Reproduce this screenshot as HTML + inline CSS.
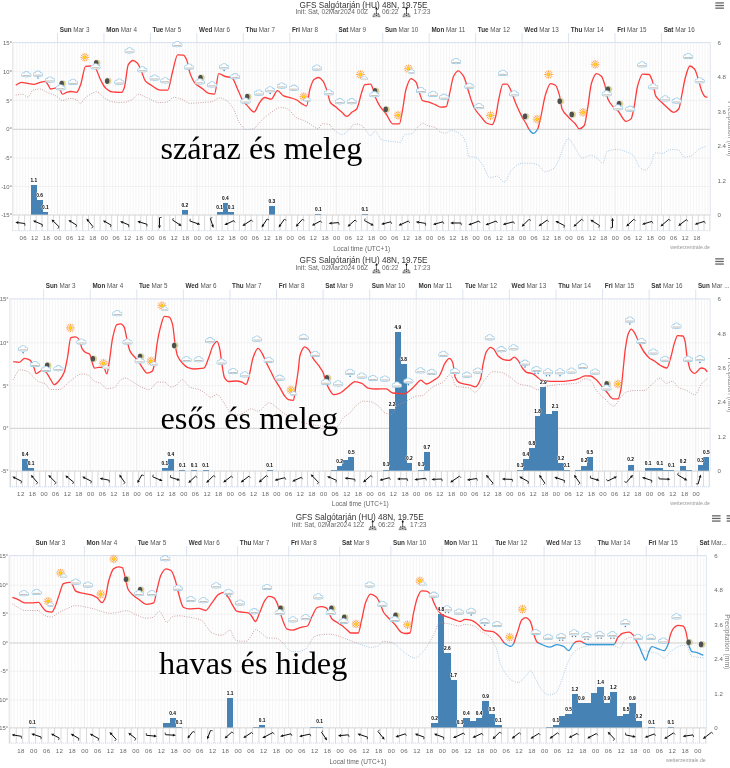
<!DOCTYPE html>
<html><head><meta charset="utf-8"><style>
html,body{margin:0;padding:0;background:#fff;width:730px;height:768px;overflow:hidden}
svg{display:block;font-family:"Liberation Sans", sans-serif;will-change:transform}
</style></head><body>
<svg width="730" height="768" viewBox="0 0 730 768">
<defs><symbol id="cloud" overflow="visible"><g fill="#a3cfe9" stroke="#a3cfe9" stroke-width="1.6"><circle cx="-2.8" cy="1.0" r="1.45"/><circle cx="0.0" cy="0.45" r="2.35"/><circle cx="2.85" cy="1.1" r="1.35"/><rect x="-4.2" y="0.9" width="8.4" height="1.6" rx="0.8"/></g><g fill="#fff"><circle cx="-2.8" cy="1.0" r="1.45"/><circle cx="0.0" cy="0.45" r="2.35"/><circle cx="2.85" cy="1.1" r="1.35"/><rect x="-4.2" y="0.9" width="8.4" height="1.6" rx="0.8"/></g><rect x="-3.7" y="1.35" width="7.4" height="0.95" fill="#c4bcb4"/></symbol><symbol id="sun" overflow="visible"><g stroke="#ff9130" stroke-width="0.85"><line x1="2.3" y1="0" x2="4.3" y2="0"/><line x1="1.99" y1="1.15" x2="3.72" y2="2.15"/><line x1="1.15" y1="1.99" x2="2.15" y2="3.72"/><line x1="0" y1="2.3" x2="0" y2="4.3"/><line x1="-1.15" y1="1.99" x2="-2.15" y2="3.72"/><line x1="-1.99" y1="1.15" x2="-3.72" y2="2.15"/><line x1="-2.3" y1="0" x2="-4.3" y2="0"/><line x1="-1.99" y1="-1.15" x2="-3.72" y2="-2.15"/><line x1="-1.15" y1="-1.99" x2="-2.15" y2="-3.72"/><line x1="-0" y1="-2.3" x2="-0" y2="-4.3"/><line x1="1.15" y1="-1.99" x2="2.15" y2="-3.72"/><line x1="1.99" y1="-1.15" x2="3.72" y2="-2.15"/></g><circle r="1.55" fill="#ffe000" stroke="#ff9000" stroke-width="0.6"/></symbol><clipPath id="mclip"><circle r="3.15"/></clipPath><symbol id="moon" overflow="visible"><circle r="3.5" fill="#bbb" opacity="0.45"/><g clip-path="url(#mclip)"><circle r="3.15" fill="#ddd48e"/><circle cx="-1.7" r="3.05" fill="#4f4f4f"/></g></symbol><symbol id="sunr" overflow="visible"><path d="M-4.3,6.4 A4.3,4.3 0 0 1 4.3,6.4Z" fill="#b8b8b8"/><circle cx="-2.1" cy="3.1" r="0.55" fill="#333"/><circle cx="0" cy="2.5" r="0.55" fill="#333"/><circle cx="2.1" cy="3.1" r="0.55" fill="#333"/><circle cx="-2.6" cy="5.4" r="0.55" fill="#333"/><circle cx="2.6" cy="5.4" r="0.55" fill="#333"/><circle cx="0" cy="4.6" r="0.55" fill="#333"/><line x1="0" y1="-2.6" x2="0" y2="2.8" stroke="#222" stroke-width="0.7"/><path d="M0,-4.1 L-1.1,-1.6 L1.1,-1.6Z" fill="#111"/></symbol><symbol id="suns" overflow="visible"><path d="M-4.3,6.4 A4.3,4.3 0 0 1 4.3,6.4Z" fill="#b8b8b8"/><circle cx="-2.1" cy="3.1" r="0.55" fill="#333"/><circle cx="0" cy="2.5" r="0.55" fill="#333"/><circle cx="2.1" cy="3.1" r="0.55" fill="#333"/><circle cx="-2.6" cy="5.4" r="0.55" fill="#333"/><circle cx="2.6" cy="5.4" r="0.55" fill="#333"/><circle cx="0" cy="4.6" r="0.55" fill="#333"/><line x1="0" y1="-3.9" x2="0" y2="2.8" stroke="#222" stroke-width="0.7"/><path d="M0,-0.4 L-1.1,-2.9 L1.1,-2.9Z" fill="#111"/></symbol><clipPath id="ab1"><rect x="0" y="22.6" width="730" height="106.7"/></clipPath><clipPath id="be1"><rect x="0" y="129.3" width="730" height="95.7"/></clipPath><clipPath id="ab2"><rect x="0" y="278.9" width="730" height="149.4"/></clipPath><clipPath id="be2"><rect x="0" y="428.3" width="730" height="52.8"/></clipPath><clipPath id="ab3"><rect x="0" y="535.6" width="730" height="107.4"/></clipPath><clipPath id="be3"><rect x="0" y="643" width="730" height="94.9"/></clipPath></defs>
<rect width="730" height="768" fill="#fff"/>
<text x="363.5" y="7.5" text-anchor="middle" font-size="8.2" fill="#333">GFS Salgótarján (HU) 48N, 19.75E</text>
<text x="295.5" y="13.7" font-size="6.6" fill="#666">Init: Sat, 02Mar2024 00Z</text>
<use href="#sunr" x="376.4" y="10.8"/>
<text x="382" y="13.7" font-size="6.6" fill="#666">06:22</text>
<use href="#suns" x="406.5" y="10.8"/>
<text x="413.8" y="13.7" font-size="6.6" fill="#666">17:23</text>
<rect x="715.3" y="2.3" width="8.6" height="1.3" fill="#666"/>
<rect x="715.3" y="4.9" width="8.6" height="1.3" fill="#666"/>
<rect x="715.3" y="7.5" width="8.6" height="1.3" fill="#666"/>
<g stroke="#f2f2f2" stroke-width="0.75"><line x1="13.94" y1="42.6" x2="13.94" y2="215"/><line x1="16.85" y1="42.6" x2="16.85" y2="215"/><line x1="19.75" y1="42.6" x2="19.75" y2="215"/><line x1="22.66" y1="42.6" x2="22.66" y2="215"/><line x1="25.56" y1="42.6" x2="25.56" y2="215"/><line x1="28.46" y1="42.6" x2="28.46" y2="215"/><line x1="31.37" y1="42.6" x2="31.37" y2="215"/><line x1="34.27" y1="42.6" x2="34.27" y2="215"/><line x1="37.17" y1="42.6" x2="37.17" y2="215"/><line x1="40.08" y1="42.6" x2="40.08" y2="215"/><line x1="42.98" y1="42.6" x2="42.98" y2="215"/><line x1="45.88" y1="42.6" x2="45.88" y2="215"/><line x1="48.79" y1="42.6" x2="48.79" y2="215"/><line x1="51.69" y1="42.6" x2="51.69" y2="215"/><line x1="54.6" y1="42.6" x2="54.6" y2="215"/><line x1="57.5" y1="42.6" x2="57.5" y2="215"/><line x1="60.4" y1="42.6" x2="60.4" y2="215"/><line x1="63.31" y1="42.6" x2="63.31" y2="215"/><line x1="66.21" y1="42.6" x2="66.21" y2="215"/><line x1="69.11" y1="42.6" x2="69.11" y2="215"/><line x1="72.02" y1="42.6" x2="72.02" y2="215"/><line x1="74.92" y1="42.6" x2="74.92" y2="215"/><line x1="77.83" y1="42.6" x2="77.83" y2="215"/><line x1="80.73" y1="42.6" x2="80.73" y2="215"/><line x1="83.63" y1="42.6" x2="83.63" y2="215"/><line x1="86.54" y1="42.6" x2="86.54" y2="215"/><line x1="89.44" y1="42.6" x2="89.44" y2="215"/><line x1="92.34" y1="42.6" x2="92.34" y2="215"/><line x1="95.25" y1="42.6" x2="95.25" y2="215"/><line x1="98.15" y1="42.6" x2="98.15" y2="215"/><line x1="101.06" y1="42.6" x2="101.06" y2="215"/><line x1="103.96" y1="42.6" x2="103.96" y2="215"/><line x1="106.86" y1="42.6" x2="106.86" y2="215"/><line x1="109.77" y1="42.6" x2="109.77" y2="215"/><line x1="112.67" y1="42.6" x2="112.67" y2="215"/><line x1="115.57" y1="42.6" x2="115.57" y2="215"/><line x1="118.48" y1="42.6" x2="118.48" y2="215"/><line x1="121.38" y1="42.6" x2="121.38" y2="215"/><line x1="124.29" y1="42.6" x2="124.29" y2="215"/><line x1="127.19" y1="42.6" x2="127.19" y2="215"/><line x1="130.09" y1="42.6" x2="130.09" y2="215"/><line x1="133" y1="42.6" x2="133" y2="215"/><line x1="135.9" y1="42.6" x2="135.9" y2="215"/><line x1="138.81" y1="42.6" x2="138.81" y2="215"/><line x1="141.71" y1="42.6" x2="141.71" y2="215"/><line x1="144.61" y1="42.6" x2="144.61" y2="215"/><line x1="147.52" y1="42.6" x2="147.52" y2="215"/><line x1="150.42" y1="42.6" x2="150.42" y2="215"/><line x1="153.32" y1="42.6" x2="153.32" y2="215"/><line x1="156.23" y1="42.6" x2="156.23" y2="215"/><line x1="159.13" y1="42.6" x2="159.13" y2="215"/><line x1="162.04" y1="42.6" x2="162.04" y2="215"/><line x1="164.94" y1="42.6" x2="164.94" y2="215"/><line x1="167.84" y1="42.6" x2="167.84" y2="215"/><line x1="170.75" y1="42.6" x2="170.75" y2="215"/><line x1="173.65" y1="42.6" x2="173.65" y2="215"/><line x1="176.55" y1="42.6" x2="176.55" y2="215"/><line x1="179.46" y1="42.6" x2="179.46" y2="215"/><line x1="182.36" y1="42.6" x2="182.36" y2="215"/><line x1="185.26" y1="42.6" x2="185.26" y2="215"/><line x1="188.17" y1="42.6" x2="188.17" y2="215"/><line x1="191.07" y1="42.6" x2="191.07" y2="215"/><line x1="193.98" y1="42.6" x2="193.98" y2="215"/><line x1="196.88" y1="42.6" x2="196.88" y2="215"/><line x1="199.78" y1="42.6" x2="199.78" y2="215"/><line x1="202.69" y1="42.6" x2="202.69" y2="215"/><line x1="205.59" y1="42.6" x2="205.59" y2="215"/><line x1="208.5" y1="42.6" x2="208.5" y2="215"/><line x1="211.4" y1="42.6" x2="211.4" y2="215"/><line x1="214.3" y1="42.6" x2="214.3" y2="215"/><line x1="217.21" y1="42.6" x2="217.21" y2="215"/><line x1="220.11" y1="42.6" x2="220.11" y2="215"/><line x1="223.01" y1="42.6" x2="223.01" y2="215"/><line x1="225.92" y1="42.6" x2="225.92" y2="215"/><line x1="228.82" y1="42.6" x2="228.82" y2="215"/><line x1="231.72" y1="42.6" x2="231.72" y2="215"/><line x1="234.63" y1="42.6" x2="234.63" y2="215"/><line x1="237.53" y1="42.6" x2="237.53" y2="215"/><line x1="240.44" y1="42.6" x2="240.44" y2="215"/><line x1="243.34" y1="42.6" x2="243.34" y2="215"/><line x1="246.24" y1="42.6" x2="246.24" y2="215"/><line x1="249.15" y1="42.6" x2="249.15" y2="215"/><line x1="252.05" y1="42.6" x2="252.05" y2="215"/><line x1="254.96" y1="42.6" x2="254.96" y2="215"/><line x1="257.86" y1="42.6" x2="257.86" y2="215"/><line x1="260.76" y1="42.6" x2="260.76" y2="215"/><line x1="263.67" y1="42.6" x2="263.67" y2="215"/><line x1="266.57" y1="42.6" x2="266.57" y2="215"/><line x1="269.47" y1="42.6" x2="269.47" y2="215"/><line x1="272.38" y1="42.6" x2="272.38" y2="215"/><line x1="275.28" y1="42.6" x2="275.28" y2="215"/><line x1="278.19" y1="42.6" x2="278.19" y2="215"/><line x1="281.09" y1="42.6" x2="281.09" y2="215"/><line x1="283.99" y1="42.6" x2="283.99" y2="215"/><line x1="286.9" y1="42.6" x2="286.9" y2="215"/><line x1="289.8" y1="42.6" x2="289.8" y2="215"/><line x1="292.7" y1="42.6" x2="292.7" y2="215"/><line x1="295.61" y1="42.6" x2="295.61" y2="215"/><line x1="298.51" y1="42.6" x2="298.51" y2="215"/><line x1="301.41" y1="42.6" x2="301.41" y2="215"/><line x1="304.32" y1="42.6" x2="304.32" y2="215"/><line x1="307.22" y1="42.6" x2="307.22" y2="215"/><line x1="310.13" y1="42.6" x2="310.13" y2="215"/><line x1="313.03" y1="42.6" x2="313.03" y2="215"/><line x1="315.93" y1="42.6" x2="315.93" y2="215"/><line x1="318.84" y1="42.6" x2="318.84" y2="215"/><line x1="321.74" y1="42.6" x2="321.74" y2="215"/><line x1="324.65" y1="42.6" x2="324.65" y2="215"/><line x1="327.55" y1="42.6" x2="327.55" y2="215"/><line x1="330.45" y1="42.6" x2="330.45" y2="215"/><line x1="333.36" y1="42.6" x2="333.36" y2="215"/><line x1="336.26" y1="42.6" x2="336.26" y2="215"/><line x1="339.16" y1="42.6" x2="339.16" y2="215"/><line x1="342.07" y1="42.6" x2="342.07" y2="215"/><line x1="344.97" y1="42.6" x2="344.97" y2="215"/><line x1="347.88" y1="42.6" x2="347.88" y2="215"/><line x1="350.78" y1="42.6" x2="350.78" y2="215"/><line x1="353.68" y1="42.6" x2="353.68" y2="215"/><line x1="356.59" y1="42.6" x2="356.59" y2="215"/><line x1="359.49" y1="42.6" x2="359.49" y2="215"/><line x1="362.39" y1="42.6" x2="362.39" y2="215"/><line x1="365.3" y1="42.6" x2="365.3" y2="215"/><line x1="368.2" y1="42.6" x2="368.2" y2="215"/><line x1="371.11" y1="42.6" x2="371.11" y2="215"/><line x1="374.01" y1="42.6" x2="374.01" y2="215"/><line x1="376.91" y1="42.6" x2="376.91" y2="215"/><line x1="379.82" y1="42.6" x2="379.82" y2="215"/><line x1="382.72" y1="42.6" x2="382.72" y2="215"/><line x1="385.62" y1="42.6" x2="385.62" y2="215"/><line x1="388.53" y1="42.6" x2="388.53" y2="215"/><line x1="391.43" y1="42.6" x2="391.43" y2="215"/><line x1="394.33" y1="42.6" x2="394.33" y2="215"/><line x1="397.24" y1="42.6" x2="397.24" y2="215"/><line x1="400.14" y1="42.6" x2="400.14" y2="215"/><line x1="403.05" y1="42.6" x2="403.05" y2="215"/><line x1="405.95" y1="42.6" x2="405.95" y2="215"/><line x1="408.85" y1="42.6" x2="408.85" y2="215"/><line x1="411.76" y1="42.6" x2="411.76" y2="215"/><line x1="414.66" y1="42.6" x2="414.66" y2="215"/><line x1="417.56" y1="42.6" x2="417.56" y2="215"/><line x1="420.47" y1="42.6" x2="420.47" y2="215"/><line x1="423.37" y1="42.6" x2="423.37" y2="215"/><line x1="426.28" y1="42.6" x2="426.28" y2="215"/><line x1="429.18" y1="42.6" x2="429.18" y2="215"/><line x1="432.08" y1="42.6" x2="432.08" y2="215"/><line x1="434.99" y1="42.6" x2="434.99" y2="215"/><line x1="437.89" y1="42.6" x2="437.89" y2="215"/><line x1="440.8" y1="42.6" x2="440.8" y2="215"/><line x1="443.7" y1="42.6" x2="443.7" y2="215"/><line x1="446.6" y1="42.6" x2="446.6" y2="215"/><line x1="449.51" y1="42.6" x2="449.51" y2="215"/><line x1="452.41" y1="42.6" x2="452.41" y2="215"/><line x1="455.31" y1="42.6" x2="455.31" y2="215"/><line x1="458.22" y1="42.6" x2="458.22" y2="215"/><line x1="461.12" y1="42.6" x2="461.12" y2="215"/><line x1="464.03" y1="42.6" x2="464.03" y2="215"/><line x1="466.93" y1="42.6" x2="466.93" y2="215"/><line x1="469.83" y1="42.6" x2="469.83" y2="215"/><line x1="472.74" y1="42.6" x2="472.74" y2="215"/><line x1="475.64" y1="42.6" x2="475.64" y2="215"/><line x1="478.54" y1="42.6" x2="478.54" y2="215"/><line x1="481.45" y1="42.6" x2="481.45" y2="215"/><line x1="484.35" y1="42.6" x2="484.35" y2="215"/><line x1="487.26" y1="42.6" x2="487.26" y2="215"/><line x1="490.16" y1="42.6" x2="490.16" y2="215"/><line x1="493.06" y1="42.6" x2="493.06" y2="215"/><line x1="495.97" y1="42.6" x2="495.97" y2="215"/><line x1="498.87" y1="42.6" x2="498.87" y2="215"/><line x1="501.77" y1="42.6" x2="501.77" y2="215"/><line x1="504.68" y1="42.6" x2="504.68" y2="215"/><line x1="507.58" y1="42.6" x2="507.58" y2="215"/><line x1="510.48" y1="42.6" x2="510.48" y2="215"/><line x1="513.39" y1="42.6" x2="513.39" y2="215"/><line x1="516.29" y1="42.6" x2="516.29" y2="215"/><line x1="519.2" y1="42.6" x2="519.2" y2="215"/><line x1="522.1" y1="42.6" x2="522.1" y2="215"/><line x1="525" y1="42.6" x2="525" y2="215"/><line x1="527.91" y1="42.6" x2="527.91" y2="215"/><line x1="530.81" y1="42.6" x2="530.81" y2="215"/><line x1="533.71" y1="42.6" x2="533.71" y2="215"/><line x1="536.62" y1="42.6" x2="536.62" y2="215"/><line x1="539.52" y1="42.6" x2="539.52" y2="215"/><line x1="542.43" y1="42.6" x2="542.43" y2="215"/><line x1="545.33" y1="42.6" x2="545.33" y2="215"/><line x1="548.23" y1="42.6" x2="548.23" y2="215"/><line x1="551.14" y1="42.6" x2="551.14" y2="215"/><line x1="554.04" y1="42.6" x2="554.04" y2="215"/><line x1="556.94" y1="42.6" x2="556.94" y2="215"/><line x1="559.85" y1="42.6" x2="559.85" y2="215"/><line x1="562.75" y1="42.6" x2="562.75" y2="215"/><line x1="565.66" y1="42.6" x2="565.66" y2="215"/><line x1="568.56" y1="42.6" x2="568.56" y2="215"/><line x1="571.46" y1="42.6" x2="571.46" y2="215"/><line x1="574.37" y1="42.6" x2="574.37" y2="215"/><line x1="577.27" y1="42.6" x2="577.27" y2="215"/><line x1="580.18" y1="42.6" x2="580.18" y2="215"/><line x1="583.08" y1="42.6" x2="583.08" y2="215"/><line x1="585.98" y1="42.6" x2="585.98" y2="215"/><line x1="588.89" y1="42.6" x2="588.89" y2="215"/><line x1="591.79" y1="42.6" x2="591.79" y2="215"/><line x1="594.69" y1="42.6" x2="594.69" y2="215"/><line x1="597.6" y1="42.6" x2="597.6" y2="215"/><line x1="600.5" y1="42.6" x2="600.5" y2="215"/><line x1="603.4" y1="42.6" x2="603.4" y2="215"/><line x1="606.31" y1="42.6" x2="606.31" y2="215"/><line x1="609.21" y1="42.6" x2="609.21" y2="215"/><line x1="612.12" y1="42.6" x2="612.12" y2="215"/><line x1="615.02" y1="42.6" x2="615.02" y2="215"/><line x1="617.92" y1="42.6" x2="617.92" y2="215"/><line x1="620.83" y1="42.6" x2="620.83" y2="215"/><line x1="623.73" y1="42.6" x2="623.73" y2="215"/><line x1="626.63" y1="42.6" x2="626.63" y2="215"/><line x1="629.54" y1="42.6" x2="629.54" y2="215"/><line x1="632.44" y1="42.6" x2="632.44" y2="215"/><line x1="635.35" y1="42.6" x2="635.35" y2="215"/><line x1="638.25" y1="42.6" x2="638.25" y2="215"/><line x1="641.15" y1="42.6" x2="641.15" y2="215"/><line x1="644.06" y1="42.6" x2="644.06" y2="215"/><line x1="646.96" y1="42.6" x2="646.96" y2="215"/><line x1="649.87" y1="42.6" x2="649.87" y2="215"/><line x1="652.77" y1="42.6" x2="652.77" y2="215"/><line x1="655.67" y1="42.6" x2="655.67" y2="215"/><line x1="658.58" y1="42.6" x2="658.58" y2="215"/><line x1="661.48" y1="42.6" x2="661.48" y2="215"/><line x1="664.38" y1="42.6" x2="664.38" y2="215"/><line x1="667.29" y1="42.6" x2="667.29" y2="215"/><line x1="670.19" y1="42.6" x2="670.19" y2="215"/><line x1="673.1" y1="42.6" x2="673.1" y2="215"/><line x1="676" y1="42.6" x2="676" y2="215"/><line x1="678.9" y1="42.6" x2="678.9" y2="215"/><line x1="681.81" y1="42.6" x2="681.81" y2="215"/><line x1="684.71" y1="42.6" x2="684.71" y2="215"/><line x1="687.61" y1="42.6" x2="687.61" y2="215"/><line x1="690.52" y1="42.6" x2="690.52" y2="215"/><line x1="693.42" y1="42.6" x2="693.42" y2="215"/><line x1="696.33" y1="42.6" x2="696.33" y2="215"/><line x1="699.23" y1="42.6" x2="699.23" y2="215"/><line x1="702.13" y1="42.6" x2="702.13" y2="215"/><line x1="705.04" y1="42.6" x2="705.04" y2="215"/><line x1="707.94" y1="42.6" x2="707.94" y2="215"/></g>
<g stroke="#efefef" stroke-width="0.8"><line x1="12.7" y1="71.6" x2="710.3" y2="71.6"/><line x1="12.7" y1="100.4" x2="710.3" y2="100.4"/><line x1="12.7" y1="158" x2="710.3" y2="158"/><line x1="12.7" y1="186.5" x2="710.3" y2="186.5"/></g>
<g stroke="#eaeaea" stroke-width="0.8"><line x1="57.5" y1="42.6" x2="57.5" y2="215"/><line x1="103.96" y1="42.6" x2="103.96" y2="215"/><line x1="150.42" y1="42.6" x2="150.42" y2="215"/><line x1="196.88" y1="42.6" x2="196.88" y2="215"/><line x1="243.34" y1="42.6" x2="243.34" y2="215"/><line x1="289.8" y1="42.6" x2="289.8" y2="215"/><line x1="336.26" y1="42.6" x2="336.26" y2="215"/><line x1="382.72" y1="42.6" x2="382.72" y2="215"/><line x1="429.18" y1="42.6" x2="429.18" y2="215"/><line x1="475.64" y1="42.6" x2="475.64" y2="215"/><line x1="522.1" y1="42.6" x2="522.1" y2="215"/><line x1="568.56" y1="42.6" x2="568.56" y2="215"/><line x1="615.02" y1="42.6" x2="615.02" y2="215"/><line x1="661.48" y1="42.6" x2="661.48" y2="215"/></g>
<g stroke="#d3dcec" stroke-width="0.8"><line x1="57.5" y1="33.1" x2="57.5" y2="42.6"/><line x1="103.96" y1="33.1" x2="103.96" y2="42.6"/><line x1="150.42" y1="33.1" x2="150.42" y2="42.6"/><line x1="196.88" y1="33.1" x2="196.88" y2="42.6"/><line x1="243.34" y1="33.1" x2="243.34" y2="42.6"/><line x1="289.8" y1="33.1" x2="289.8" y2="42.6"/><line x1="336.26" y1="33.1" x2="336.26" y2="42.6"/><line x1="382.72" y1="33.1" x2="382.72" y2="42.6"/><line x1="429.18" y1="33.1" x2="429.18" y2="42.6"/><line x1="475.64" y1="33.1" x2="475.64" y2="42.6"/><line x1="522.1" y1="33.1" x2="522.1" y2="42.6"/><line x1="568.56" y1="33.1" x2="568.56" y2="42.6"/><line x1="615.02" y1="33.1" x2="615.02" y2="42.6"/><line x1="661.48" y1="33.1" x2="661.48" y2="42.6"/></g>
<line x1="12.7" y1="129.3" x2="710.3" y2="129.3" stroke="#cfcfcf" stroke-width="1"/>
<line x1="12.7" y1="42.6" x2="710.3" y2="42.6" stroke="#d3dcec" stroke-width="0.9"/>
<line x1="710.3" y1="42.6" x2="710.3" y2="215" stroke="#d8dde8" stroke-width="0.8"/>
<line x1="12.7" y1="42.6" x2="12.7" y2="230.7" stroke="#dcdcdc" stroke-width="0.8"/>
<text x="59.7" y="31.5" font-size="6.3" fill="#555"><tspan font-weight="bold" fill="#333">Sun</tspan> Mar 3</text>
<text x="106.16" y="31.5" font-size="6.3" fill="#555"><tspan font-weight="bold" fill="#333">Mon</tspan> Mar 4</text>
<text x="152.62" y="31.5" font-size="6.3" fill="#555"><tspan font-weight="bold" fill="#333">Tue</tspan> Mar 5</text>
<text x="199.08" y="31.5" font-size="6.3" fill="#555"><tspan font-weight="bold" fill="#333">Wed</tspan> Mar 6</text>
<text x="245.54" y="31.5" font-size="6.3" fill="#555"><tspan font-weight="bold" fill="#333">Thu</tspan> Mar 7</text>
<text x="292" y="31.5" font-size="6.3" fill="#555"><tspan font-weight="bold" fill="#333">Fri</tspan> Mar 8</text>
<text x="338.46" y="31.5" font-size="6.3" fill="#555"><tspan font-weight="bold" fill="#333">Sat</tspan> Mar 9</text>
<text x="384.92" y="31.5" font-size="6.3" fill="#555"><tspan font-weight="bold" fill="#333">Sun</tspan> Mar 10</text>
<text x="431.38" y="31.5" font-size="6.3" fill="#555"><tspan font-weight="bold" fill="#333">Mon</tspan> Mar 11</text>
<text x="477.84" y="31.5" font-size="6.3" fill="#555"><tspan font-weight="bold" fill="#333">Tue</tspan> Mar 12</text>
<text x="524.3" y="31.5" font-size="6.3" fill="#555"><tspan font-weight="bold" fill="#333">Wed</tspan> Mar 13</text>
<text x="570.76" y="31.5" font-size="6.3" fill="#555"><tspan font-weight="bold" fill="#333">Thu</tspan> Mar 14</text>
<text x="617.22" y="31.5" font-size="6.3" fill="#555"><tspan font-weight="bold" fill="#333">Fri</tspan> Mar 15</text>
<text x="663.68" y="31.5" font-size="6.3" fill="#555"><tspan font-weight="bold" fill="#333">Sat</tspan> Mar 16</text>
<text x="12" y="44.7" text-anchor="end" font-size="5.9" fill="#666">15°</text>
<text x="12" y="73.7" text-anchor="end" font-size="5.9" fill="#666">10°</text>
<text x="12" y="102.5" text-anchor="end" font-size="5.9" fill="#666">5°</text>
<text x="12" y="131.4" text-anchor="end" font-size="5.9" fill="#666">0°</text>
<text x="12" y="160.1" text-anchor="end" font-size="5.9" fill="#666">-5°</text>
<text x="12" y="188.6" text-anchor="end" font-size="5.9" fill="#666">-10°</text>
<text x="12" y="217.1" text-anchor="end" font-size="5.9" fill="#666">-15°</text>
<text x="717.5" y="217.2" font-size="6.1" fill="#666">0</text>
<text x="717.5" y="182.72" font-size="6.1" fill="#666">1.2</text>
<text x="717.5" y="148.24" font-size="6.1" fill="#666">2.4</text>
<text x="717.5" y="113.76" font-size="6.1" fill="#666">3.6</text>
<text x="717.5" y="79.28" font-size="6.1" fill="#666">4.8</text>
<text x="717.5" y="44.8" font-size="6.1" fill="#666">6</text>
<text transform="translate(728.1,128.8) rotate(90)" text-anchor="middle" font-size="6.8" fill="#808080">Precipitation (mm)</text>
<g fill="#4682b4" shape-rendering="crispEdges"><rect x="30.85" y="185.1" width="5.91" height="29.9"/><rect x="36.66" y="199.9" width="5.91" height="15.1"/><rect x="42.46" y="211.9" width="5.91" height="3.1"/><rect x="181.84" y="210" width="5.91" height="5"/><rect x="216.69" y="212.2" width="5.91" height="2.8"/><rect x="222.5" y="203.2" width="5.91" height="11.8"/><rect x="228.3" y="212.2" width="5.91" height="2.8"/><rect x="268.96" y="206.2" width="5.91" height="8.8"/><rect x="315.42" y="213.9" width="5.91" height="1.1"/><rect x="361.88" y="213.9" width="5.91" height="1.1"/></g>
<path d="M15.75,95.1 C17.93,94.8 20.12,94.2 22.3,94.2 C24.13,94.2 25.97,97.2 27.8,97.2 C29.53,97.2 31.27,90.63 33,90.1 C35.2,89.43 37.4,89 39.6,89 C42.33,89 45.07,91.45 47.8,92.6 C50.53,93.75 53.27,94.49 56,95.9 C58.2,97.03 60.4,100.5 62.6,100.5 C65.07,100.5 67.53,98.4 70,98.4 C71.93,98.4 73.87,98.89 75.8,99.5 C77.33,99.98 78.87,103.3 80.4,103.3 C82.13,103.3 83.87,98.75 85.6,97.5 C89.43,94.74 93.27,91.8 97.1,91.8 C99.3,91.8 101.5,96.09 103.7,97.5 C106.43,99.25 109.17,101.17 111.9,101.6 C115.2,102.12 118.5,102.5 121.8,102.5 C125.07,102.5 128.33,101.34 131.6,100 C133.8,99.1 136,94.2 138.2,94.2 C140.93,94.2 143.67,96.43 146.4,97.5 C150.77,99.21 155.13,102.5 159.5,102.5 C161.97,102.5 164.43,102.35 166.9,102.1 C169.1,101.88 171.3,97.5 173.5,97.5 C175.97,97.5 178.43,98.24 180.9,98.9 C183.9,99.71 186.9,103.3 189.9,103.3 C194.03,103.3 198.17,102.82 202.3,102.5 C205.57,102.25 208.83,102.12 212.1,101.6 C214.57,101.2 217.03,97.9 219.5,97.9 C221.97,97.9 224.43,99.32 226.9,100.8 C229.1,102.12 231.3,105.48 233.5,109 C235.7,112.52 237.9,120.99 240.1,123.8 C242.27,126.56 244.43,129.6 246.6,129.6 C248.8,129.6 251,129.26 253.2,128.8 C255.93,128.23 258.67,123.11 261.4,120.6 C264.67,117.6 267.93,114.34 271.2,112.3 C274.5,110.24 277.8,107.4 281.1,107.4 C283.3,107.4 285.5,108.16 287.7,109 C290.43,110.05 293.17,115.67 295.9,117.3 C299.2,119.27 302.5,119.73 305.8,121.4 C307.97,122.5 310.13,124.21 312.3,125.5 C314.23,126.66 316.17,128.8 318.1,128.8 C319.47,128.8 320.83,123.8 322.2,123.8 C324.4,123.8 326.6,123.94 328.8,124.2 C330.43,124.4 332.07,128.3 333.7,129.6 C336.43,131.77 339.17,134.5 341.9,134.5 C344.37,134.5 346.83,131.76 349.3,129.6 C350.67,128.4 352.03,125.09 353.4,124.7 C354.6,124.35 355.8,124.1 357,124.1 C358.7,124.1 360.4,124.95 362.1,125.9 C363.4,126.63 364.7,129.1 366,130.6 C367.57,132.41 369.13,135.8 370.7,135.8 C372.17,135.8 373.63,131.1 375.1,131.1 C377.27,131.1 379.43,139 381.6,139.7 C385.1,140.83 388.6,141.07 392.1,141.5 C394.87,141.84 397.63,142.3 400.4,142.3 C401.77,142.3 403.13,134.82 404.5,134.5 C406.87,133.95 409.23,134.19 411.6,133.7 C413.77,133.25 415.93,128.56 418.1,126.7 C419.67,125.36 421.23,123.3 422.8,123.3 C424.7,123.3 426.6,125.29 428.5,125.9 C430.67,126.6 432.83,126.66 435,127.5 C436.73,128.17 438.47,131.23 440.2,131.9 C441.93,132.57 443.67,133.2 445.4,133.2 C447.4,133.2 449.4,130.6 451.4,130.6 C454.6,130.6 457.8,132.25 461,134.5 C462.73,135.72 464.47,138.85 466.2,143.6 C467.07,145.97 467.93,156.42 468.8,156.6 C470.97,157.06 473.13,156.84 475.3,157.2 C477.93,157.64 480.57,162.2 483.2,165.8 C485.37,168.76 487.53,177.5 489.7,177.5 C492.3,177.5 494.9,176.2 497.5,176.2 C499.67,176.2 501.83,182.2 504,182.2 C506.6,182.2 509.2,172.09 511.8,169.7 C515.27,166.52 518.73,163.2 522.2,163.2 C524.5,163.2 526.8,163.2 529.1,163.2 C532.13,163.2 535.17,163.95 538.2,165 C540.37,165.75 542.53,171.7 544.7,171.7 C547.73,171.7 550.77,170.34 553.8,168.4 C555.53,167.29 557.27,162.93 559,159.2 C560.73,155.47 562.47,148.4 564.2,144.9 C565.53,142.21 566.87,138.4 568.2,138.4 C569.93,138.4 571.67,142.6 573.4,144.9 C576.43,148.93 579.47,158 582.5,158 C585.27,158 588.03,155.3 590.8,155.3 C592.8,155.3 594.8,156.82 596.8,158 C598.8,159.18 600.8,163.2 602.8,163.2 C604.27,163.2 605.73,152 607.2,151.4 C610.67,149.99 614.13,149.4 617.6,149.4 C620.63,149.4 623.67,150.87 626.7,152 C628.87,152.8 631.03,153.58 633.2,155.3 C635.37,157.02 637.53,165.19 639.7,167.1 C641.43,168.63 643.17,170.2 644.9,170.2 C646.63,170.2 648.37,168 650.1,165.8 C651.83,163.6 653.57,152.7 655.3,152.7 C657.5,152.7 659.7,153.5 661.9,153.5 C664.93,153.5 667.97,149.4 671,149.4 C673.6,149.4 676.2,149.63 678.8,150.1 C680.53,150.41 682.27,157.2 684,157.2 C686.17,157.2 688.33,156.68 690.5,156.1 C693.53,155.28 696.57,150.28 699.6,148.8 C702.03,147.62 704.47,147.07 706.9,146.2" fill="none" stroke="#bf9090" stroke-width="0.9" stroke-dasharray="0.9 1.5" clip-path="url(#ab1)"/>
<path d="M15.75,95.1 C17.93,94.8 20.12,94.2 22.3,94.2 C24.13,94.2 25.97,97.2 27.8,97.2 C29.53,97.2 31.27,90.63 33,90.1 C35.2,89.43 37.4,89 39.6,89 C42.33,89 45.07,91.45 47.8,92.6 C50.53,93.75 53.27,94.49 56,95.9 C58.2,97.03 60.4,100.5 62.6,100.5 C65.07,100.5 67.53,98.4 70,98.4 C71.93,98.4 73.87,98.89 75.8,99.5 C77.33,99.98 78.87,103.3 80.4,103.3 C82.13,103.3 83.87,98.75 85.6,97.5 C89.43,94.74 93.27,91.8 97.1,91.8 C99.3,91.8 101.5,96.09 103.7,97.5 C106.43,99.25 109.17,101.17 111.9,101.6 C115.2,102.12 118.5,102.5 121.8,102.5 C125.07,102.5 128.33,101.34 131.6,100 C133.8,99.1 136,94.2 138.2,94.2 C140.93,94.2 143.67,96.43 146.4,97.5 C150.77,99.21 155.13,102.5 159.5,102.5 C161.97,102.5 164.43,102.35 166.9,102.1 C169.1,101.88 171.3,97.5 173.5,97.5 C175.97,97.5 178.43,98.24 180.9,98.9 C183.9,99.71 186.9,103.3 189.9,103.3 C194.03,103.3 198.17,102.82 202.3,102.5 C205.57,102.25 208.83,102.12 212.1,101.6 C214.57,101.2 217.03,97.9 219.5,97.9 C221.97,97.9 224.43,99.32 226.9,100.8 C229.1,102.12 231.3,105.48 233.5,109 C235.7,112.52 237.9,120.99 240.1,123.8 C242.27,126.56 244.43,129.6 246.6,129.6 C248.8,129.6 251,129.26 253.2,128.8 C255.93,128.23 258.67,123.11 261.4,120.6 C264.67,117.6 267.93,114.34 271.2,112.3 C274.5,110.24 277.8,107.4 281.1,107.4 C283.3,107.4 285.5,108.16 287.7,109 C290.43,110.05 293.17,115.67 295.9,117.3 C299.2,119.27 302.5,119.73 305.8,121.4 C307.97,122.5 310.13,124.21 312.3,125.5 C314.23,126.66 316.17,128.8 318.1,128.8 C319.47,128.8 320.83,123.8 322.2,123.8 C324.4,123.8 326.6,123.94 328.8,124.2 C330.43,124.4 332.07,128.3 333.7,129.6 C336.43,131.77 339.17,134.5 341.9,134.5 C344.37,134.5 346.83,131.76 349.3,129.6 C350.67,128.4 352.03,125.09 353.4,124.7 C354.6,124.35 355.8,124.1 357,124.1 C358.7,124.1 360.4,124.95 362.1,125.9 C363.4,126.63 364.7,129.1 366,130.6 C367.57,132.41 369.13,135.8 370.7,135.8 C372.17,135.8 373.63,131.1 375.1,131.1 C377.27,131.1 379.43,139 381.6,139.7 C385.1,140.83 388.6,141.07 392.1,141.5 C394.87,141.84 397.63,142.3 400.4,142.3 C401.77,142.3 403.13,134.82 404.5,134.5 C406.87,133.95 409.23,134.19 411.6,133.7 C413.77,133.25 415.93,128.56 418.1,126.7 C419.67,125.36 421.23,123.3 422.8,123.3 C424.7,123.3 426.6,125.29 428.5,125.9 C430.67,126.6 432.83,126.66 435,127.5 C436.73,128.17 438.47,131.23 440.2,131.9 C441.93,132.57 443.67,133.2 445.4,133.2 C447.4,133.2 449.4,130.6 451.4,130.6 C454.6,130.6 457.8,132.25 461,134.5 C462.73,135.72 464.47,138.85 466.2,143.6 C467.07,145.97 467.93,156.42 468.8,156.6 C470.97,157.06 473.13,156.84 475.3,157.2 C477.93,157.64 480.57,162.2 483.2,165.8 C485.37,168.76 487.53,177.5 489.7,177.5 C492.3,177.5 494.9,176.2 497.5,176.2 C499.67,176.2 501.83,182.2 504,182.2 C506.6,182.2 509.2,172.09 511.8,169.7 C515.27,166.52 518.73,163.2 522.2,163.2 C524.5,163.2 526.8,163.2 529.1,163.2 C532.13,163.2 535.17,163.95 538.2,165 C540.37,165.75 542.53,171.7 544.7,171.7 C547.73,171.7 550.77,170.34 553.8,168.4 C555.53,167.29 557.27,162.93 559,159.2 C560.73,155.47 562.47,148.4 564.2,144.9 C565.53,142.21 566.87,138.4 568.2,138.4 C569.93,138.4 571.67,142.6 573.4,144.9 C576.43,148.93 579.47,158 582.5,158 C585.27,158 588.03,155.3 590.8,155.3 C592.8,155.3 594.8,156.82 596.8,158 C598.8,159.18 600.8,163.2 602.8,163.2 C604.27,163.2 605.73,152 607.2,151.4 C610.67,149.99 614.13,149.4 617.6,149.4 C620.63,149.4 623.67,150.87 626.7,152 C628.87,152.8 631.03,153.58 633.2,155.3 C635.37,157.02 637.53,165.19 639.7,167.1 C641.43,168.63 643.17,170.2 644.9,170.2 C646.63,170.2 648.37,168 650.1,165.8 C651.83,163.6 653.57,152.7 655.3,152.7 C657.5,152.7 659.7,153.5 661.9,153.5 C664.93,153.5 667.97,149.4 671,149.4 C673.6,149.4 676.2,149.63 678.8,150.1 C680.53,150.41 682.27,157.2 684,157.2 C686.17,157.2 688.33,156.68 690.5,156.1 C693.53,155.28 696.57,150.28 699.6,148.8 C702.03,147.62 704.47,147.07 706.9,146.2" fill="none" stroke="#9dbfe0" stroke-width="0.9" stroke-dasharray="0.9 1.4" clip-path="url(#be1)"/>
<path d="M15.75,85.2 C17.67,84.27 19.58,82.4 21.5,82.4 C23.13,82.4 24.77,82.84 26.4,83.1 C28.87,83.49 31.33,84.4 33.8,84.4 C35.73,84.4 37.67,83.2 39.6,82.7 C41.5,82.21 43.4,81.4 45.3,81.4 C46.13,81.4 46.97,83.28 47.8,84.4 C48.8,85.74 49.8,89 50.8,89 C52.53,89 54.27,88 56,88 C57.1,88 58.2,88.19 59.3,88.5 C60.3,88.78 61.3,94.2 62.3,94.2 C63.77,94.2 65.23,92.69 66.7,92.3 C68.07,91.93 69.43,91.5 70.8,91.5 C72.73,91.5 74.67,92.3 76.6,92.3 C77.97,92.3 79.33,87.83 80.7,84.4 C82.33,80.3 83.97,66.5 85.6,66.3 C87.23,66.1 88.87,66 90.5,66 C91.9,66 93.3,66.47 94.7,67.1 C96.6,67.95 98.5,75.92 100.4,79.5 C102.03,82.58 103.67,86.19 105.3,87.7 C107.5,89.74 109.7,91.58 111.9,91.8 C115.2,92.13 118.5,92.3 121.8,92.3 C122.63,92.3 123.47,89.93 124.3,87.7 C125.63,84.12 126.97,66.84 128.3,64.7 C129.83,62.24 131.37,60.5 132.9,60.5 C134.37,60.5 135.83,61.69 137.3,63 C138.67,64.22 140.03,68.21 141.4,71.2 C142.77,74.19 144.13,79.56 145.5,81.1 C147.43,83.28 149.37,84 151.3,85.2 C154.3,87.06 157.3,90.1 160.3,90.1 C162.77,90.1 165.23,90.1 167.7,90.1 C169.37,90.1 171.03,77.12 172.7,71.2 C174.33,65.4 175.97,54.8 177.6,54.8 C179.53,54.8 181.47,54.89 183.4,55.1 C184.47,55.22 185.53,57.45 186.6,59.7 C187.7,62.02 188.8,69.86 189.9,72.9 C191.57,77.51 193.23,81.25 194.9,83.1 C197.37,85.83 199.83,86.67 202.3,88.5 C204.47,90.11 206.63,92.9 208.8,93.4 C210.73,93.85 212.67,94.2 214.6,94.2 C215.97,94.2 217.33,73.7 218.7,73.7 C220.9,73.7 223.1,75.91 225.3,76.5 C227.5,77.09 229.7,77.01 231.9,77.8 C234.07,78.58 236.23,86.5 238.4,91 C240.07,94.46 241.73,99.34 243.4,101.6 C244.47,103.04 245.53,103.83 246.6,104.9 C249.07,107.36 251.53,112 254,112 C255.9,112 257.8,104.86 259.7,102.5 C261.37,100.43 263.03,97.5 264.7,97.5 C266.87,97.5 269.03,99.2 271.2,99.2 C273.3,99.2 275.4,90.6 277.5,90.6 C279.53,90.6 281.57,95.05 283.6,95.9 C286.07,96.93 288.53,97.13 291,97.9 C292.9,98.5 294.8,99.08 296.7,100 C298.63,100.94 300.57,103 302.5,104.1 C303.87,104.88 305.23,106.1 306.6,106.1 C307.7,106.1 308.8,92.93 309.9,89.3 C311.27,84.8 312.63,80.52 314,79.5 C315.53,78.36 317.07,77.5 318.6,77.5 C320.07,77.5 321.53,79.3 323,81.1 C324.37,82.78 325.73,87.08 327.1,91 C328.2,94.16 329.3,100.95 330.4,102.5 C332.03,104.8 333.67,105.21 335.3,106.6 C337.5,108.47 339.7,110.45 341.9,112.3 C343.57,113.7 345.23,116.4 346.9,116.4 C348.53,116.4 350.17,113.52 351.8,112.3 C353.43,111.08 355.07,110.93 356.7,109 C357.23,108.37 357.77,106.49 358.3,104.9 C359.4,101.63 360.5,95.81 361.6,92.6 C362.7,89.39 363.8,84.94 364.9,84.7 C366.8,84.28 368.7,84.1 370.6,84.1 C371.43,84.1 372.27,87.14 373.1,89.3 C373.9,91.37 374.7,95.45 375.5,97.5 C376.9,101.09 378.3,103.61 379.7,105.8 C381.87,109.19 384.03,111.05 386.2,114 C388.4,117 390.6,123.8 392.8,123.8 C395,123.8 397.2,123.8 399.4,123.8 C400.5,123.8 401.6,114.63 402.7,109 C403.8,103.37 404.9,92.93 406,89.3 C407.63,83.91 409.27,78.6 410.9,78.6 C412.53,78.6 414.17,80.07 415.8,81.9 C417.17,83.43 418.53,90.48 419.9,94.2 C420.73,96.47 421.57,100.08 422.4,100.5 C424.6,101.61 426.8,101.42 429,102.1 C431.2,102.78 433.4,103.94 435.6,104.9 C437.23,105.61 438.87,107.1 440.5,107.1 C442.4,107.1 444.3,106.96 446.2,106.6 C447.3,106.39 448.4,98.64 449.5,94.2 C450.87,88.68 452.23,78.72 453.6,76.2 C455.13,73.37 456.67,70.9 458.2,70.9 C459.97,70.9 461.73,73.53 463.5,76.2 C465.13,78.67 466.77,85.9 468.4,91 C469.5,94.43 470.6,98.64 471.7,101.6 C472.77,104.47 473.83,107.2 474.9,109 C477.1,112.71 479.3,114.65 481.5,117.3 C483.13,119.27 484.77,122.22 486.4,123 C488.33,123.92 490.27,124.7 492.2,124.7 C493.3,124.7 494.4,120.8 495.5,117.3 C496.6,113.8 497.7,104.08 498.8,99.2 C500.17,93.13 501.53,84.1 502.9,84.1 C504.27,84.1 505.63,84.1 507,84.1 C508.37,84.1 509.73,88.2 511.1,91 C512.73,94.35 514.37,100.22 516,104.1 C517.93,108.69 519.87,112.77 521.8,116.4 C523.43,119.47 525.07,121.71 526.7,124.7 C527.53,126.23 528.37,128.52 529.2,129.6 C530.57,131.37 531.93,133.4 533.3,133.4 C534.67,133.4 536.03,131.67 537.4,129.6 C538.5,127.93 539.6,121.84 540.7,117.3 C542.33,110.55 543.97,98.98 545.6,94.2 C547.27,89.32 548.93,83.6 550.6,83.6 C552.23,83.6 553.87,84.23 555.5,85.2 C556.87,86.01 558.23,91.01 559.6,95.9 C560.43,98.88 561.27,107.12 562.1,109 C564.27,113.89 566.43,114.89 568.6,117.3 C570.8,119.75 573,121.38 575.2,123.8 C576.57,125.3 577.93,128.8 579.3,128.8 C580.97,128.8 582.63,127.57 584.3,125.5 C585.37,124.18 586.43,115.07 587.5,109 C588.87,101.22 590.23,86.67 591.6,82.7 C593.23,77.96 594.87,73.7 596.5,73.7 C598.13,73.7 599.77,74.76 601.4,76.2 C602.5,77.17 603.6,80.88 604.7,84.4 C605.8,87.92 606.9,96.66 608,99.2 C609.67,103.04 611.33,104.82 613,106.6 C614.63,108.34 616.27,109.06 617.9,110.7 C620.63,113.44 623.37,121.4 626.1,121.4 C627.73,121.4 629.37,120.45 631,118.9 C632.1,117.85 633.2,111.06 634.3,105.8 C635.4,100.54 636.5,89.89 637.6,86 C639.23,80.23 640.87,74.2 642.5,74.2 C644.7,74.2 646.9,74.28 649.1,74.5 C650.2,74.61 651.3,78.06 652.4,81.1 C653.5,84.14 654.6,93.9 655.7,95.9 C657.33,98.86 658.97,99.55 660.6,101.2 C662.8,103.42 665,105.58 667.2,107.4 C669.4,109.22 671.6,112.3 673.8,112.3 C675.43,112.3 677.07,111.01 678.7,109 C679.8,107.65 680.9,99.39 682,94.2 C683.1,89.01 684.2,81.59 685.3,77.8 C686.83,72.52 688.37,66 689.9,66 C691.37,66 692.83,67.29 694.3,68.8 C695.67,70.21 697.03,75.4 698.4,79.5 C699.5,82.8 700.6,88.46 701.7,91 C702.8,93.54 703.9,96.17 705,96.7 C705.8,97.08 706.6,97.17 707.4,97.4" fill="none" stroke="#ff3b3b" stroke-width="1.3" stroke-linejoin="round" clip-path="url(#ab1)"/>
<path d="M15.75,85.2 C17.67,84.27 19.58,82.4 21.5,82.4 C23.13,82.4 24.77,82.84 26.4,83.1 C28.87,83.49 31.33,84.4 33.8,84.4 C35.73,84.4 37.67,83.2 39.6,82.7 C41.5,82.21 43.4,81.4 45.3,81.4 C46.13,81.4 46.97,83.28 47.8,84.4 C48.8,85.74 49.8,89 50.8,89 C52.53,89 54.27,88 56,88 C57.1,88 58.2,88.19 59.3,88.5 C60.3,88.78 61.3,94.2 62.3,94.2 C63.77,94.2 65.23,92.69 66.7,92.3 C68.07,91.93 69.43,91.5 70.8,91.5 C72.73,91.5 74.67,92.3 76.6,92.3 C77.97,92.3 79.33,87.83 80.7,84.4 C82.33,80.3 83.97,66.5 85.6,66.3 C87.23,66.1 88.87,66 90.5,66 C91.9,66 93.3,66.47 94.7,67.1 C96.6,67.95 98.5,75.92 100.4,79.5 C102.03,82.58 103.67,86.19 105.3,87.7 C107.5,89.74 109.7,91.58 111.9,91.8 C115.2,92.13 118.5,92.3 121.8,92.3 C122.63,92.3 123.47,89.93 124.3,87.7 C125.63,84.12 126.97,66.84 128.3,64.7 C129.83,62.24 131.37,60.5 132.9,60.5 C134.37,60.5 135.83,61.69 137.3,63 C138.67,64.22 140.03,68.21 141.4,71.2 C142.77,74.19 144.13,79.56 145.5,81.1 C147.43,83.28 149.37,84 151.3,85.2 C154.3,87.06 157.3,90.1 160.3,90.1 C162.77,90.1 165.23,90.1 167.7,90.1 C169.37,90.1 171.03,77.12 172.7,71.2 C174.33,65.4 175.97,54.8 177.6,54.8 C179.53,54.8 181.47,54.89 183.4,55.1 C184.47,55.22 185.53,57.45 186.6,59.7 C187.7,62.02 188.8,69.86 189.9,72.9 C191.57,77.51 193.23,81.25 194.9,83.1 C197.37,85.83 199.83,86.67 202.3,88.5 C204.47,90.11 206.63,92.9 208.8,93.4 C210.73,93.85 212.67,94.2 214.6,94.2 C215.97,94.2 217.33,73.7 218.7,73.7 C220.9,73.7 223.1,75.91 225.3,76.5 C227.5,77.09 229.7,77.01 231.9,77.8 C234.07,78.58 236.23,86.5 238.4,91 C240.07,94.46 241.73,99.34 243.4,101.6 C244.47,103.04 245.53,103.83 246.6,104.9 C249.07,107.36 251.53,112 254,112 C255.9,112 257.8,104.86 259.7,102.5 C261.37,100.43 263.03,97.5 264.7,97.5 C266.87,97.5 269.03,99.2 271.2,99.2 C273.3,99.2 275.4,90.6 277.5,90.6 C279.53,90.6 281.57,95.05 283.6,95.9 C286.07,96.93 288.53,97.13 291,97.9 C292.9,98.5 294.8,99.08 296.7,100 C298.63,100.94 300.57,103 302.5,104.1 C303.87,104.88 305.23,106.1 306.6,106.1 C307.7,106.1 308.8,92.93 309.9,89.3 C311.27,84.8 312.63,80.52 314,79.5 C315.53,78.36 317.07,77.5 318.6,77.5 C320.07,77.5 321.53,79.3 323,81.1 C324.37,82.78 325.73,87.08 327.1,91 C328.2,94.16 329.3,100.95 330.4,102.5 C332.03,104.8 333.67,105.21 335.3,106.6 C337.5,108.47 339.7,110.45 341.9,112.3 C343.57,113.7 345.23,116.4 346.9,116.4 C348.53,116.4 350.17,113.52 351.8,112.3 C353.43,111.08 355.07,110.93 356.7,109 C357.23,108.37 357.77,106.49 358.3,104.9 C359.4,101.63 360.5,95.81 361.6,92.6 C362.7,89.39 363.8,84.94 364.9,84.7 C366.8,84.28 368.7,84.1 370.6,84.1 C371.43,84.1 372.27,87.14 373.1,89.3 C373.9,91.37 374.7,95.45 375.5,97.5 C376.9,101.09 378.3,103.61 379.7,105.8 C381.87,109.19 384.03,111.05 386.2,114 C388.4,117 390.6,123.8 392.8,123.8 C395,123.8 397.2,123.8 399.4,123.8 C400.5,123.8 401.6,114.63 402.7,109 C403.8,103.37 404.9,92.93 406,89.3 C407.63,83.91 409.27,78.6 410.9,78.6 C412.53,78.6 414.17,80.07 415.8,81.9 C417.17,83.43 418.53,90.48 419.9,94.2 C420.73,96.47 421.57,100.08 422.4,100.5 C424.6,101.61 426.8,101.42 429,102.1 C431.2,102.78 433.4,103.94 435.6,104.9 C437.23,105.61 438.87,107.1 440.5,107.1 C442.4,107.1 444.3,106.96 446.2,106.6 C447.3,106.39 448.4,98.64 449.5,94.2 C450.87,88.68 452.23,78.72 453.6,76.2 C455.13,73.37 456.67,70.9 458.2,70.9 C459.97,70.9 461.73,73.53 463.5,76.2 C465.13,78.67 466.77,85.9 468.4,91 C469.5,94.43 470.6,98.64 471.7,101.6 C472.77,104.47 473.83,107.2 474.9,109 C477.1,112.71 479.3,114.65 481.5,117.3 C483.13,119.27 484.77,122.22 486.4,123 C488.33,123.92 490.27,124.7 492.2,124.7 C493.3,124.7 494.4,120.8 495.5,117.3 C496.6,113.8 497.7,104.08 498.8,99.2 C500.17,93.13 501.53,84.1 502.9,84.1 C504.27,84.1 505.63,84.1 507,84.1 C508.37,84.1 509.73,88.2 511.1,91 C512.73,94.35 514.37,100.22 516,104.1 C517.93,108.69 519.87,112.77 521.8,116.4 C523.43,119.47 525.07,121.71 526.7,124.7 C527.53,126.23 528.37,128.52 529.2,129.6 C530.57,131.37 531.93,133.4 533.3,133.4 C534.67,133.4 536.03,131.67 537.4,129.6 C538.5,127.93 539.6,121.84 540.7,117.3 C542.33,110.55 543.97,98.98 545.6,94.2 C547.27,89.32 548.93,83.6 550.6,83.6 C552.23,83.6 553.87,84.23 555.5,85.2 C556.87,86.01 558.23,91.01 559.6,95.9 C560.43,98.88 561.27,107.12 562.1,109 C564.27,113.89 566.43,114.89 568.6,117.3 C570.8,119.75 573,121.38 575.2,123.8 C576.57,125.3 577.93,128.8 579.3,128.8 C580.97,128.8 582.63,127.57 584.3,125.5 C585.37,124.18 586.43,115.07 587.5,109 C588.87,101.22 590.23,86.67 591.6,82.7 C593.23,77.96 594.87,73.7 596.5,73.7 C598.13,73.7 599.77,74.76 601.4,76.2 C602.5,77.17 603.6,80.88 604.7,84.4 C605.8,87.92 606.9,96.66 608,99.2 C609.67,103.04 611.33,104.82 613,106.6 C614.63,108.34 616.27,109.06 617.9,110.7 C620.63,113.44 623.37,121.4 626.1,121.4 C627.73,121.4 629.37,120.45 631,118.9 C632.1,117.85 633.2,111.06 634.3,105.8 C635.4,100.54 636.5,89.89 637.6,86 C639.23,80.23 640.87,74.2 642.5,74.2 C644.7,74.2 646.9,74.28 649.1,74.5 C650.2,74.61 651.3,78.06 652.4,81.1 C653.5,84.14 654.6,93.9 655.7,95.9 C657.33,98.86 658.97,99.55 660.6,101.2 C662.8,103.42 665,105.58 667.2,107.4 C669.4,109.22 671.6,112.3 673.8,112.3 C675.43,112.3 677.07,111.01 678.7,109 C679.8,107.65 680.9,99.39 682,94.2 C683.1,89.01 684.2,81.59 685.3,77.8 C686.83,72.52 688.37,66 689.9,66 C691.37,66 692.83,67.29 694.3,68.8 C695.67,70.21 697.03,75.4 698.4,79.5 C699.5,82.8 700.6,88.46 701.7,91 C702.8,93.54 703.9,96.17 705,96.7 C705.8,97.08 706.6,97.17 707.4,97.4" fill="none" stroke="#3a9ad9" stroke-width="1.3" stroke-linejoin="round" clip-path="url(#be1)"/>
<g><use href="#cloud" x="26.4" y="73.8"/><use href="#cloud" x="38" y="73.3"/><circle cx="38" cy="78" r="0.75" fill="#2f7fc0"/><use href="#cloud" x="50" y="79.1"/><use href="#moon" x="62.6" y="83.6"/><use href="#cloud" x="60.6" y="86.9"/><use href="#cloud" x="73" y="81.5"/><use href="#sun" x="84.8" y="57.3"/><use href="#moon" x="97.1" y="63"/><use href="#cloud" x="95.5" y="65.9"/><use href="#moon" x="108.1" y="81.1"/><use href="#cloud" x="119.3" y="81.2"/><use href="#cloud" x="129.6" y="50"/><use href="#cloud" x="142.3" y="68.9"/><use href="#cloud" x="154.6" y="77.1"/><use href="#cloud" x="165.3" y="79.9"/><use href="#cloud" x="177.3" y="43.7"/><use href="#cloud" x="189.1" y="66.2"/><use href="#moon" x="201.4" y="77.8"/><use href="#cloud" x="199.8" y="81"/><use href="#cloud" x="212.1" y="84"/><use href="#cloud" x="224.1" y="65.9"/><circle cx="224.1" cy="70.6" r="0.75" fill="#2f7fc0"/><use href="#cloud" x="235.1" y="75.8"/><use href="#moon" x="248.2" y="96.7"/><use href="#cloud" x="245.5" y="100.2"/><use href="#cloud" x="258.9" y="92.2"/><use href="#cloud" x="270.1" y="88.9"/><circle cx="270.1" cy="93.6" r="0.75" fill="#2f7fc0"/><use href="#cloud" x="281.9" y="85.1"/><use href="#cloud" x="293.9" y="87.3"/><use href="#sun" x="303.8" y="96.7"/><use href="#cloud" transform="translate(307.4,99.1) scale(0.72)"/><use href="#cloud" x="316.9" y="67.2"/><use href="#cloud" x="328.8" y="91.9"/><use href="#cloud" x="339.8" y="100.8"/><use href="#cloud" x="351.8" y="100.8"/><use href="#sun" x="360.4" y="74.5"/><use href="#cloud" transform="translate(364.3,77.7) scale(0.72)"/><use href="#moon" x="376" y="91"/><use href="#cloud" x="374.4" y="93.8"/><use href="#moon" x="386.6" y="109.4"/><use href="#sun" x="398.1" y="115.3"/><use href="#sun" x="408.4" y="68.8"/><use href="#cloud" transform="translate(411.5,71.1) scale(0.72)"/><use href="#cloud" x="421.1" y="89.7"/><use href="#cloud" x="433.1" y="93.5"/><use href="#cloud" x="444.1" y="96.3"/><use href="#cloud" x="456.1" y="60.6"/><use href="#cloud" x="469.4" y="85.4"/><use href="#cloud" x="479" y="105.7"/><use href="#sun" x="490.5" y="115.6"/><use href="#cloud" x="502.9" y="72.5"/><use href="#cloud" x="514.1" y="93"/><use href="#moon" x="525.9" y="116.4"/><use href="#sun" x="537.1" y="119.2"/><use href="#sun" x="548.6" y="74.5"/><use href="#moon" x="560.7" y="101.2"/><use href="#moon" x="572.7" y="114.5"/><use href="#sun" x="583.1" y="112.3"/><use href="#sun" x="595.2" y="64.3"/><use href="#moon" x="608.8" y="89.3"/><use href="#cloud" x="606.7" y="93"/><use href="#moon" x="619.9" y="103.8"/><use href="#cloud" x="617.9" y="107"/><use href="#cloud" x="630.2" y="108.3"/><use href="#cloud" x="642.2" y="63.9"/><use href="#cloud" x="653.2" y="86"/><use href="#cloud" x="665.2" y="98"/><use href="#cloud" x="676.7" y="100.1"/><use href="#cloud" x="688.2" y="55.6"/><use href="#cloud" x="699.7" y="79.9"/></g>
<g font-size="4.8" font-weight="bold" fill="#000" stroke="#fff" stroke-width="0.9" paint-order="stroke"><text x="33.75" y="181.9" text-anchor="middle">1.1</text><text x="39.56" y="196.7" text-anchor="middle">0.6</text><text x="45.37" y="208.7" text-anchor="middle">0.1</text><text x="184.75" y="206.8" text-anchor="middle">0.2</text><text x="219.59" y="209" text-anchor="middle">0.1</text><text x="225.4" y="200" text-anchor="middle">0.4</text><text x="231.21" y="209" text-anchor="middle">0.1</text><text x="271.86" y="203" text-anchor="middle">0.3</text><text x="318.32" y="210.7" text-anchor="middle">0.1</text><text x="364.78" y="210.7" text-anchor="middle">0.1</text></g>
<g stroke="#d0d0d0" stroke-width="0.8"><line x1="18.78" y1="215" x2="18.78" y2="230.7"/><line x1="24.59" y1="215" x2="24.59" y2="230.7"/><line x1="30.4" y1="215" x2="30.4" y2="230.7"/><line x1="36.21" y1="215" x2="36.21" y2="230.7"/><line x1="42.01" y1="215" x2="42.01" y2="230.7"/><line x1="47.82" y1="215" x2="47.82" y2="230.7"/><line x1="53.63" y1="215" x2="53.63" y2="230.7"/><line x1="59.44" y1="215" x2="59.44" y2="230.7"/><line x1="65.24" y1="215" x2="65.24" y2="230.7"/><line x1="71.05" y1="215" x2="71.05" y2="230.7"/><line x1="76.86" y1="215" x2="76.86" y2="230.7"/><line x1="82.67" y1="215" x2="82.67" y2="230.7"/><line x1="88.47" y1="215" x2="88.47" y2="230.7"/><line x1="94.28" y1="215" x2="94.28" y2="230.7"/><line x1="100.09" y1="215" x2="100.09" y2="230.7"/><line x1="105.9" y1="215" x2="105.9" y2="230.7"/><line x1="111.7" y1="215" x2="111.7" y2="230.7"/><line x1="117.51" y1="215" x2="117.51" y2="230.7"/><line x1="123.32" y1="215" x2="123.32" y2="230.7"/><line x1="129.13" y1="215" x2="129.13" y2="230.7"/><line x1="134.93" y1="215" x2="134.93" y2="230.7"/><line x1="140.74" y1="215" x2="140.74" y2="230.7"/><line x1="146.55" y1="215" x2="146.55" y2="230.7"/><line x1="152.36" y1="215" x2="152.36" y2="230.7"/><line x1="158.16" y1="215" x2="158.16" y2="230.7"/><line x1="163.97" y1="215" x2="163.97" y2="230.7"/><line x1="169.78" y1="215" x2="169.78" y2="230.7"/><line x1="175.59" y1="215" x2="175.59" y2="230.7"/><line x1="181.39" y1="215" x2="181.39" y2="230.7"/><line x1="187.2" y1="215" x2="187.2" y2="230.7"/><line x1="193.01" y1="215" x2="193.01" y2="230.7"/><line x1="198.82" y1="215" x2="198.82" y2="230.7"/><line x1="204.62" y1="215" x2="204.62" y2="230.7"/><line x1="210.43" y1="215" x2="210.43" y2="230.7"/><line x1="216.24" y1="215" x2="216.24" y2="230.7"/><line x1="222.05" y1="215" x2="222.05" y2="230.7"/><line x1="227.85" y1="215" x2="227.85" y2="230.7"/><line x1="233.66" y1="215" x2="233.66" y2="230.7"/><line x1="239.47" y1="215" x2="239.47" y2="230.7"/><line x1="245.28" y1="215" x2="245.28" y2="230.7"/><line x1="251.08" y1="215" x2="251.08" y2="230.7"/><line x1="256.89" y1="215" x2="256.89" y2="230.7"/><line x1="262.7" y1="215" x2="262.7" y2="230.7"/><line x1="268.51" y1="215" x2="268.51" y2="230.7"/><line x1="274.31" y1="215" x2="274.31" y2="230.7"/><line x1="280.12" y1="215" x2="280.12" y2="230.7"/><line x1="285.93" y1="215" x2="285.93" y2="230.7"/><line x1="291.74" y1="215" x2="291.74" y2="230.7"/><line x1="297.54" y1="215" x2="297.54" y2="230.7"/><line x1="303.35" y1="215" x2="303.35" y2="230.7"/><line x1="309.16" y1="215" x2="309.16" y2="230.7"/><line x1="314.97" y1="215" x2="314.97" y2="230.7"/><line x1="320.77" y1="215" x2="320.77" y2="230.7"/><line x1="326.58" y1="215" x2="326.58" y2="230.7"/><line x1="332.39" y1="215" x2="332.39" y2="230.7"/><line x1="338.2" y1="215" x2="338.2" y2="230.7"/><line x1="344" y1="215" x2="344" y2="230.7"/><line x1="349.81" y1="215" x2="349.81" y2="230.7"/><line x1="355.62" y1="215" x2="355.62" y2="230.7"/><line x1="361.43" y1="215" x2="361.43" y2="230.7"/><line x1="367.23" y1="215" x2="367.23" y2="230.7"/><line x1="373.04" y1="215" x2="373.04" y2="230.7"/><line x1="378.85" y1="215" x2="378.85" y2="230.7"/><line x1="384.66" y1="215" x2="384.66" y2="230.7"/><line x1="390.46" y1="215" x2="390.46" y2="230.7"/><line x1="396.27" y1="215" x2="396.27" y2="230.7"/><line x1="402.08" y1="215" x2="402.08" y2="230.7"/><line x1="407.89" y1="215" x2="407.89" y2="230.7"/><line x1="413.69" y1="215" x2="413.69" y2="230.7"/><line x1="419.5" y1="215" x2="419.5" y2="230.7"/><line x1="425.31" y1="215" x2="425.31" y2="230.7"/><line x1="431.12" y1="215" x2="431.12" y2="230.7"/><line x1="436.92" y1="215" x2="436.92" y2="230.7"/><line x1="442.73" y1="215" x2="442.73" y2="230.7"/><line x1="448.54" y1="215" x2="448.54" y2="230.7"/><line x1="454.35" y1="215" x2="454.35" y2="230.7"/><line x1="460.15" y1="215" x2="460.15" y2="230.7"/><line x1="465.96" y1="215" x2="465.96" y2="230.7"/><line x1="471.77" y1="215" x2="471.77" y2="230.7"/><line x1="477.58" y1="215" x2="477.58" y2="230.7"/><line x1="483.38" y1="215" x2="483.38" y2="230.7"/><line x1="489.19" y1="215" x2="489.19" y2="230.7"/><line x1="495" y1="215" x2="495" y2="230.7"/><line x1="500.81" y1="215" x2="500.81" y2="230.7"/><line x1="506.61" y1="215" x2="506.61" y2="230.7"/><line x1="512.42" y1="215" x2="512.42" y2="230.7"/><line x1="518.23" y1="215" x2="518.23" y2="230.7"/><line x1="524.04" y1="215" x2="524.04" y2="230.7"/><line x1="529.84" y1="215" x2="529.84" y2="230.7"/><line x1="535.65" y1="215" x2="535.65" y2="230.7"/><line x1="541.46" y1="215" x2="541.46" y2="230.7"/><line x1="547.27" y1="215" x2="547.27" y2="230.7"/><line x1="553.07" y1="215" x2="553.07" y2="230.7"/><line x1="558.88" y1="215" x2="558.88" y2="230.7"/><line x1="564.69" y1="215" x2="564.69" y2="230.7"/><line x1="570.5" y1="215" x2="570.5" y2="230.7"/><line x1="576.3" y1="215" x2="576.3" y2="230.7"/><line x1="582.11" y1="215" x2="582.11" y2="230.7"/><line x1="587.92" y1="215" x2="587.92" y2="230.7"/><line x1="593.73" y1="215" x2="593.73" y2="230.7"/><line x1="599.53" y1="215" x2="599.53" y2="230.7"/><line x1="605.34" y1="215" x2="605.34" y2="230.7"/><line x1="611.15" y1="215" x2="611.15" y2="230.7"/><line x1="616.96" y1="215" x2="616.96" y2="230.7"/><line x1="622.76" y1="215" x2="622.76" y2="230.7"/><line x1="628.57" y1="215" x2="628.57" y2="230.7"/><line x1="634.38" y1="215" x2="634.38" y2="230.7"/><line x1="640.19" y1="215" x2="640.19" y2="230.7"/><line x1="645.99" y1="215" x2="645.99" y2="230.7"/><line x1="651.8" y1="215" x2="651.8" y2="230.7"/><line x1="657.61" y1="215" x2="657.61" y2="230.7"/><line x1="663.42" y1="215" x2="663.42" y2="230.7"/><line x1="669.22" y1="215" x2="669.22" y2="230.7"/><line x1="675.03" y1="215" x2="675.03" y2="230.7"/><line x1="680.84" y1="215" x2="680.84" y2="230.7"/><line x1="686.65" y1="215" x2="686.65" y2="230.7"/><line x1="692.45" y1="215" x2="692.45" y2="230.7"/><line x1="698.26" y1="215" x2="698.26" y2="230.7"/><line x1="704.07" y1="215" x2="704.07" y2="230.7"/><line x1="709.88" y1="215" x2="709.88" y2="230.7"/></g>
<line x1="12.7" y1="215" x2="710.3" y2="215" stroke="#d0d0d0" stroke-width="0.9"/>
<line x1="12.7" y1="230.7" x2="710.3" y2="230.7" stroke="#c5d3ea" stroke-width="1" stroke-dasharray="1 1"/>
<g stroke="#111" stroke-width="1" fill="none"><line x1="24.8" y1="223.5" x2="17.98" y2="222.64"/><path d="M15.3,222.3 L18.45,221.29 L18.1,224.06Z" stroke="none" fill="#111"/><line x1="24.8" y1="223.5" x2="24.92" y2="225.73" stroke-width="0.75"/><line x1="42.5" y1="224.7" x2="35.48" y2="221.67"/><path d="M33,220.6 L36.31,220.5 L35.2,223.07Z" stroke="none" fill="#111"/><line x1="42.5" y1="224.7" x2="42" y2="226.88" stroke-width="0.75"/><line x1="59.1" y1="226.8" x2="53.43" y2="221.28"/><path d="M51.5,219.4 L54.63,220.49 L52.67,222.5Z" stroke="none" fill="#111"/><line x1="59.1" y1="226.8" x2="57.85" y2="228.66" stroke-width="0.75"/><line x1="76.6" y1="225.1" x2="70.71" y2="221.51"/><path d="M68.4,220.1 L71.69,220.47 L70.23,222.86Z" stroke="none" fill="#111"/><line x1="76.6" y1="225.1" x2="75.8" y2="227.19" stroke-width="0.75"/><line x1="93" y1="226.7" x2="88.09" y2="220.6"/><path d="M86.4,218.5 L89.37,219.96 L87.19,221.71Z" stroke="none" fill="#111"/><line x1="93" y1="226.7" x2="91.54" y2="228.39" stroke-width="0.75"/><line x1="111.1" y1="225.1" x2="105.24" y2="221.74"/><path d="M102.9,220.4 L106.2,220.68 L104.81,223.11Z" stroke="none" fill="#111"/><line x1="111.1" y1="225.1" x2="110.35" y2="227.21" stroke-width="0.75"/><line x1="129" y1="225" x2="122.59" y2="222.34"/><path d="M120.1,221.3 L123.41,221.16 L122.33,223.74Z" stroke="none" fill="#111"/><line x1="129" y1="225" x2="128.52" y2="227.18" stroke-width="0.75"/><line x1="147.1" y1="224.3" x2="139.88" y2="222.09"/><path d="M137.3,221.3 L140.58,220.84 L139.76,223.52Z" stroke="none" fill="#111"/><line x1="147.1" y1="224.3" x2="146.84" y2="226.52" stroke-width="0.75"/><line x1="159.5" y1="217.7" x2="159.5" y2="225.7"/><path d="M159.5,228.4 L158.1,225.4 L160.9,225.4Z" stroke="none" fill="#111"/><line x1="159.5" y1="217.7" x2="161.7" y2="217.3" stroke-width="0.75"/><line x1="172.6" y1="220.1" x2="179.33" y2="224.44"/><path d="M181.6,225.9 L178.32,225.45 L179.84,223.1Z" stroke="none" fill="#111"/><line x1="172.6" y1="220.1" x2="173.46" y2="218.03" stroke-width="0.75"/><line x1="189.9" y1="221" x2="197.65" y2="223.71"/><path d="M200.2,224.6 L196.91,224.93 L197.83,222.29Z" stroke="none" fill="#111"/><line x1="189.9" y1="221" x2="190.25" y2="218.79" stroke-width="0.75"/><line x1="210.4" y1="218.5" x2="212.58" y2="225.33"/><path d="M213.4,227.9 L211.15,225.47 L213.82,224.62Z" stroke="none" fill="#111"/><line x1="210.4" y1="218.5" x2="212.37" y2="217.45" stroke-width="0.75"/><line x1="233.8" y1="220.6" x2="226.84" y2="223.93"/><path d="M224.4,225.1 L226.5,222.54 L227.71,225.07Z" stroke="none" fill="#111"/><line x1="233.8" y1="220.6" x2="235.11" y2="222.41" stroke-width="0.75"/><line x1="251.4" y1="220.1" x2="244.67" y2="224.44"/><path d="M242.4,225.9 L244.16,223.1 L245.68,225.45Z" stroke="none" fill="#111"/><line x1="251.4" y1="220.1" x2="252.93" y2="221.73" stroke-width="0.75"/><line x1="267.1" y1="219" x2="263.07" y2="225.23"/><path d="M261.6,227.5 L262.05,224.22 L264.41,225.74Z" stroke="none" fill="#111"/><line x1="267.1" y1="219" x2="269.16" y2="219.86" stroke-width="0.75"/><line x1="284.3" y1="219.3" x2="280.14" y2="225.28"/><path d="M278.6,227.5 L279.16,224.24 L281.46,225.84Z" stroke="none" fill="#111"/><line x1="284.3" y1="219.3" x2="286.33" y2="220.23" stroke-width="0.75"/><line x1="302.4" y1="219.3" x2="297.6" y2="224.69"/><path d="M295.8,226.7 L296.75,223.53 L298.84,225.39Z" stroke="none" fill="#111"/><line x1="302.4" y1="219.3" x2="304.31" y2="220.47" stroke-width="0.75"/><line x1="320.5" y1="221" x2="314.28" y2="224.33"/><path d="M311.9,225.6 L313.89,222.95 L315.21,225.42Z" stroke="none" fill="#111"/><line x1="320.5" y1="221" x2="321.89" y2="222.75" stroke-width="0.75"/><line x1="338.6" y1="222.6" x2="331.39" y2="223.18"/><path d="M328.7,223.4 L331.58,221.76 L331.8,224.55Z" stroke="none" fill="#111"/><line x1="338.6" y1="222.6" x2="339.18" y2="224.76" stroke-width="0.75"/><line x1="355" y1="220.1" x2="349.61" y2="224.9"/><path d="M347.6,226.7 L348.91,223.66 L350.77,225.75Z" stroke="none" fill="#111"/><line x1="355" y1="220.1" x2="356.76" y2="221.48" stroke-width="0.75"/><line x1="364.5" y1="220.6" x2="371.42" y2="224.32"/><path d="M373.8,225.6 L370.49,225.41 L371.82,222.95Z" stroke="none" fill="#111"/><line x1="364.5" y1="220.6" x2="365.19" y2="218.47" stroke-width="0.75"/><line x1="390.8" y1="221.8" x2="383.81" y2="223.62"/><path d="M381.2,224.3 L383.75,222.19 L384.46,224.9Z" stroke="none" fill="#111"/><line x1="390.8" y1="221.8" x2="391.74" y2="223.83" stroke-width="0.75"/><line x1="408.4" y1="221" x2="400.95" y2="224.46"/><path d="M398.5,225.6 L400.63,223.07 L401.81,225.61Z" stroke="none" fill="#111"/><line x1="408.4" y1="221" x2="409.69" y2="222.83" stroke-width="0.75"/><line x1="425.6" y1="223.4" x2="418.46" y2="222.24"/><path d="M415.8,221.8 L418.99,220.9 L418.54,223.67Z" stroke="none" fill="#111"/><line x1="425.6" y1="223.4" x2="425.64" y2="225.64" stroke-width="0.75"/><line x1="442.9" y1="221.8" x2="435.6" y2="223.87"/><path d="M433,224.6 L435.51,222.44 L436.27,225.13Z" stroke="none" fill="#111"/><line x1="442.9" y1="221.8" x2="443.88" y2="223.81" stroke-width="0.75"/><line x1="461" y1="223" x2="453" y2="223"/><path d="M450.3,223 L453.3,221.6 L453.3,224.4Z" stroke="none" fill="#111"/><line x1="461" y1="223" x2="461.4" y2="225.2" stroke-width="0.75"/><line x1="479" y1="221" x2="470.82" y2="224.13"/><path d="M468.3,225.1 L470.6,222.72 L471.6,225.33Z" stroke="none" fill="#111"/><line x1="479" y1="221" x2="480.16" y2="222.91" stroke-width="0.75"/><line x1="496.2" y1="221" x2="488.02" y2="224.13"/><path d="M485.5,225.1 L487.8,222.72 L488.8,225.33Z" stroke="none" fill="#111"/><line x1="496.2" y1="221" x2="497.36" y2="222.91" stroke-width="0.75"/><line x1="513.5" y1="221.8" x2="505.41" y2="223.92"/><path d="M502.8,224.6 L505.35,222.49 L506.06,225.19Z" stroke="none" fill="#111"/><line x1="513.5" y1="221.8" x2="514.44" y2="223.83" stroke-width="0.75"/><line x1="529.1" y1="219.3" x2="523.61" y2="224.79"/><path d="M521.7,226.7 L522.83,223.59 L524.81,225.57Z" stroke="none" fill="#111"/><line x1="529.1" y1="219.3" x2="530.94" y2="220.57" stroke-width="0.75"/><line x1="547.2" y1="220.1" x2="540.8" y2="224.64"/><path d="M538.6,226.2 L540.24,223.32 L541.86,225.61Z" stroke="none" fill="#111"/><line x1="547.2" y1="220.1" x2="548.8" y2="221.66" stroke-width="0.75"/><line x1="564.5" y1="225.6" x2="557.81" y2="222.22"/><path d="M555.4,221 L558.71,221.1 L557.45,223.6Z" stroke="none" fill="#111"/><line x1="564.5" y1="225.6" x2="563.86" y2="227.74" stroke-width="0.75"/><line x1="581.7" y1="219.3" x2="575.5" y2="224.89"/><path d="M573.5,226.7 L574.79,223.65 L576.67,225.73Z" stroke="none" fill="#111"/><line x1="581.7" y1="219.3" x2="583.47" y2="220.67" stroke-width="0.75"/><line x1="599.5" y1="225.5" x2="592.58" y2="221.14"/><path d="M590.3,219.7 L593.58,220.12 L592.09,222.48Z" stroke="none" fill="#111"/><line x1="599.5" y1="225.5" x2="598.67" y2="227.57" stroke-width="0.75"/><line x1="612.5" y1="227.5" x2="612.5" y2="220.4"/><path d="M612.5,217.7 L613.9,220.7 L611.1,220.7Z" stroke="none" fill="#111"/><line x1="612.5" y1="227.5" x2="610.3" y2="227.9" stroke-width="0.75"/><line x1="633.8" y1="219.3" x2="628.16" y2="224.64"/><path d="M626.2,226.5 L627.42,223.42 L629.34,225.45Z" stroke="none" fill="#111"/><line x1="633.8" y1="219.3" x2="635.6" y2="220.62" stroke-width="0.75"/><line x1="651.9" y1="221.4" x2="644.58" y2="223.62"/><path d="M642,224.4 L644.47,222.19 L645.28,224.87Z" stroke="none" fill="#111"/><line x1="651.9" y1="221.4" x2="652.92" y2="223.39" stroke-width="0.75"/><line x1="668.8" y1="219.3" x2="662.54" y2="224.73"/><path d="M660.5,226.5 L661.85,223.48 L663.68,225.59Z" stroke="none" fill="#111"/><line x1="668.8" y1="219.3" x2="670.54" y2="220.7" stroke-width="0.75"/><line x1="686.4" y1="219.7" x2="680.35" y2="224.27"/><path d="M678.2,225.9 L679.75,222.97 L681.44,225.21Z" stroke="none" fill="#111"/><line x1="686.4" y1="219.7" x2="688.05" y2="221.21" stroke-width="0.75"/><line x1="704.3" y1="221.4" x2="697.28" y2="223.59"/><path d="M694.7,224.4 L697.15,222.17 L697.98,224.84Z" stroke="none" fill="#111"/><line x1="704.3" y1="221.4" x2="705.34" y2="223.38" stroke-width="0.75"/></g>
<g font-size="6.1" fill="#666" text-anchor="middle" letter-spacing="0.4"><text x="23.26" y="240">06</text><text x="34.87" y="240">12</text><text x="46.48" y="240">18</text><text x="58.1" y="240">00</text><text x="69.71" y="240">06</text><text x="81.33" y="240">12</text><text x="92.94" y="240">18</text><text x="104.56" y="240">00</text><text x="116.17" y="240">06</text><text x="127.79" y="240">12</text><text x="139.41" y="240">18</text><text x="151.02" y="240">00</text><text x="162.64" y="240">06</text><text x="174.25" y="240">12</text><text x="185.86" y="240">18</text><text x="197.48" y="240">00</text><text x="209.09" y="240">06</text><text x="220.71" y="240">12</text><text x="232.32" y="240">18</text><text x="243.94" y="240">00</text><text x="255.56" y="240">06</text><text x="267.17" y="240">12</text><text x="278.79" y="240">18</text><text x="290.4" y="240">00</text><text x="302.01" y="240">06</text><text x="313.63" y="240">12</text><text x="325.25" y="240">18</text><text x="336.86" y="240">00</text><text x="348.48" y="240">06</text><text x="360.09" y="240">12</text><text x="371.71" y="240">18</text><text x="383.32" y="240">00</text><text x="394.94" y="240">06</text><text x="406.55" y="240">12</text><text x="418.17" y="240">18</text><text x="429.78" y="240">00</text><text x="441.4" y="240">06</text><text x="453.01" y="240">12</text><text x="464.63" y="240">18</text><text x="476.24" y="240">00</text><text x="487.86" y="240">06</text><text x="499.47" y="240">12</text><text x="511.08" y="240">18</text><text x="522.7" y="240">00</text><text x="534.31" y="240">06</text><text x="545.93" y="240">12</text><text x="557.54" y="240">18</text><text x="569.16" y="240">00</text><text x="580.78" y="240">06</text><text x="592.39" y="240">12</text><text x="604" y="240">18</text><text x="615.62" y="240">00</text><text x="627.24" y="240">06</text><text x="638.85" y="240">12</text><text x="650.47" y="240">18</text><text x="662.08" y="240">00</text><text x="673.7" y="240">06</text><text x="685.31" y="240">12</text><text x="696.93" y="240">18</text></g>
<text x="333.3" y="250.5" font-size="6.55" fill="#666">Local time (UTC+1)</text>
<text x="710" y="249" text-anchor="end" font-size="5.2" fill="#999">wetterzentrale.de</text>
<text x="160.5" y="159.2" font-family="'Liberation Serif', serif" font-size="32.2" fill="#000">száraz és meleg</text>
<text x="363.5" y="263.3" text-anchor="middle" font-size="8.2" fill="#333">GFS Salgótarján (HU) 48N, 19.75E</text>
<text x="295.5" y="269.9" font-size="6.6" fill="#666">Init: Sat, 02Mar2024 06Z</text>
<use href="#sunr" x="376.4" y="267"/>
<text x="382" y="269.9" font-size="6.6" fill="#666">06:22</text>
<use href="#suns" x="406.5" y="267"/>
<text x="413.8" y="269.9" font-size="6.6" fill="#666">17:23</text>
<rect x="715.2" y="258.2" width="8.6" height="1.3" fill="#666"/>
<rect x="715.2" y="260.8" width="8.6" height="1.3" fill="#666"/>
<rect x="715.2" y="263.4" width="8.6" height="1.3" fill="#666"/>
<g stroke="#f2f2f2" stroke-width="0.75"><line x1="11.58" y1="298.9" x2="11.58" y2="471.1"/><line x1="14.49" y1="298.9" x2="14.49" y2="471.1"/><line x1="17.4" y1="298.9" x2="17.4" y2="471.1"/><line x1="20.31" y1="298.9" x2="20.31" y2="471.1"/><line x1="23.22" y1="298.9" x2="23.22" y2="471.1"/><line x1="26.13" y1="298.9" x2="26.13" y2="471.1"/><line x1="29.04" y1="298.9" x2="29.04" y2="471.1"/><line x1="31.95" y1="298.9" x2="31.95" y2="471.1"/><line x1="34.87" y1="298.9" x2="34.87" y2="471.1"/><line x1="37.78" y1="298.9" x2="37.78" y2="471.1"/><line x1="40.69" y1="298.9" x2="40.69" y2="471.1"/><line x1="43.6" y1="298.9" x2="43.6" y2="471.1"/><line x1="46.51" y1="298.9" x2="46.51" y2="471.1"/><line x1="49.42" y1="298.9" x2="49.42" y2="471.1"/><line x1="52.33" y1="298.9" x2="52.33" y2="471.1"/><line x1="55.25" y1="298.9" x2="55.25" y2="471.1"/><line x1="58.16" y1="298.9" x2="58.16" y2="471.1"/><line x1="61.07" y1="298.9" x2="61.07" y2="471.1"/><line x1="63.98" y1="298.9" x2="63.98" y2="471.1"/><line x1="66.89" y1="298.9" x2="66.89" y2="471.1"/><line x1="69.8" y1="298.9" x2="69.8" y2="471.1"/><line x1="72.71" y1="298.9" x2="72.71" y2="471.1"/><line x1="75.62" y1="298.9" x2="75.62" y2="471.1"/><line x1="78.53" y1="298.9" x2="78.53" y2="471.1"/><line x1="81.45" y1="298.9" x2="81.45" y2="471.1"/><line x1="84.36" y1="298.9" x2="84.36" y2="471.1"/><line x1="87.27" y1="298.9" x2="87.27" y2="471.1"/><line x1="90.18" y1="298.9" x2="90.18" y2="471.1"/><line x1="93.09" y1="298.9" x2="93.09" y2="471.1"/><line x1="96" y1="298.9" x2="96" y2="471.1"/><line x1="98.91" y1="298.9" x2="98.91" y2="471.1"/><line x1="101.82" y1="298.9" x2="101.82" y2="471.1"/><line x1="104.74" y1="298.9" x2="104.74" y2="471.1"/><line x1="107.65" y1="298.9" x2="107.65" y2="471.1"/><line x1="110.56" y1="298.9" x2="110.56" y2="471.1"/><line x1="113.47" y1="298.9" x2="113.47" y2="471.1"/><line x1="116.38" y1="298.9" x2="116.38" y2="471.1"/><line x1="119.29" y1="298.9" x2="119.29" y2="471.1"/><line x1="122.2" y1="298.9" x2="122.2" y2="471.1"/><line x1="125.12" y1="298.9" x2="125.12" y2="471.1"/><line x1="128.03" y1="298.9" x2="128.03" y2="471.1"/><line x1="130.94" y1="298.9" x2="130.94" y2="471.1"/><line x1="133.85" y1="298.9" x2="133.85" y2="471.1"/><line x1="136.76" y1="298.9" x2="136.76" y2="471.1"/><line x1="139.67" y1="298.9" x2="139.67" y2="471.1"/><line x1="142.58" y1="298.9" x2="142.58" y2="471.1"/><line x1="145.49" y1="298.9" x2="145.49" y2="471.1"/><line x1="148.41" y1="298.9" x2="148.41" y2="471.1"/><line x1="151.32" y1="298.9" x2="151.32" y2="471.1"/><line x1="154.23" y1="298.9" x2="154.23" y2="471.1"/><line x1="157.14" y1="298.9" x2="157.14" y2="471.1"/><line x1="160.05" y1="298.9" x2="160.05" y2="471.1"/><line x1="162.96" y1="298.9" x2="162.96" y2="471.1"/><line x1="165.87" y1="298.9" x2="165.87" y2="471.1"/><line x1="168.78" y1="298.9" x2="168.78" y2="471.1"/><line x1="171.69" y1="298.9" x2="171.69" y2="471.1"/><line x1="174.61" y1="298.9" x2="174.61" y2="471.1"/><line x1="177.52" y1="298.9" x2="177.52" y2="471.1"/><line x1="180.43" y1="298.9" x2="180.43" y2="471.1"/><line x1="183.34" y1="298.9" x2="183.34" y2="471.1"/><line x1="186.25" y1="298.9" x2="186.25" y2="471.1"/><line x1="189.16" y1="298.9" x2="189.16" y2="471.1"/><line x1="192.07" y1="298.9" x2="192.07" y2="471.1"/><line x1="194.98" y1="298.9" x2="194.98" y2="471.1"/><line x1="197.9" y1="298.9" x2="197.9" y2="471.1"/><line x1="200.81" y1="298.9" x2="200.81" y2="471.1"/><line x1="203.72" y1="298.9" x2="203.72" y2="471.1"/><line x1="206.63" y1="298.9" x2="206.63" y2="471.1"/><line x1="209.54" y1="298.9" x2="209.54" y2="471.1"/><line x1="212.45" y1="298.9" x2="212.45" y2="471.1"/><line x1="215.36" y1="298.9" x2="215.36" y2="471.1"/><line x1="218.27" y1="298.9" x2="218.27" y2="471.1"/><line x1="221.19" y1="298.9" x2="221.19" y2="471.1"/><line x1="224.1" y1="298.9" x2="224.1" y2="471.1"/><line x1="227.01" y1="298.9" x2="227.01" y2="471.1"/><line x1="229.92" y1="298.9" x2="229.92" y2="471.1"/><line x1="232.83" y1="298.9" x2="232.83" y2="471.1"/><line x1="235.74" y1="298.9" x2="235.74" y2="471.1"/><line x1="238.65" y1="298.9" x2="238.65" y2="471.1"/><line x1="241.56" y1="298.9" x2="241.56" y2="471.1"/><line x1="244.48" y1="298.9" x2="244.48" y2="471.1"/><line x1="247.39" y1="298.9" x2="247.39" y2="471.1"/><line x1="250.3" y1="298.9" x2="250.3" y2="471.1"/><line x1="253.21" y1="298.9" x2="253.21" y2="471.1"/><line x1="256.12" y1="298.9" x2="256.12" y2="471.1"/><line x1="259.03" y1="298.9" x2="259.03" y2="471.1"/><line x1="261.94" y1="298.9" x2="261.94" y2="471.1"/><line x1="264.86" y1="298.9" x2="264.86" y2="471.1"/><line x1="267.77" y1="298.9" x2="267.77" y2="471.1"/><line x1="270.68" y1="298.9" x2="270.68" y2="471.1"/><line x1="273.59" y1="298.9" x2="273.59" y2="471.1"/><line x1="276.5" y1="298.9" x2="276.5" y2="471.1"/><line x1="279.41" y1="298.9" x2="279.41" y2="471.1"/><line x1="282.32" y1="298.9" x2="282.32" y2="471.1"/><line x1="285.23" y1="298.9" x2="285.23" y2="471.1"/><line x1="288.14" y1="298.9" x2="288.14" y2="471.1"/><line x1="291.06" y1="298.9" x2="291.06" y2="471.1"/><line x1="293.97" y1="298.9" x2="293.97" y2="471.1"/><line x1="296.88" y1="298.9" x2="296.88" y2="471.1"/><line x1="299.79" y1="298.9" x2="299.79" y2="471.1"/><line x1="302.7" y1="298.9" x2="302.7" y2="471.1"/><line x1="305.61" y1="298.9" x2="305.61" y2="471.1"/><line x1="308.52" y1="298.9" x2="308.52" y2="471.1"/><line x1="311.44" y1="298.9" x2="311.44" y2="471.1"/><line x1="314.35" y1="298.9" x2="314.35" y2="471.1"/><line x1="317.26" y1="298.9" x2="317.26" y2="471.1"/><line x1="320.17" y1="298.9" x2="320.17" y2="471.1"/><line x1="323.08" y1="298.9" x2="323.08" y2="471.1"/><line x1="325.99" y1="298.9" x2="325.99" y2="471.1"/><line x1="328.9" y1="298.9" x2="328.9" y2="471.1"/><line x1="331.81" y1="298.9" x2="331.81" y2="471.1"/><line x1="334.73" y1="298.9" x2="334.73" y2="471.1"/><line x1="337.64" y1="298.9" x2="337.64" y2="471.1"/><line x1="340.55" y1="298.9" x2="340.55" y2="471.1"/><line x1="343.46" y1="298.9" x2="343.46" y2="471.1"/><line x1="346.37" y1="298.9" x2="346.37" y2="471.1"/><line x1="349.28" y1="298.9" x2="349.28" y2="471.1"/><line x1="352.19" y1="298.9" x2="352.19" y2="471.1"/><line x1="355.1" y1="298.9" x2="355.1" y2="471.1"/><line x1="358.02" y1="298.9" x2="358.02" y2="471.1"/><line x1="360.93" y1="298.9" x2="360.93" y2="471.1"/><line x1="363.84" y1="298.9" x2="363.84" y2="471.1"/><line x1="366.75" y1="298.9" x2="366.75" y2="471.1"/><line x1="369.66" y1="298.9" x2="369.66" y2="471.1"/><line x1="372.57" y1="298.9" x2="372.57" y2="471.1"/><line x1="375.48" y1="298.9" x2="375.48" y2="471.1"/><line x1="378.39" y1="298.9" x2="378.39" y2="471.1"/><line x1="381.31" y1="298.9" x2="381.31" y2="471.1"/><line x1="384.22" y1="298.9" x2="384.22" y2="471.1"/><line x1="387.13" y1="298.9" x2="387.13" y2="471.1"/><line x1="390.04" y1="298.9" x2="390.04" y2="471.1"/><line x1="392.95" y1="298.9" x2="392.95" y2="471.1"/><line x1="395.86" y1="298.9" x2="395.86" y2="471.1"/><line x1="398.77" y1="298.9" x2="398.77" y2="471.1"/><line x1="401.68" y1="298.9" x2="401.68" y2="471.1"/><line x1="404.59" y1="298.9" x2="404.59" y2="471.1"/><line x1="407.51" y1="298.9" x2="407.51" y2="471.1"/><line x1="410.42" y1="298.9" x2="410.42" y2="471.1"/><line x1="413.33" y1="298.9" x2="413.33" y2="471.1"/><line x1="416.24" y1="298.9" x2="416.24" y2="471.1"/><line x1="419.15" y1="298.9" x2="419.15" y2="471.1"/><line x1="422.06" y1="298.9" x2="422.06" y2="471.1"/><line x1="424.97" y1="298.9" x2="424.97" y2="471.1"/><line x1="427.89" y1="298.9" x2="427.89" y2="471.1"/><line x1="430.8" y1="298.9" x2="430.8" y2="471.1"/><line x1="433.71" y1="298.9" x2="433.71" y2="471.1"/><line x1="436.62" y1="298.9" x2="436.62" y2="471.1"/><line x1="439.53" y1="298.9" x2="439.53" y2="471.1"/><line x1="442.44" y1="298.9" x2="442.44" y2="471.1"/><line x1="445.35" y1="298.9" x2="445.35" y2="471.1"/><line x1="448.26" y1="298.9" x2="448.26" y2="471.1"/><line x1="451.18" y1="298.9" x2="451.18" y2="471.1"/><line x1="454.09" y1="298.9" x2="454.09" y2="471.1"/><line x1="457" y1="298.9" x2="457" y2="471.1"/><line x1="459.91" y1="298.9" x2="459.91" y2="471.1"/><line x1="462.82" y1="298.9" x2="462.82" y2="471.1"/><line x1="465.73" y1="298.9" x2="465.73" y2="471.1"/><line x1="468.64" y1="298.9" x2="468.64" y2="471.1"/><line x1="471.55" y1="298.9" x2="471.55" y2="471.1"/><line x1="474.47" y1="298.9" x2="474.47" y2="471.1"/><line x1="477.38" y1="298.9" x2="477.38" y2="471.1"/><line x1="480.29" y1="298.9" x2="480.29" y2="471.1"/><line x1="483.2" y1="298.9" x2="483.2" y2="471.1"/><line x1="486.11" y1="298.9" x2="486.11" y2="471.1"/><line x1="489.02" y1="298.9" x2="489.02" y2="471.1"/><line x1="491.93" y1="298.9" x2="491.93" y2="471.1"/><line x1="494.84" y1="298.9" x2="494.84" y2="471.1"/><line x1="497.75" y1="298.9" x2="497.75" y2="471.1"/><line x1="500.67" y1="298.9" x2="500.67" y2="471.1"/><line x1="503.58" y1="298.9" x2="503.58" y2="471.1"/><line x1="506.49" y1="298.9" x2="506.49" y2="471.1"/><line x1="509.4" y1="298.9" x2="509.4" y2="471.1"/><line x1="512.31" y1="298.9" x2="512.31" y2="471.1"/><line x1="515.22" y1="298.9" x2="515.22" y2="471.1"/><line x1="518.13" y1="298.9" x2="518.13" y2="471.1"/><line x1="521.04" y1="298.9" x2="521.04" y2="471.1"/><line x1="523.96" y1="298.9" x2="523.96" y2="471.1"/><line x1="526.87" y1="298.9" x2="526.87" y2="471.1"/><line x1="529.78" y1="298.9" x2="529.78" y2="471.1"/><line x1="532.69" y1="298.9" x2="532.69" y2="471.1"/><line x1="535.6" y1="298.9" x2="535.6" y2="471.1"/><line x1="538.51" y1="298.9" x2="538.51" y2="471.1"/><line x1="541.42" y1="298.9" x2="541.42" y2="471.1"/><line x1="544.33" y1="298.9" x2="544.33" y2="471.1"/><line x1="547.25" y1="298.9" x2="547.25" y2="471.1"/><line x1="550.16" y1="298.9" x2="550.16" y2="471.1"/><line x1="553.07" y1="298.9" x2="553.07" y2="471.1"/><line x1="555.98" y1="298.9" x2="555.98" y2="471.1"/><line x1="558.89" y1="298.9" x2="558.89" y2="471.1"/><line x1="561.8" y1="298.9" x2="561.8" y2="471.1"/><line x1="564.71" y1="298.9" x2="564.71" y2="471.1"/><line x1="567.62" y1="298.9" x2="567.62" y2="471.1"/><line x1="570.54" y1="298.9" x2="570.54" y2="471.1"/><line x1="573.45" y1="298.9" x2="573.45" y2="471.1"/><line x1="576.36" y1="298.9" x2="576.36" y2="471.1"/><line x1="579.27" y1="298.9" x2="579.27" y2="471.1"/><line x1="582.18" y1="298.9" x2="582.18" y2="471.1"/><line x1="585.09" y1="298.9" x2="585.09" y2="471.1"/><line x1="588" y1="298.9" x2="588" y2="471.1"/><line x1="590.91" y1="298.9" x2="590.91" y2="471.1"/><line x1="593.83" y1="298.9" x2="593.83" y2="471.1"/><line x1="596.74" y1="298.9" x2="596.74" y2="471.1"/><line x1="599.65" y1="298.9" x2="599.65" y2="471.1"/><line x1="602.56" y1="298.9" x2="602.56" y2="471.1"/><line x1="605.47" y1="298.9" x2="605.47" y2="471.1"/><line x1="608.38" y1="298.9" x2="608.38" y2="471.1"/><line x1="611.29" y1="298.9" x2="611.29" y2="471.1"/><line x1="614.2" y1="298.9" x2="614.2" y2="471.1"/><line x1="617.12" y1="298.9" x2="617.12" y2="471.1"/><line x1="620.03" y1="298.9" x2="620.03" y2="471.1"/><line x1="622.94" y1="298.9" x2="622.94" y2="471.1"/><line x1="625.85" y1="298.9" x2="625.85" y2="471.1"/><line x1="628.76" y1="298.9" x2="628.76" y2="471.1"/><line x1="631.67" y1="298.9" x2="631.67" y2="471.1"/><line x1="634.58" y1="298.9" x2="634.58" y2="471.1"/><line x1="637.5" y1="298.9" x2="637.5" y2="471.1"/><line x1="640.41" y1="298.9" x2="640.41" y2="471.1"/><line x1="643.32" y1="298.9" x2="643.32" y2="471.1"/><line x1="646.23" y1="298.9" x2="646.23" y2="471.1"/><line x1="649.14" y1="298.9" x2="649.14" y2="471.1"/><line x1="652.05" y1="298.9" x2="652.05" y2="471.1"/><line x1="654.96" y1="298.9" x2="654.96" y2="471.1"/><line x1="657.87" y1="298.9" x2="657.87" y2="471.1"/><line x1="660.78" y1="298.9" x2="660.78" y2="471.1"/><line x1="663.7" y1="298.9" x2="663.7" y2="471.1"/><line x1="666.61" y1="298.9" x2="666.61" y2="471.1"/><line x1="669.52" y1="298.9" x2="669.52" y2="471.1"/><line x1="672.43" y1="298.9" x2="672.43" y2="471.1"/><line x1="675.34" y1="298.9" x2="675.34" y2="471.1"/><line x1="678.25" y1="298.9" x2="678.25" y2="471.1"/><line x1="681.16" y1="298.9" x2="681.16" y2="471.1"/><line x1="684.08" y1="298.9" x2="684.08" y2="471.1"/><line x1="686.99" y1="298.9" x2="686.99" y2="471.1"/><line x1="689.9" y1="298.9" x2="689.9" y2="471.1"/><line x1="692.81" y1="298.9" x2="692.81" y2="471.1"/><line x1="695.72" y1="298.9" x2="695.72" y2="471.1"/><line x1="698.63" y1="298.9" x2="698.63" y2="471.1"/><line x1="701.54" y1="298.9" x2="701.54" y2="471.1"/><line x1="704.45" y1="298.9" x2="704.45" y2="471.1"/><line x1="707.37" y1="298.9" x2="707.37" y2="471.1"/></g>
<g stroke="#efefef" stroke-width="0.8"><line x1="9.9" y1="342.8" x2="710.1" y2="342.8"/><line x1="9.9" y1="385.7" x2="710.1" y2="385.7"/></g>
<g stroke="#eaeaea" stroke-width="0.8"><line x1="43.6" y1="298.9" x2="43.6" y2="471.1"/><line x1="90.18" y1="298.9" x2="90.18" y2="471.1"/><line x1="136.76" y1="298.9" x2="136.76" y2="471.1"/><line x1="183.34" y1="298.9" x2="183.34" y2="471.1"/><line x1="229.92" y1="298.9" x2="229.92" y2="471.1"/><line x1="276.5" y1="298.9" x2="276.5" y2="471.1"/><line x1="323.08" y1="298.9" x2="323.08" y2="471.1"/><line x1="369.66" y1="298.9" x2="369.66" y2="471.1"/><line x1="416.24" y1="298.9" x2="416.24" y2="471.1"/><line x1="462.82" y1="298.9" x2="462.82" y2="471.1"/><line x1="509.4" y1="298.9" x2="509.4" y2="471.1"/><line x1="555.98" y1="298.9" x2="555.98" y2="471.1"/><line x1="602.56" y1="298.9" x2="602.56" y2="471.1"/><line x1="649.14" y1="298.9" x2="649.14" y2="471.1"/><line x1="695.72" y1="298.9" x2="695.72" y2="471.1"/></g>
<g stroke="#d3dcec" stroke-width="0.8"><line x1="43.6" y1="289.4" x2="43.6" y2="298.9"/><line x1="90.18" y1="289.4" x2="90.18" y2="298.9"/><line x1="136.76" y1="289.4" x2="136.76" y2="298.9"/><line x1="183.34" y1="289.4" x2="183.34" y2="298.9"/><line x1="229.92" y1="289.4" x2="229.92" y2="298.9"/><line x1="276.5" y1="289.4" x2="276.5" y2="298.9"/><line x1="323.08" y1="289.4" x2="323.08" y2="298.9"/><line x1="369.66" y1="289.4" x2="369.66" y2="298.9"/><line x1="416.24" y1="289.4" x2="416.24" y2="298.9"/><line x1="462.82" y1="289.4" x2="462.82" y2="298.9"/><line x1="509.4" y1="289.4" x2="509.4" y2="298.9"/><line x1="555.98" y1="289.4" x2="555.98" y2="298.9"/><line x1="602.56" y1="289.4" x2="602.56" y2="298.9"/><line x1="649.14" y1="289.4" x2="649.14" y2="298.9"/><line x1="695.72" y1="289.4" x2="695.72" y2="298.9"/></g>
<line x1="9.9" y1="428.3" x2="710.1" y2="428.3" stroke="#cfcfcf" stroke-width="1"/>
<line x1="9.9" y1="298.9" x2="710.1" y2="298.9" stroke="#d3dcec" stroke-width="0.9"/>
<line x1="710.1" y1="298.9" x2="710.1" y2="471.1" stroke="#d8dde8" stroke-width="0.8"/>
<line x1="9.9" y1="298.9" x2="9.9" y2="486.8" stroke="#dcdcdc" stroke-width="0.8"/>
<text x="45.8" y="288" font-size="6.3" fill="#555"><tspan font-weight="bold" fill="#333">Sun</tspan> Mar 3</text>
<text x="92.38" y="288" font-size="6.3" fill="#555"><tspan font-weight="bold" fill="#333">Mon</tspan> Mar 4</text>
<text x="138.96" y="288" font-size="6.3" fill="#555"><tspan font-weight="bold" fill="#333">Tue</tspan> Mar 5</text>
<text x="185.54" y="288" font-size="6.3" fill="#555"><tspan font-weight="bold" fill="#333">Wed</tspan> Mar 6</text>
<text x="232.12" y="288" font-size="6.3" fill="#555"><tspan font-weight="bold" fill="#333">Thu</tspan> Mar 7</text>
<text x="278.7" y="288" font-size="6.3" fill="#555"><tspan font-weight="bold" fill="#333">Fri</tspan> Mar 8</text>
<text x="325.28" y="288" font-size="6.3" fill="#555"><tspan font-weight="bold" fill="#333">Sat</tspan> Mar 9</text>
<text x="371.86" y="288" font-size="6.3" fill="#555"><tspan font-weight="bold" fill="#333">Sun</tspan> Mar 10</text>
<text x="418.44" y="288" font-size="6.3" fill="#555"><tspan font-weight="bold" fill="#333">Mon</tspan> Mar 11</text>
<text x="465.02" y="288" font-size="6.3" fill="#555"><tspan font-weight="bold" fill="#333">Tue</tspan> Mar 12</text>
<text x="511.6" y="288" font-size="6.3" fill="#555"><tspan font-weight="bold" fill="#333">Wed</tspan> Mar 13</text>
<text x="558.18" y="288" font-size="6.3" fill="#555"><tspan font-weight="bold" fill="#333">Thu</tspan> Mar 14</text>
<text x="604.76" y="288" font-size="6.3" fill="#555"><tspan font-weight="bold" fill="#333">Fri</tspan> Mar 15</text>
<text x="651.34" y="288" font-size="6.3" fill="#555"><tspan font-weight="bold" fill="#333">Sat</tspan> Mar 16</text>
<text x="697.92" y="288" font-size="6.3" fill="#555"><tspan font-weight="bold" fill="#333">Sun</tspan> Mar ...</text>
<text x="8.6" y="301" text-anchor="end" font-size="5.9" fill="#666">15°</text>
<text x="8.6" y="344.9" text-anchor="end" font-size="5.9" fill="#666">10°</text>
<text x="8.6" y="387.8" text-anchor="end" font-size="5.9" fill="#666">5°</text>
<text x="8.6" y="430.4" text-anchor="end" font-size="5.9" fill="#666">0°</text>
<text x="8.6" y="473.2" text-anchor="end" font-size="5.9" fill="#666">-5°</text>
<text x="717.5" y="473.3" font-size="6.1" fill="#666">0</text>
<text x="717.5" y="438.86" font-size="6.1" fill="#666">1.2</text>
<text x="717.5" y="404.42" font-size="6.1" fill="#666">2.4</text>
<text x="717.5" y="369.98" font-size="6.1" fill="#666">3.6</text>
<text x="717.5" y="335.54" font-size="6.1" fill="#666">4.8</text>
<text x="717.5" y="301.1" font-size="6.1" fill="#666">6</text>
<text transform="translate(728.1,385) rotate(90)" text-anchor="middle" font-size="6.8" fill="#808080">Precipitation (mm)</text>
<g fill="#4682b4" shape-rendering="crispEdges"><rect x="22.25" y="458.7" width="5.92" height="12.4"/><rect x="28.07" y="468.4" width="5.92" height="2.7"/><rect x="161.99" y="468" width="5.92" height="3.1"/><rect x="167.81" y="459.2" width="5.92" height="11.9"/><rect x="179.46" y="470" width="5.92" height="1.1"/><rect x="191.1" y="470" width="5.92" height="1.1"/><rect x="202.75" y="469.7" width="5.92" height="1.4"/><rect x="266.8" y="470" width="5.92" height="1.1"/><rect x="330.84" y="470.3" width="5.92" height="0.8"/><rect x="336.67" y="466.4" width="5.92" height="4.7"/><rect x="342.49" y="459.8" width="5.92" height="11.3"/><rect x="348.31" y="457.3" width="5.92" height="13.8"/><rect x="383.25" y="469.6" width="5.92" height="1.5"/><rect x="389.07" y="409" width="5.92" height="62.1"/><rect x="394.89" y="332.1" width="5.92" height="139"/><rect x="400.71" y="364.1" width="5.92" height="107"/><rect x="406.54" y="462.9" width="5.92" height="8.2"/><rect x="418.18" y="469.6" width="5.92" height="1.5"/><rect x="424" y="452.2" width="5.92" height="18.9"/><rect x="517.16" y="469.8" width="5.92" height="1.3"/><rect x="522.99" y="458.8" width="5.92" height="12.3"/><rect x="528.81" y="448.1" width="5.92" height="23"/><rect x="534.63" y="416.4" width="5.92" height="54.7"/><rect x="540.45" y="387.3" width="5.92" height="83.8"/><rect x="546.28" y="414.4" width="5.92" height="56.7"/><rect x="552.1" y="410.8" width="5.92" height="60.3"/><rect x="557.92" y="462.9" width="5.92" height="8.2"/><rect x="563.74" y="469.8" width="5.92" height="1.3"/><rect x="575.39" y="469.8" width="5.92" height="1.3"/><rect x="581.21" y="465.5" width="5.92" height="5.6"/><rect x="587.03" y="457.3" width="5.92" height="13.8"/><rect x="627.79" y="464.5" width="5.92" height="6.6"/><rect x="645.26" y="468.2" width="5.92" height="2.9"/><rect x="651.08" y="468.2" width="5.92" height="2.9"/><rect x="656.9" y="468.2" width="5.92" height="2.9"/><rect x="662.73" y="470" width="5.92" height="1.1"/><rect x="668.55" y="470" width="5.92" height="1.1"/><rect x="680.19" y="466.2" width="5.92" height="4.9"/><rect x="686.02" y="470" width="5.92" height="1.1"/><rect x="697.66" y="464.9" width="5.92" height="6.2"/><rect x="703.48" y="457.3" width="5.92" height="13.8"/></g>
<path d="M13.2,379.7 C15.4,376.4 17.6,369.8 19.8,369.8 C22,369.8 24.2,370.34 26.4,371 C28.3,371.57 30.2,373.92 32.1,375.6 C34.03,377.31 35.97,380.31 37.9,381.3 C40.37,382.57 42.83,382.46 45.3,383.8 C46.93,384.69 48.57,389.5 50.2,389.5 C53.2,389.5 56.2,389.5 59.2,389.5 C63.07,389.5 66.93,383.05 70.8,380.5 C74.63,377.97 78.47,373.9 82.3,373.9 C84.47,373.9 86.63,374.69 88.8,375.6 C90.73,376.41 92.67,380.42 94.6,381.3 C96.5,382.17 98.4,382.17 100.3,383 C102.5,383.96 104.7,388.7 106.9,388.7 C109.63,388.7 112.37,388.09 115.1,387.1 C116.77,386.5 118.43,381.74 120.1,380.5 C121.7,379.31 123.3,378 124.9,378 C127.67,378 130.43,380.59 133.2,382.1 C135.93,383.59 138.67,386.02 141.4,387.1 C144.13,388.18 146.87,389.5 149.6,389.5 C152.33,389.5 155.07,382.1 157.8,382.1 C160,382.1 162.2,382.1 164.4,382.1 C166.6,382.1 168.8,387.1 171,387.1 C172.63,387.1 174.27,386.19 175.9,385.4 C178.1,384.33 180.3,379.7 182.5,379.7 C185,379.7 187.5,386.31 190,387.3 C192.57,388.32 195.13,388.35 197.7,389.2 C199.93,389.94 202.17,391.15 204.4,392.5 C206.47,393.75 208.53,397.3 210.6,397.3 C212.83,397.3 215.07,394.4 217.3,394.4 C219.07,394.4 220.83,398.28 222.6,400.7 C224.2,402.89 225.8,405.82 227.4,408.4 C228.37,409.96 229.33,412.61 230.3,413.1 C232.83,414.39 235.37,415.1 237.9,415.1 C240.13,415.1 242.37,413.24 244.6,412.2 C246.87,411.15 249.13,408.8 251.4,408.8 C253.6,408.8 255.8,411.1 258,411.1 C261.83,411.1 265.67,402.9 269.5,402.9 C271.7,402.9 273.9,405.46 276.1,407 C278.83,408.91 281.57,411.91 284.3,413.6 C287.03,415.29 289.77,416.34 292.5,417.7 C295.27,419.07 298.03,420.78 300.8,421.8 C303.53,422.8 306.27,423.65 309,424.2 C312.83,424.97 316.67,425.5 320.5,425.9 C323.77,426.24 327.03,426.7 330.3,426.7 C332.5,426.7 334.7,426.7 336.9,426.7 C339.1,426.7 341.3,419.84 343.5,417.7 C345.7,415.56 347.9,414.7 350.1,412.7 C352.27,410.73 354.43,407.04 356.6,405.3 C358.8,403.53 361,401.2 363.2,401.2 C365.37,401.2 367.53,401.37 369.7,401.6 C372.73,401.92 375.77,404.01 378.8,406.2 C380.7,407.57 382.6,411.89 384.5,412.7 C386.7,413.64 388.9,414.4 391.1,414.4 C393.3,414.4 395.5,406.82 397.7,405.3 C400.43,403.41 403.17,402.93 405.9,401.6 C409.2,399.99 412.5,396.93 415.8,396.3 C417.97,395.88 420.13,395.98 422.3,395.5 C423.97,395.13 425.63,392.72 427.3,391.4 C429.47,389.68 431.63,387.72 433.8,386.4 C437.1,384.38 440.4,383.86 443.7,381.5 C445.63,380.12 447.57,374.9 449.5,374.9 C450.3,374.9 451.1,375.77 451.9,376.6 C453.27,378.03 454.63,386.11 456,386.4 C459.03,387.05 462.07,386.92 465.1,387.3 C466.73,387.51 468.37,387.65 470,388.1 C471.63,388.55 473.27,392.2 474.9,392.2 C478.17,392.2 481.43,383.52 484.7,379.9 C487.47,376.83 490.23,371.6 493,371.6 C495.73,371.6 498.47,372.01 501.2,372.5 C503.93,372.99 506.67,374.97 509.4,376.6 C512.67,378.55 515.93,382.92 519.2,384 C523.07,385.28 526.93,385.28 530.8,386.4 C533.27,387.12 535.73,389.7 538.2,389.7 C540.67,389.7 543.13,386.94 545.6,386.4 C549.43,385.55 553.27,385.19 557.1,384.8 C560.37,384.47 563.63,384.27 566.9,384 C570.2,383.73 573.5,383.67 576.8,383.2 C579.63,382.8 582.47,378.7 585.3,378.7 C587.1,378.7 588.9,379.5 590.7,380.5 C592.6,381.56 594.5,388.04 596.4,390.5 C599.17,394.09 601.93,396.37 604.7,398.8 C607.77,401.5 610.83,406 613.9,406 C616.3,406 618.7,399.1 621.1,396.7 C623.17,394.63 625.23,392.09 627.3,391.6 C630.03,390.95 632.77,390.5 635.5,390.5 C638.23,390.5 640.97,390.5 643.7,390.5 C646.43,390.5 649.17,386.45 651.9,384.4 C654.63,382.35 657.37,378.2 660.1,378.2 C662.17,378.2 664.23,383.4 666.3,383.4 C668.37,383.4 670.43,381.3 672.5,381.3 C674.53,381.3 676.57,386.38 678.6,387.5 C681.33,389.01 684.07,389.34 686.8,390.5 C689.57,391.67 692.33,394.7 695.1,394.7 C697.13,394.7 699.17,386.96 701.2,384.4 C703.27,381.8 705.33,380.27 707.4,378.2" fill="none" stroke="#bf9090" stroke-width="0.9" stroke-dasharray="0.9 1.5" clip-path="url(#ab2)"/>
<path d="M13.2,379.7 C15.4,376.4 17.6,369.8 19.8,369.8 C22,369.8 24.2,370.34 26.4,371 C28.3,371.57 30.2,373.92 32.1,375.6 C34.03,377.31 35.97,380.31 37.9,381.3 C40.37,382.57 42.83,382.46 45.3,383.8 C46.93,384.69 48.57,389.5 50.2,389.5 C53.2,389.5 56.2,389.5 59.2,389.5 C63.07,389.5 66.93,383.05 70.8,380.5 C74.63,377.97 78.47,373.9 82.3,373.9 C84.47,373.9 86.63,374.69 88.8,375.6 C90.73,376.41 92.67,380.42 94.6,381.3 C96.5,382.17 98.4,382.17 100.3,383 C102.5,383.96 104.7,388.7 106.9,388.7 C109.63,388.7 112.37,388.09 115.1,387.1 C116.77,386.5 118.43,381.74 120.1,380.5 C121.7,379.31 123.3,378 124.9,378 C127.67,378 130.43,380.59 133.2,382.1 C135.93,383.59 138.67,386.02 141.4,387.1 C144.13,388.18 146.87,389.5 149.6,389.5 C152.33,389.5 155.07,382.1 157.8,382.1 C160,382.1 162.2,382.1 164.4,382.1 C166.6,382.1 168.8,387.1 171,387.1 C172.63,387.1 174.27,386.19 175.9,385.4 C178.1,384.33 180.3,379.7 182.5,379.7 C185,379.7 187.5,386.31 190,387.3 C192.57,388.32 195.13,388.35 197.7,389.2 C199.93,389.94 202.17,391.15 204.4,392.5 C206.47,393.75 208.53,397.3 210.6,397.3 C212.83,397.3 215.07,394.4 217.3,394.4 C219.07,394.4 220.83,398.28 222.6,400.7 C224.2,402.89 225.8,405.82 227.4,408.4 C228.37,409.96 229.33,412.61 230.3,413.1 C232.83,414.39 235.37,415.1 237.9,415.1 C240.13,415.1 242.37,413.24 244.6,412.2 C246.87,411.15 249.13,408.8 251.4,408.8 C253.6,408.8 255.8,411.1 258,411.1 C261.83,411.1 265.67,402.9 269.5,402.9 C271.7,402.9 273.9,405.46 276.1,407 C278.83,408.91 281.57,411.91 284.3,413.6 C287.03,415.29 289.77,416.34 292.5,417.7 C295.27,419.07 298.03,420.78 300.8,421.8 C303.53,422.8 306.27,423.65 309,424.2 C312.83,424.97 316.67,425.5 320.5,425.9 C323.77,426.24 327.03,426.7 330.3,426.7 C332.5,426.7 334.7,426.7 336.9,426.7 C339.1,426.7 341.3,419.84 343.5,417.7 C345.7,415.56 347.9,414.7 350.1,412.7 C352.27,410.73 354.43,407.04 356.6,405.3 C358.8,403.53 361,401.2 363.2,401.2 C365.37,401.2 367.53,401.37 369.7,401.6 C372.73,401.92 375.77,404.01 378.8,406.2 C380.7,407.57 382.6,411.89 384.5,412.7 C386.7,413.64 388.9,414.4 391.1,414.4 C393.3,414.4 395.5,406.82 397.7,405.3 C400.43,403.41 403.17,402.93 405.9,401.6 C409.2,399.99 412.5,396.93 415.8,396.3 C417.97,395.88 420.13,395.98 422.3,395.5 C423.97,395.13 425.63,392.72 427.3,391.4 C429.47,389.68 431.63,387.72 433.8,386.4 C437.1,384.38 440.4,383.86 443.7,381.5 C445.63,380.12 447.57,374.9 449.5,374.9 C450.3,374.9 451.1,375.77 451.9,376.6 C453.27,378.03 454.63,386.11 456,386.4 C459.03,387.05 462.07,386.92 465.1,387.3 C466.73,387.51 468.37,387.65 470,388.1 C471.63,388.55 473.27,392.2 474.9,392.2 C478.17,392.2 481.43,383.52 484.7,379.9 C487.47,376.83 490.23,371.6 493,371.6 C495.73,371.6 498.47,372.01 501.2,372.5 C503.93,372.99 506.67,374.97 509.4,376.6 C512.67,378.55 515.93,382.92 519.2,384 C523.07,385.28 526.93,385.28 530.8,386.4 C533.27,387.12 535.73,389.7 538.2,389.7 C540.67,389.7 543.13,386.94 545.6,386.4 C549.43,385.55 553.27,385.19 557.1,384.8 C560.37,384.47 563.63,384.27 566.9,384 C570.2,383.73 573.5,383.67 576.8,383.2 C579.63,382.8 582.47,378.7 585.3,378.7 C587.1,378.7 588.9,379.5 590.7,380.5 C592.6,381.56 594.5,388.04 596.4,390.5 C599.17,394.09 601.93,396.37 604.7,398.8 C607.77,401.5 610.83,406 613.9,406 C616.3,406 618.7,399.1 621.1,396.7 C623.17,394.63 625.23,392.09 627.3,391.6 C630.03,390.95 632.77,390.5 635.5,390.5 C638.23,390.5 640.97,390.5 643.7,390.5 C646.43,390.5 649.17,386.45 651.9,384.4 C654.63,382.35 657.37,378.2 660.1,378.2 C662.17,378.2 664.23,383.4 666.3,383.4 C668.37,383.4 670.43,381.3 672.5,381.3 C674.53,381.3 676.57,386.38 678.6,387.5 C681.33,389.01 684.07,389.34 686.8,390.5 C689.57,391.67 692.33,394.7 695.1,394.7 C697.13,394.7 699.17,386.96 701.2,384.4 C703.27,381.8 705.33,380.27 707.4,378.2" fill="none" stroke="#9dbfe0" stroke-width="0.9" stroke-dasharray="0.9 1.4" clip-path="url(#be2)"/>
<path d="M13.2,361.6 C15.13,361.87 17.07,362.4 19,362.4 C20.9,362.4 22.8,358.3 24.7,358.3 C26.37,358.3 28.03,358.97 29.7,359.9 C31.07,360.66 32.43,364.33 33.8,367.3 C34.6,369.04 35.4,373.6 36.2,373.6 C38.13,373.6 40.07,370.3 42,370.3 C43.37,370.3 44.73,371.28 46.1,372.3 C47.47,373.32 48.83,376.76 50.2,378.8 C51.57,380.84 52.93,384.6 54.3,384.6 C55.93,384.6 57.57,382.31 59.2,380.5 C60.87,378.66 62.53,376.43 64.2,372.3 C65.3,369.57 66.4,363.15 67.5,357.5 C68.6,351.85 69.7,338.07 70.8,337.7 C72.43,337.15 74.07,336.9 75.7,336.9 C76.8,336.9 77.9,338.07 79,339.4 C80.1,340.73 81.2,347.55 82.3,349.2 C83.4,350.85 84.5,351.85 85.6,352.5 C86.97,353.31 88.33,353.12 89.7,354.2 C90.5,354.83 91.3,360.19 92.1,362.4 C92.93,364.71 93.77,368.2 94.6,368.2 C95.97,368.2 97.33,367.3 98.7,367.3 C100.33,367.3 101.97,367.3 103.6,367.3 C104.7,367.3 105.8,373.9 106.9,373.9 C107.73,373.9 108.57,365.76 109.4,360.8 C110.5,354.25 111.6,342.59 112.7,337.7 C114.07,331.62 115.43,325.1 116.8,324.6 C118.17,324.1 119.53,323.8 120.9,323.8 C122,323.8 123.1,325.24 124.2,327.1 C125,328.45 125.8,334.33 126.6,337.7 C127.7,342.33 128.8,348.63 129.9,350.9 C131,353.17 132.1,354.15 133.2,355.5 C134.83,357.51 136.47,358.69 138.1,360.8 C139.47,362.57 140.83,365.44 142.2,367.3 C143.83,369.52 145.47,373.1 147.1,373.1 C148.77,373.1 150.43,372.53 152.1,371.4 C152.9,370.86 153.7,367.54 154.5,364 C155.33,360.32 156.17,349.43 157,344.3 C158.1,337.52 159.2,331.88 160.3,327.9 C161.67,322.95 163.03,316.4 164.4,316.4 C166.03,316.4 167.67,316.67 169.3,317.2 C170.4,317.55 171.5,320.66 172.6,324.6 C173.43,327.59 174.27,339.34 175.1,344.3 C175.9,349.06 176.7,353.87 177.5,355.8 C179.17,359.82 180.83,361.42 182.5,363.2 C184.13,364.94 185.77,366.64 187.4,367.3 C189.6,368.19 191.8,369 194,369 C197.27,369 200.53,368.77 203.8,368.2 C205.47,367.91 207.13,361.56 208.8,357.5 C210.17,354.17 211.53,348.19 212.9,346 C214.27,343.81 215.63,341.4 217,341.4 C217.83,341.4 218.67,344.56 219.5,347.6 C220.3,350.52 221.1,359.23 221.9,364 C222.77,369.17 223.63,376.21 224.5,377.7 C225.8,379.94 227.1,381.5 228.4,381.5 C230.93,381.5 233.47,381 236,381 C237.93,381 239.87,381.48 241.8,382 C243.23,382.39 244.67,384.4 246.1,384.4 C246.9,384.4 247.7,381.15 248.5,378.6 C249.13,376.58 249.77,372.9 250.4,370 C251.3,365.88 252.2,359.99 253.1,357.5 C254.73,352.98 256.37,348.4 258,348.4 C259.37,348.4 260.73,351.26 262.1,353.4 C263.47,355.54 264.83,359.55 266.2,362.4 C267.87,365.88 269.53,368.96 271.2,372.3 C272.3,374.51 273.4,377.01 274.5,379 C276.4,382.43 278.3,384.87 280.2,388.1 C281.57,390.42 282.93,393.74 284.3,395.5 C285.67,397.26 287.03,399.21 288.4,399.6 C290.07,400.07 291.73,400.4 293.4,400.4 C294.2,400.4 295,391.34 295.8,386.4 C296.63,381.26 297.47,376.36 298.3,370 C298.83,365.93 299.37,357.6 299.9,355.8 C301.57,350.17 303.23,346.8 304.9,346.8 C306.27,346.8 307.63,348.53 309,350.1 C310.37,351.67 311.73,356.12 313.1,358.3 C315,361.33 316.9,362.99 318.8,365.7 C320.2,367.7 321.6,369.27 323,372.3 C323.8,374.03 324.6,377.69 325.4,379.9 C326.77,383.67 328.13,387.49 329.5,389.7 C330.87,391.91 332.23,394.7 333.6,394.7 C335.8,394.7 338,393.84 340.2,393 C342.93,391.95 345.67,388.48 348.4,386.4 C350.6,384.72 352.8,381.6 355,381.6 C357.33,381.6 359.67,382.56 362,383.5 C364.03,384.32 366.07,387.68 368.1,388.1 C370.73,388.64 373.37,389 376,389 C379.4,389 382.8,388.9 386.2,388.9 C388.37,388.9 390.53,392.71 392.7,393 C396.57,393.52 400.43,393.8 404.3,393.8 C406.47,393.8 408.63,391.38 410.8,389.7 C412.47,388.41 414.13,386.4 415.8,384.8 C417.43,383.23 419.07,380.2 420.7,380.2 C422.6,380.2 424.5,384 426.4,384 C428.87,384 431.33,381.69 433.8,380.2 C435.47,379.19 437.13,378.42 438.8,376.6 C439.9,375.4 441,372.46 442.1,370 C442.9,368.21 443.7,365.31 444.5,364 C446.17,361.27 447.83,358.3 449.5,358.3 C450.57,358.3 451.63,360.09 452.7,362.4 C453.53,364.2 454.37,375.17 455.2,377.2 C456.3,379.89 457.4,381.48 458.5,382.1 C460.7,383.34 462.9,383.66 465.1,384.2 C466.73,384.6 468.37,384.81 470,385.2 C471.83,385.64 473.67,386.8 475.5,386.8 C477.2,386.8 478.9,383.32 480.6,378.8 C481.43,376.59 482.27,367.85 483.1,364 C484.2,358.91 485.3,353.57 486.4,351.7 C487.77,349.38 489.13,347.3 490.5,347.3 C491.6,347.3 492.7,348.28 493.8,349.2 C495.17,350.34 496.53,354.53 497.9,355.8 C500.1,357.84 502.3,359.53 504.5,359.9 C506.13,360.18 507.77,360.4 509.4,360.4 C511.03,360.4 512.67,357.1 514.3,357.1 C515.67,357.1 517.03,359.16 518.4,360.8 C519.77,362.44 521.13,366.44 522.5,368.2 C523.87,369.96 525.23,371.78 526.6,372.3 C528.53,373.03 530.47,372.93 532.4,373.6 C534.03,374.17 535.67,376 537.3,377.2 C538.67,378.2 540.03,379.89 541.4,380.2 C544.43,380.89 547.47,381.3 550.5,381.3 C554.87,381.3 559.23,381.3 563.6,381.3 C566.9,381.3 570.2,380.77 573.5,380.2 C575.7,379.82 577.9,378.82 580.1,378 C581.83,377.35 583.57,375.8 585.3,375.8 C587.1,375.8 588.9,375.87 590.7,376 C592.47,376.12 594.23,378.09 596,379.6 C597.8,381.14 599.6,383.71 601.4,385.8 C603.17,387.85 604.93,390 606.7,392 C608.77,394.34 610.83,398.8 612.9,398.8 C614.6,398.8 616.3,398.8 618,398.8 C619.03,398.8 620.07,393.73 621.1,388.5 C621.77,385.13 622.43,376.21 623.1,370 C623.87,362.86 624.63,353.61 625.4,348.4 C626.3,342.29 627.2,336.4 628.1,334.2 C629.17,331.59 630.23,329.2 631.3,329.2 C632.3,329.2 633.3,331 634.3,332.4 C635.8,334.5 637.3,339.19 638.8,342.2 C640.57,345.74 642.33,349.5 644.1,352 C645.9,354.55 647.7,356.84 649.5,358.2 C651.27,359.54 653.03,360.05 654.8,361.2 C656.57,362.35 658.33,364.36 660.1,365.3 C662.37,366.51 664.63,368 666.9,368 C668.2,368 669.5,361.52 670.8,357.3 C672,353.41 673.2,346.61 674.4,343.1 C675.47,339.98 676.53,335.6 677.6,335.6 C679.37,335.6 681.13,335.7 682.9,336 C683.63,336.12 684.37,338.54 685.1,341.3 C685.7,343.56 686.3,352.26 686.9,355.6 C688.07,362.09 689.23,368.2 690.4,369.8 C691.9,371.86 693.4,373.4 694.9,373.4 C696.97,373.4 699.03,368 701.1,368 C702.3,368 703.5,368.39 704.7,368.9 C705.57,369.27 706.43,370.9 707.3,371.9" fill="none" stroke="#ff3b3b" stroke-width="1.3" stroke-linejoin="round" clip-path="url(#ab2)"/>
<path d="M13.2,361.6 C15.13,361.87 17.07,362.4 19,362.4 C20.9,362.4 22.8,358.3 24.7,358.3 C26.37,358.3 28.03,358.97 29.7,359.9 C31.07,360.66 32.43,364.33 33.8,367.3 C34.6,369.04 35.4,373.6 36.2,373.6 C38.13,373.6 40.07,370.3 42,370.3 C43.37,370.3 44.73,371.28 46.1,372.3 C47.47,373.32 48.83,376.76 50.2,378.8 C51.57,380.84 52.93,384.6 54.3,384.6 C55.93,384.6 57.57,382.31 59.2,380.5 C60.87,378.66 62.53,376.43 64.2,372.3 C65.3,369.57 66.4,363.15 67.5,357.5 C68.6,351.85 69.7,338.07 70.8,337.7 C72.43,337.15 74.07,336.9 75.7,336.9 C76.8,336.9 77.9,338.07 79,339.4 C80.1,340.73 81.2,347.55 82.3,349.2 C83.4,350.85 84.5,351.85 85.6,352.5 C86.97,353.31 88.33,353.12 89.7,354.2 C90.5,354.83 91.3,360.19 92.1,362.4 C92.93,364.71 93.77,368.2 94.6,368.2 C95.97,368.2 97.33,367.3 98.7,367.3 C100.33,367.3 101.97,367.3 103.6,367.3 C104.7,367.3 105.8,373.9 106.9,373.9 C107.73,373.9 108.57,365.76 109.4,360.8 C110.5,354.25 111.6,342.59 112.7,337.7 C114.07,331.62 115.43,325.1 116.8,324.6 C118.17,324.1 119.53,323.8 120.9,323.8 C122,323.8 123.1,325.24 124.2,327.1 C125,328.45 125.8,334.33 126.6,337.7 C127.7,342.33 128.8,348.63 129.9,350.9 C131,353.17 132.1,354.15 133.2,355.5 C134.83,357.51 136.47,358.69 138.1,360.8 C139.47,362.57 140.83,365.44 142.2,367.3 C143.83,369.52 145.47,373.1 147.1,373.1 C148.77,373.1 150.43,372.53 152.1,371.4 C152.9,370.86 153.7,367.54 154.5,364 C155.33,360.32 156.17,349.43 157,344.3 C158.1,337.52 159.2,331.88 160.3,327.9 C161.67,322.95 163.03,316.4 164.4,316.4 C166.03,316.4 167.67,316.67 169.3,317.2 C170.4,317.55 171.5,320.66 172.6,324.6 C173.43,327.59 174.27,339.34 175.1,344.3 C175.9,349.06 176.7,353.87 177.5,355.8 C179.17,359.82 180.83,361.42 182.5,363.2 C184.13,364.94 185.77,366.64 187.4,367.3 C189.6,368.19 191.8,369 194,369 C197.27,369 200.53,368.77 203.8,368.2 C205.47,367.91 207.13,361.56 208.8,357.5 C210.17,354.17 211.53,348.19 212.9,346 C214.27,343.81 215.63,341.4 217,341.4 C217.83,341.4 218.67,344.56 219.5,347.6 C220.3,350.52 221.1,359.23 221.9,364 C222.77,369.17 223.63,376.21 224.5,377.7 C225.8,379.94 227.1,381.5 228.4,381.5 C230.93,381.5 233.47,381 236,381 C237.93,381 239.87,381.48 241.8,382 C243.23,382.39 244.67,384.4 246.1,384.4 C246.9,384.4 247.7,381.15 248.5,378.6 C249.13,376.58 249.77,372.9 250.4,370 C251.3,365.88 252.2,359.99 253.1,357.5 C254.73,352.98 256.37,348.4 258,348.4 C259.37,348.4 260.73,351.26 262.1,353.4 C263.47,355.54 264.83,359.55 266.2,362.4 C267.87,365.88 269.53,368.96 271.2,372.3 C272.3,374.51 273.4,377.01 274.5,379 C276.4,382.43 278.3,384.87 280.2,388.1 C281.57,390.42 282.93,393.74 284.3,395.5 C285.67,397.26 287.03,399.21 288.4,399.6 C290.07,400.07 291.73,400.4 293.4,400.4 C294.2,400.4 295,391.34 295.8,386.4 C296.63,381.26 297.47,376.36 298.3,370 C298.83,365.93 299.37,357.6 299.9,355.8 C301.57,350.17 303.23,346.8 304.9,346.8 C306.27,346.8 307.63,348.53 309,350.1 C310.37,351.67 311.73,356.12 313.1,358.3 C315,361.33 316.9,362.99 318.8,365.7 C320.2,367.7 321.6,369.27 323,372.3 C323.8,374.03 324.6,377.69 325.4,379.9 C326.77,383.67 328.13,387.49 329.5,389.7 C330.87,391.91 332.23,394.7 333.6,394.7 C335.8,394.7 338,393.84 340.2,393 C342.93,391.95 345.67,388.48 348.4,386.4 C350.6,384.72 352.8,381.6 355,381.6 C357.33,381.6 359.67,382.56 362,383.5 C364.03,384.32 366.07,387.68 368.1,388.1 C370.73,388.64 373.37,389 376,389 C379.4,389 382.8,388.9 386.2,388.9 C388.37,388.9 390.53,392.71 392.7,393 C396.57,393.52 400.43,393.8 404.3,393.8 C406.47,393.8 408.63,391.38 410.8,389.7 C412.47,388.41 414.13,386.4 415.8,384.8 C417.43,383.23 419.07,380.2 420.7,380.2 C422.6,380.2 424.5,384 426.4,384 C428.87,384 431.33,381.69 433.8,380.2 C435.47,379.19 437.13,378.42 438.8,376.6 C439.9,375.4 441,372.46 442.1,370 C442.9,368.21 443.7,365.31 444.5,364 C446.17,361.27 447.83,358.3 449.5,358.3 C450.57,358.3 451.63,360.09 452.7,362.4 C453.53,364.2 454.37,375.17 455.2,377.2 C456.3,379.89 457.4,381.48 458.5,382.1 C460.7,383.34 462.9,383.66 465.1,384.2 C466.73,384.6 468.37,384.81 470,385.2 C471.83,385.64 473.67,386.8 475.5,386.8 C477.2,386.8 478.9,383.32 480.6,378.8 C481.43,376.59 482.27,367.85 483.1,364 C484.2,358.91 485.3,353.57 486.4,351.7 C487.77,349.38 489.13,347.3 490.5,347.3 C491.6,347.3 492.7,348.28 493.8,349.2 C495.17,350.34 496.53,354.53 497.9,355.8 C500.1,357.84 502.3,359.53 504.5,359.9 C506.13,360.18 507.77,360.4 509.4,360.4 C511.03,360.4 512.67,357.1 514.3,357.1 C515.67,357.1 517.03,359.16 518.4,360.8 C519.77,362.44 521.13,366.44 522.5,368.2 C523.87,369.96 525.23,371.78 526.6,372.3 C528.53,373.03 530.47,372.93 532.4,373.6 C534.03,374.17 535.67,376 537.3,377.2 C538.67,378.2 540.03,379.89 541.4,380.2 C544.43,380.89 547.47,381.3 550.5,381.3 C554.87,381.3 559.23,381.3 563.6,381.3 C566.9,381.3 570.2,380.77 573.5,380.2 C575.7,379.82 577.9,378.82 580.1,378 C581.83,377.35 583.57,375.8 585.3,375.8 C587.1,375.8 588.9,375.87 590.7,376 C592.47,376.12 594.23,378.09 596,379.6 C597.8,381.14 599.6,383.71 601.4,385.8 C603.17,387.85 604.93,390 606.7,392 C608.77,394.34 610.83,398.8 612.9,398.8 C614.6,398.8 616.3,398.8 618,398.8 C619.03,398.8 620.07,393.73 621.1,388.5 C621.77,385.13 622.43,376.21 623.1,370 C623.87,362.86 624.63,353.61 625.4,348.4 C626.3,342.29 627.2,336.4 628.1,334.2 C629.17,331.59 630.23,329.2 631.3,329.2 C632.3,329.2 633.3,331 634.3,332.4 C635.8,334.5 637.3,339.19 638.8,342.2 C640.57,345.74 642.33,349.5 644.1,352 C645.9,354.55 647.7,356.84 649.5,358.2 C651.27,359.54 653.03,360.05 654.8,361.2 C656.57,362.35 658.33,364.36 660.1,365.3 C662.37,366.51 664.63,368 666.9,368 C668.2,368 669.5,361.52 670.8,357.3 C672,353.41 673.2,346.61 674.4,343.1 C675.47,339.98 676.53,335.6 677.6,335.6 C679.37,335.6 681.13,335.7 682.9,336 C683.63,336.12 684.37,338.54 685.1,341.3 C685.7,343.56 686.3,352.26 686.9,355.6 C688.07,362.09 689.23,368.2 690.4,369.8 C691.9,371.86 693.4,373.4 694.9,373.4 C696.97,373.4 699.03,368 701.1,368 C702.3,368 703.5,368.39 704.7,368.9 C705.57,369.27 706.43,370.9 707.3,371.9" fill="none" stroke="#3a9ad9" stroke-width="1.3" stroke-linejoin="round" clip-path="url(#be2)"/>
<g><use href="#cloud" x="23.1" y="348"/><circle cx="23.1" cy="352.7" r="0.75" fill="#2f7fc0"/><use href="#cloud" x="34.9" y="363.6"/><use href="#moon" x="48.1" y="365.4"/><use href="#cloud" x="46.1" y="368.6"/><use href="#cloud" x="58.4" y="367.8"/><use href="#sun" x="70.4" y="327.9"/><use href="#cloud" x="81.4" y="341.1"/><use href="#moon" x="93.8" y="358.8"/><use href="#sun" x="103.3" y="363.2"/><use href="#cloud" transform="translate(105.9,366.7) scale(0.72)"/><use href="#cloud" x="117.3" y="312.7"/><use href="#cloud" x="127.5" y="341.1"/><use href="#moon" x="141" y="356.6"/><use href="#cloud" x="139.7" y="360"/><use href="#sun" x="150.9" y="361.1"/><use href="#cloud" transform="translate(154,363.4) scale(0.72)"/><use href="#sun" x="161.9" y="305.7"/><use href="#cloud" transform="translate(164.7,308.4) scale(0.72)"/><use href="#moon" x="175.1" y="345.6"/><use href="#cloud" x="186.6" y="358.7"/><use href="#cloud" x="198.6" y="358.7"/><use href="#cloud" x="210.1" y="339.8"/><use href="#cloud" x="221.6" y="361.2"/><use href="#cloud" x="233.1" y="370.6"/><use href="#cloud" x="244.9" y="374"/><use href="#cloud" x="256.9" y="338.2"/><use href="#cloud" x="268.7" y="359.5"/><use href="#cloud" x="279.7" y="377.3"/><use href="#sun" x="290.9" y="390"/><use href="#cloud" transform="translate(293.7,393.2) scale(0.72)"/><use href="#cloud" x="303.7" y="336.5"/><use href="#cloud" x="315.2" y="353.5"/><use href="#moon" x="327.9" y="378"/><use href="#cloud" x="325.9" y="381.4"/><use href="#cloud" x="338.2" y="383"/><use href="#cloud" x="350.1" y="371.5"/><circle cx="350.1" cy="376.2" r="0.75" fill="#2f7fc0"/><use href="#cloud" x="361.8" y="375.2"/><use href="#cloud" x="373" y="377.6"/><use href="#cloud" x="384.9" y="378.1"/><use href="#cloud" x="396.9" y="384.2"/><circle cx="396.9" cy="388.9" r="0.75" fill="#2f7fc0"/><use href="#cloud" x="408.4" y="380.1"/><circle cx="408.4" cy="384.8" r="0.75" fill="#2f7fc0"/><use href="#cloud" x="420.4" y="369.9"/><use href="#cloud" x="431.7" y="371.5"/><use href="#cloud" x="443.4" y="353.5"/><use href="#cloud" x="454.9" y="370.6"/><use href="#cloud" x="467" y="374.3"/><use href="#cloud" x="477.8" y="370.2"/><use href="#cloud" x="489.7" y="337"/><use href="#cloud" x="501.5" y="348.8"/><use href="#cloud" x="513.5" y="346.9"/><use href="#cloud" x="525" y="362.3"/><circle cx="525" cy="367" r="0.75" fill="#2f7fc0"/><use href="#cloud" x="536.5" y="368.6"/><circle cx="534.9" cy="373.3" r="0.7" fill="#2f7fc0"/><circle cx="538.1" cy="373.3" r="0.7" fill="#2f7fc0"/><use href="#cloud" x="548" y="371"/><circle cx="546.4" cy="375.7" r="0.7" fill="#2f7fc0"/><circle cx="549.6" cy="375.7" r="0.7" fill="#2f7fc0"/><use href="#cloud" x="560" y="371"/><circle cx="560" cy="375.7" r="0.75" fill="#2f7fc0"/><use href="#cloud" x="571.5" y="370.2"/><use href="#cloud" x="582.8" y="365.6"/><use href="#cloud" x="595.1" y="371.2"/><use href="#moon" x="607.6" y="384"/><use href="#cloud" x="606.4" y="387.2"/><use href="#sun" x="617.9" y="384"/><use href="#cloud" x="629.9" y="319.2"/><circle cx="629.9" cy="323.9" r="0.75" fill="#2f7fc0"/><use href="#cloud" x="641.4" y="340.6"/><use href="#cloud" x="653.4" y="351.2"/><use href="#cloud" x="665.1" y="358.4"/><use href="#cloud" x="676.5" y="325.2"/><use href="#cloud" x="688.1" y="358.4"/><use href="#cloud" x="699.9" y="357.8"/><circle cx="699.9" cy="362.5" r="0.75" fill="#2f7fc0"/></g>
<g font-size="4.8" font-weight="bold" fill="#000" stroke="#fff" stroke-width="0.9" paint-order="stroke"><text x="25.16" y="455.5" text-anchor="middle">0.4</text><text x="30.98" y="465.2" text-anchor="middle">0.1</text><text x="164.9" y="464.8" text-anchor="middle">0.1</text><text x="170.72" y="456" text-anchor="middle">0.4</text><text x="182.37" y="466.8" text-anchor="middle">0.1</text><text x="194.01" y="466.8" text-anchor="middle">0.1</text><text x="205.66" y="466.5" text-anchor="middle">0.1</text><text x="269.71" y="466.8" text-anchor="middle">0.1</text><text x="339.58" y="463.2" text-anchor="middle">0.2</text><text x="351.22" y="454.1" text-anchor="middle">0.5</text><text x="386.16" y="466.4" text-anchor="middle">0.1</text><text x="391.98" y="405.8" text-anchor="middle">2.2</text><text x="397.8" y="328.9" text-anchor="middle">4.9</text><text x="403.62" y="360.9" text-anchor="middle">3.8</text><text x="409.45" y="459.7" text-anchor="middle">0.2</text><text x="421.09" y="466.4" text-anchor="middle">0.1</text><text x="426.91" y="449" text-anchor="middle">0.7</text><text x="520.07" y="466.6" text-anchor="middle">0.1</text><text x="525.9" y="455.6" text-anchor="middle">0.4</text><text x="531.72" y="444.9" text-anchor="middle">0.8</text><text x="537.54" y="413.2" text-anchor="middle">1.8</text><text x="543.36" y="384.1" text-anchor="middle">2.9</text><text x="555.01" y="407.6" text-anchor="middle">2.1</text><text x="560.83" y="459.7" text-anchor="middle">0.2</text><text x="566.65" y="466.6" text-anchor="middle">0.1</text><text x="584.12" y="462.3" text-anchor="middle">0.2</text><text x="589.94" y="454.1" text-anchor="middle">0.5</text><text x="630.7" y="461.3" text-anchor="middle">0.2</text><text x="648.17" y="465" text-anchor="middle">0.1</text><text x="659.81" y="465" text-anchor="middle">0.1</text><text x="671.46" y="466.8" text-anchor="middle">0.1</text><text x="683.1" y="463" text-anchor="middle">0.2</text><text x="700.57" y="461.7" text-anchor="middle">0.3</text><text x="706.39" y="454.1" text-anchor="middle">0.5</text></g>
<g stroke="#d0d0d0" stroke-width="0.8"><line x1="10.61" y1="471.1" x2="10.61" y2="486.8"/><line x1="16.43" y1="471.1" x2="16.43" y2="486.8"/><line x1="22.25" y1="471.1" x2="22.25" y2="486.8"/><line x1="28.07" y1="471.1" x2="28.07" y2="486.8"/><line x1="33.9" y1="471.1" x2="33.9" y2="486.8"/><line x1="39.72" y1="471.1" x2="39.72" y2="486.8"/><line x1="45.54" y1="471.1" x2="45.54" y2="486.8"/><line x1="51.36" y1="471.1" x2="51.36" y2="486.8"/><line x1="57.19" y1="471.1" x2="57.19" y2="486.8"/><line x1="63.01" y1="471.1" x2="63.01" y2="486.8"/><line x1="68.83" y1="471.1" x2="68.83" y2="486.8"/><line x1="74.65" y1="471.1" x2="74.65" y2="486.8"/><line x1="80.48" y1="471.1" x2="80.48" y2="486.8"/><line x1="86.3" y1="471.1" x2="86.3" y2="486.8"/><line x1="92.12" y1="471.1" x2="92.12" y2="486.8"/><line x1="97.94" y1="471.1" x2="97.94" y2="486.8"/><line x1="103.77" y1="471.1" x2="103.77" y2="486.8"/><line x1="109.59" y1="471.1" x2="109.59" y2="486.8"/><line x1="115.41" y1="471.1" x2="115.41" y2="486.8"/><line x1="121.23" y1="471.1" x2="121.23" y2="486.8"/><line x1="127.06" y1="471.1" x2="127.06" y2="486.8"/><line x1="132.88" y1="471.1" x2="132.88" y2="486.8"/><line x1="138.7" y1="471.1" x2="138.7" y2="486.8"/><line x1="144.52" y1="471.1" x2="144.52" y2="486.8"/><line x1="150.35" y1="471.1" x2="150.35" y2="486.8"/><line x1="156.17" y1="471.1" x2="156.17" y2="486.8"/><line x1="161.99" y1="471.1" x2="161.99" y2="486.8"/><line x1="167.81" y1="471.1" x2="167.81" y2="486.8"/><line x1="173.64" y1="471.1" x2="173.64" y2="486.8"/><line x1="179.46" y1="471.1" x2="179.46" y2="486.8"/><line x1="185.28" y1="471.1" x2="185.28" y2="486.8"/><line x1="191.1" y1="471.1" x2="191.1" y2="486.8"/><line x1="196.93" y1="471.1" x2="196.93" y2="486.8"/><line x1="202.75" y1="471.1" x2="202.75" y2="486.8"/><line x1="208.57" y1="471.1" x2="208.57" y2="486.8"/><line x1="214.39" y1="471.1" x2="214.39" y2="486.8"/><line x1="220.22" y1="471.1" x2="220.22" y2="486.8"/><line x1="226.04" y1="471.1" x2="226.04" y2="486.8"/><line x1="231.86" y1="471.1" x2="231.86" y2="486.8"/><line x1="237.68" y1="471.1" x2="237.68" y2="486.8"/><line x1="243.51" y1="471.1" x2="243.51" y2="486.8"/><line x1="249.33" y1="471.1" x2="249.33" y2="486.8"/><line x1="255.15" y1="471.1" x2="255.15" y2="486.8"/><line x1="260.97" y1="471.1" x2="260.97" y2="486.8"/><line x1="266.8" y1="471.1" x2="266.8" y2="486.8"/><line x1="272.62" y1="471.1" x2="272.62" y2="486.8"/><line x1="278.44" y1="471.1" x2="278.44" y2="486.8"/><line x1="284.26" y1="471.1" x2="284.26" y2="486.8"/><line x1="290.09" y1="471.1" x2="290.09" y2="486.8"/><line x1="295.91" y1="471.1" x2="295.91" y2="486.8"/><line x1="301.73" y1="471.1" x2="301.73" y2="486.8"/><line x1="307.55" y1="471.1" x2="307.55" y2="486.8"/><line x1="313.38" y1="471.1" x2="313.38" y2="486.8"/><line x1="319.2" y1="471.1" x2="319.2" y2="486.8"/><line x1="325.02" y1="471.1" x2="325.02" y2="486.8"/><line x1="330.84" y1="471.1" x2="330.84" y2="486.8"/><line x1="336.67" y1="471.1" x2="336.67" y2="486.8"/><line x1="342.49" y1="471.1" x2="342.49" y2="486.8"/><line x1="348.31" y1="471.1" x2="348.31" y2="486.8"/><line x1="354.13" y1="471.1" x2="354.13" y2="486.8"/><line x1="359.96" y1="471.1" x2="359.96" y2="486.8"/><line x1="365.78" y1="471.1" x2="365.78" y2="486.8"/><line x1="371.6" y1="471.1" x2="371.6" y2="486.8"/><line x1="377.42" y1="471.1" x2="377.42" y2="486.8"/><line x1="383.25" y1="471.1" x2="383.25" y2="486.8"/><line x1="389.07" y1="471.1" x2="389.07" y2="486.8"/><line x1="394.89" y1="471.1" x2="394.89" y2="486.8"/><line x1="400.71" y1="471.1" x2="400.71" y2="486.8"/><line x1="406.54" y1="471.1" x2="406.54" y2="486.8"/><line x1="412.36" y1="471.1" x2="412.36" y2="486.8"/><line x1="418.18" y1="471.1" x2="418.18" y2="486.8"/><line x1="424" y1="471.1" x2="424" y2="486.8"/><line x1="429.83" y1="471.1" x2="429.83" y2="486.8"/><line x1="435.65" y1="471.1" x2="435.65" y2="486.8"/><line x1="441.47" y1="471.1" x2="441.47" y2="486.8"/><line x1="447.29" y1="471.1" x2="447.29" y2="486.8"/><line x1="453.12" y1="471.1" x2="453.12" y2="486.8"/><line x1="458.94" y1="471.1" x2="458.94" y2="486.8"/><line x1="464.76" y1="471.1" x2="464.76" y2="486.8"/><line x1="470.58" y1="471.1" x2="470.58" y2="486.8"/><line x1="476.41" y1="471.1" x2="476.41" y2="486.8"/><line x1="482.23" y1="471.1" x2="482.23" y2="486.8"/><line x1="488.05" y1="471.1" x2="488.05" y2="486.8"/><line x1="493.87" y1="471.1" x2="493.87" y2="486.8"/><line x1="499.7" y1="471.1" x2="499.7" y2="486.8"/><line x1="505.52" y1="471.1" x2="505.52" y2="486.8"/><line x1="511.34" y1="471.1" x2="511.34" y2="486.8"/><line x1="517.16" y1="471.1" x2="517.16" y2="486.8"/><line x1="522.99" y1="471.1" x2="522.99" y2="486.8"/><line x1="528.81" y1="471.1" x2="528.81" y2="486.8"/><line x1="534.63" y1="471.1" x2="534.63" y2="486.8"/><line x1="540.45" y1="471.1" x2="540.45" y2="486.8"/><line x1="546.28" y1="471.1" x2="546.28" y2="486.8"/><line x1="552.1" y1="471.1" x2="552.1" y2="486.8"/><line x1="557.92" y1="471.1" x2="557.92" y2="486.8"/><line x1="563.74" y1="471.1" x2="563.74" y2="486.8"/><line x1="569.57" y1="471.1" x2="569.57" y2="486.8"/><line x1="575.39" y1="471.1" x2="575.39" y2="486.8"/><line x1="581.21" y1="471.1" x2="581.21" y2="486.8"/><line x1="587.03" y1="471.1" x2="587.03" y2="486.8"/><line x1="592.86" y1="471.1" x2="592.86" y2="486.8"/><line x1="598.68" y1="471.1" x2="598.68" y2="486.8"/><line x1="604.5" y1="471.1" x2="604.5" y2="486.8"/><line x1="610.32" y1="471.1" x2="610.32" y2="486.8"/><line x1="616.15" y1="471.1" x2="616.15" y2="486.8"/><line x1="621.97" y1="471.1" x2="621.97" y2="486.8"/><line x1="627.79" y1="471.1" x2="627.79" y2="486.8"/><line x1="633.61" y1="471.1" x2="633.61" y2="486.8"/><line x1="639.44" y1="471.1" x2="639.44" y2="486.8"/><line x1="645.26" y1="471.1" x2="645.26" y2="486.8"/><line x1="651.08" y1="471.1" x2="651.08" y2="486.8"/><line x1="656.9" y1="471.1" x2="656.9" y2="486.8"/><line x1="662.73" y1="471.1" x2="662.73" y2="486.8"/><line x1="668.55" y1="471.1" x2="668.55" y2="486.8"/><line x1="674.37" y1="471.1" x2="674.37" y2="486.8"/><line x1="680.19" y1="471.1" x2="680.19" y2="486.8"/><line x1="686.02" y1="471.1" x2="686.02" y2="486.8"/><line x1="691.84" y1="471.1" x2="691.84" y2="486.8"/><line x1="697.66" y1="471.1" x2="697.66" y2="486.8"/><line x1="703.48" y1="471.1" x2="703.48" y2="486.8"/><line x1="709.31" y1="471.1" x2="709.31" y2="486.8"/></g>
<line x1="9.9" y1="471.1" x2="710.1" y2="471.1" stroke="#d0d0d0" stroke-width="0.9"/>
<line x1="9.9" y1="486.8" x2="710.1" y2="486.8" stroke="#c5d3ea" stroke-width="1" stroke-dasharray="1 1"/>
<g stroke="#111" stroke-width="1" fill="none"><line x1="21.6" y1="481.3" x2="14.71" y2="477.82"/><path d="M12.3,476.6 L15.61,476.7 L14.35,479.2Z" stroke="none" fill="#111"/><line x1="21.6" y1="481.3" x2="20.96" y2="483.44" stroke-width="0.75"/><line x1="37.6" y1="482.7" x2="32.57" y2="476.94"/><path d="M30.8,474.9 L33.83,476.24 L31.72,478.08Z" stroke="none" fill="#111"/><line x1="37.6" y1="482.7" x2="36.2" y2="484.45" stroke-width="0.75"/><line x1="55.9" y1="482.7" x2="50.18" y2="476.83"/><path d="M48.3,474.9 L51.4,476.07 L49.39,478.03Z" stroke="none" fill="#111"/><line x1="55.9" y1="482.7" x2="54.6" y2="484.52" stroke-width="0.75"/><line x1="73.6" y1="482.1" x2="67.41" y2="477.18"/><path d="M65.3,475.5 L68.52,476.27 L66.78,478.46Z" stroke="none" fill="#111"/><line x1="73.6" y1="482.1" x2="72.54" y2="484.07" stroke-width="0.75"/><line x1="91.4" y1="481.3" x2="84.6" y2="477.83"/><path d="M82.2,476.6 L85.51,476.72 L84.23,479.21Z" stroke="none" fill="#111"/><line x1="91.4" y1="481.3" x2="90.76" y2="483.44" stroke-width="0.75"/><line x1="109.3" y1="480.3" x2="102.34" y2="478.78"/><path d="M99.7,478.2 L102.93,477.47 L102.33,480.21Z" stroke="none" fill="#111"/><line x1="109.3" y1="480.3" x2="109.22" y2="482.53" stroke-width="0.75"/><line x1="124.9" y1="482.7" x2="120.74" y2="476.72"/><path d="M119.2,474.5 L122.06,476.16 L119.76,477.76Z" stroke="none" fill="#111"/><line x1="124.9" y1="482.7" x2="123.32" y2="484.28" stroke-width="0.75"/><line x1="141.8" y1="474.9" x2="138.6" y2="480.73"/><path d="M137.3,483.1 L137.52,479.8 L139.97,481.14Z" stroke="none" fill="#111"/><line x1="141.8" y1="474.9" x2="143.92" y2="475.61" stroke-width="0.75"/><line x1="152.7" y1="476.8" x2="160.11" y2="479.95"/><path d="M162.6,481 L159.29,481.12 L160.39,478.54Z" stroke="none" fill="#111"/><line x1="152.7" y1="476.8" x2="153.19" y2="474.62" stroke-width="0.75"/><line x1="170.4" y1="477.3" x2="177.52" y2="479.5"/><path d="M180.1,480.3 L176.82,480.75 L177.65,478.08Z" stroke="none" fill="#111"/><line x1="170.4" y1="477.3" x2="170.67" y2="475.08" stroke-width="0.75"/><line x1="195.5" y1="476.2" x2="190.26" y2="481.15"/><path d="M188.3,483 L189.52,479.92 L191.44,481.96Z" stroke="none" fill="#111"/><line x1="195.5" y1="476.2" x2="197.3" y2="477.52" stroke-width="0.75"/><line x1="213.6" y1="475.6" x2="208.11" y2="481.09"/><path d="M206.2,483 L207.33,479.89 L209.31,481.87Z" stroke="none" fill="#111"/><line x1="213.6" y1="475.6" x2="215.44" y2="476.87" stroke-width="0.75"/><line x1="231.4" y1="476.2" x2="225.35" y2="480.77"/><path d="M223.2,482.4 L224.75,479.47 L226.44,481.71Z" stroke="none" fill="#111"/><line x1="231.4" y1="476.2" x2="233.05" y2="477.71" stroke-width="0.75"/><line x1="248.9" y1="476.2" x2="242.85" y2="480.77"/><path d="M240.7,482.4 L242.25,479.47 L243.94,481.71Z" stroke="none" fill="#111"/><line x1="248.9" y1="476.2" x2="250.55" y2="477.71" stroke-width="0.75"/><line x1="266.4" y1="475.6" x2="260.81" y2="480.6"/><path d="M258.8,482.4 L260.1,479.36 L261.97,481.44Z" stroke="none" fill="#111"/><line x1="266.4" y1="475.6" x2="268.17" y2="476.97" stroke-width="0.75"/><line x1="284.9" y1="477.7" x2="277.22" y2="479.64"/><path d="M274.6,480.3 L277.17,478.21 L277.85,480.92Z" stroke="none" fill="#111"/><line x1="284.9" y1="477.7" x2="285.83" y2="479.74" stroke-width="0.75"/><line x1="301.4" y1="477.3" x2="294.67" y2="480.3"/><path d="M292.2,481.4 L294.37,478.9 L295.51,481.46Z" stroke="none" fill="#111"/><line x1="301.4" y1="477.3" x2="302.66" y2="479.15" stroke-width="0.75"/><line x1="318.5" y1="482.4" x2="312.56" y2="476.16"/><path d="M310.7,474.2 L313.78,475.41 L311.75,477.34Z" stroke="none" fill="#111"/><line x1="318.5" y1="482.4" x2="317.18" y2="484.21" stroke-width="0.75"/><line x1="336.4" y1="480.3" x2="329.57" y2="477.29"/><path d="M327.1,476.2 L330.41,476.13 L329.28,478.69Z" stroke="none" fill="#111"/><line x1="336.4" y1="480.3" x2="335.88" y2="482.47" stroke-width="0.75"/><line x1="354.9" y1="479.3" x2="347.28" y2="478.26"/><path d="M344.6,477.9 L347.76,476.92 L347.38,479.69Z" stroke="none" fill="#111"/><line x1="354.9" y1="479.3" x2="355" y2="481.53" stroke-width="0.75"/><line x1="370.9" y1="475.6" x2="365.14" y2="480.63"/><path d="M363.1,482.4 L364.44,479.37 L366.28,481.48Z" stroke="none" fill="#111"/><line x1="370.9" y1="475.6" x2="372.65" y2="477" stroke-width="0.75"/><line x1="389.4" y1="477.7" x2="382.11" y2="479.61"/><path d="M379.5,480.3 L382.05,478.18 L382.76,480.89Z" stroke="none" fill="#111"/><line x1="389.4" y1="477.7" x2="390.35" y2="479.73" stroke-width="0.75"/><line x1="407.3" y1="478.9" x2="399.7" y2="478.9"/><path d="M397,478.9 L400,477.5 L400,480.3Z" stroke="none" fill="#111"/><line x1="407.3" y1="478.9" x2="407.7" y2="481.1" stroke-width="0.75"/><line x1="425.7" y1="478.3" x2="417.08" y2="479.37"/><path d="M414.4,479.7 L417.21,477.94 L417.55,480.72Z" stroke="none" fill="#111"/><line x1="425.7" y1="478.3" x2="426.37" y2="480.43" stroke-width="0.75"/><line x1="441.8" y1="479" x2="434.2" y2="479.3"/><path d="M431.5,479.4 L434.44,477.88 L434.55,480.68Z" stroke="none" fill="#111"/><line x1="441.8" y1="479" x2="442.29" y2="481.18" stroke-width="0.75"/><line x1="459.5" y1="476.2" x2="452.44" y2="480.99"/><path d="M450.2,482.5 L451.9,479.66 L453.47,481.98Z" stroke="none" fill="#111"/><line x1="459.5" y1="476.2" x2="461.07" y2="477.8" stroke-width="0.75"/><line x1="476.7" y1="478.5" x2="469.56" y2="479.66"/><path d="M466.9,480.1 L469.64,478.23 L470.09,481Z" stroke="none" fill="#111"/><line x1="476.7" y1="478.5" x2="477.45" y2="480.61" stroke-width="0.75"/><line x1="493" y1="483.2" x2="487.73" y2="476.87"/><path d="M486,474.8 L489,476.21 L486.85,478Z" stroke="none" fill="#111"/><line x1="493" y1="483.2" x2="491.57" y2="484.92" stroke-width="0.75"/><line x1="512.3" y1="479.4" x2="504.6" y2="479.1"/><path d="M501.9,479 L504.95,477.72 L504.84,480.51Z" stroke="none" fill="#111"/><line x1="512.3" y1="479.4" x2="512.62" y2="481.61" stroke-width="0.75"/><line x1="528.6" y1="481.8" x2="521.66" y2="477.92"/><path d="M519.3,476.6 L522.6,476.84 L521.24,479.29Z" stroke="none" fill="#111"/><line x1="528.6" y1="481.8" x2="527.88" y2="483.92" stroke-width="0.75"/><line x1="544.9" y1="483.2" x2="540.63" y2="477.02"/><path d="M539.1,474.8 L541.96,476.47 L539.65,478.06Z" stroke="none" fill="#111"/><line x1="544.9" y1="483.2" x2="543.32" y2="484.78" stroke-width="0.75"/><line x1="564.7" y1="480.6" x2="556.86" y2="477.96"/><path d="M554.3,477.1 L557.59,476.73 L556.7,479.38Z" stroke="none" fill="#111"/><line x1="564.7" y1="480.6" x2="564.38" y2="482.81" stroke-width="0.75"/><line x1="579.9" y1="483.2" x2="575.55" y2="477.01"/><path d="M574,474.8 L576.87,476.45 L574.58,478.06Z" stroke="none" fill="#111"/><line x1="579.9" y1="483.2" x2="578.33" y2="484.79" stroke-width="0.75"/><line x1="590.3" y1="477.9" x2="596.9" y2="479.77"/><path d="M599.5,480.5 L596.23,481.03 L596.99,478.34Z" stroke="none" fill="#111"/><line x1="590.3" y1="477.9" x2="590.51" y2="475.67" stroke-width="0.75"/><line x1="607.7" y1="481" x2="614.58" y2="477.6"/><path d="M617,476.4 L614.93,478.98 L613.69,476.48Z" stroke="none" fill="#111"/><line x1="607.7" y1="481" x2="606.37" y2="479.21" stroke-width="0.75"/><line x1="626.2" y1="482.6" x2="631.23" y2="476.84"/><path d="M633,474.8 L632.08,477.98 L629.97,476.14Z" stroke="none" fill="#111"/><line x1="626.2" y1="482.6" x2="624.28" y2="481.46" stroke-width="0.75"/><line x1="651.9" y1="480.5" x2="644.57" y2="478.13"/><path d="M642,477.3 L645.29,476.89 L644.42,479.55Z" stroke="none" fill="#111"/><line x1="651.9" y1="480.5" x2="651.6" y2="482.72" stroke-width="0.75"/><line x1="659.1" y1="478.9" x2="667.7" y2="479.2"/><path d="M670.4,479.3 L667.35,480.59 L667.45,477.79Z" stroke="none" fill="#111"/><line x1="659.1" y1="478.9" x2="658.78" y2="476.69" stroke-width="0.75"/><line x1="677.6" y1="474.8" x2="684.97" y2="479.13"/><path d="M687.3,480.5 L684,480.19 L685.42,477.77Z" stroke="none" fill="#111"/><line x1="677.6" y1="474.8" x2="678.37" y2="472.7" stroke-width="0.75"/><line x1="698.1" y1="484" x2="700.07" y2="477"/><path d="M700.8,474.4 L701.34,477.67 L698.64,476.91Z" stroke="none" fill="#111"/><line x1="698.1" y1="484" x2="695.87" y2="483.79" stroke-width="0.75"/></g>
<g font-size="6.1" fill="#666" text-anchor="middle" letter-spacing="0.4"><text x="20.91" y="496.1">12</text><text x="32.55" y="496.1">18</text><text x="44.2" y="496.1">00</text><text x="55.85" y="496.1">06</text><text x="67.49" y="496.1">12</text><text x="79.13" y="496.1">18</text><text x="90.78" y="496.1">00</text><text x="102.42" y="496.1">06</text><text x="114.07" y="496.1">12</text><text x="125.72" y="496.1">18</text><text x="137.36" y="496.1">00</text><text x="149" y="496.1">06</text><text x="160.65" y="496.1">12</text><text x="172.29" y="496.1">18</text><text x="183.94" y="496.1">00</text><text x="195.58" y="496.1">06</text><text x="207.23" y="496.1">12</text><text x="218.87" y="496.1">18</text><text x="230.52" y="496.1">00</text><text x="242.16" y="496.1">06</text><text x="253.81" y="496.1">12</text><text x="265.46" y="496.1">18</text><text x="277.1" y="496.1">00</text><text x="288.75" y="496.1">06</text><text x="300.39" y="496.1">12</text><text x="312.04" y="496.1">18</text><text x="323.68" y="496.1">00</text><text x="335.33" y="496.1">06</text><text x="346.97" y="496.1">12</text><text x="358.62" y="496.1">18</text><text x="370.26" y="496.1">00</text><text x="381.91" y="496.1">06</text><text x="393.55" y="496.1">12</text><text x="405.19" y="496.1">18</text><text x="416.84" y="496.1">00</text><text x="428.49" y="496.1">06</text><text x="440.13" y="496.1">12</text><text x="451.78" y="496.1">18</text><text x="463.42" y="496.1">00</text><text x="475.07" y="496.1">06</text><text x="486.71" y="496.1">12</text><text x="498.36" y="496.1">18</text><text x="510" y="496.1">00</text><text x="521.64" y="496.1">06</text><text x="533.29" y="496.1">12</text><text x="544.93" y="496.1">18</text><text x="556.58" y="496.1">00</text><text x="568.23" y="496.1">06</text><text x="579.87" y="496.1">12</text><text x="591.51" y="496.1">18</text><text x="603.16" y="496.1">00</text><text x="614.8" y="496.1">06</text><text x="626.45" y="496.1">12</text><text x="638.1" y="496.1">18</text><text x="649.74" y="496.1">00</text><text x="661.38" y="496.1">06</text><text x="673.03" y="496.1">12</text><text x="684.68" y="496.1">18</text><text x="696.32" y="496.1">00</text></g>
<text x="331.8" y="506.1" font-size="6.55" fill="#666">Local time (UTC+1)</text>
<text x="710" y="505.1" text-anchor="end" font-size="5.2" fill="#999">wetterzentrale.de</text>
<text x="160.5" y="428.6" font-family="'Liberation Serif', serif" font-size="32.3" fill="#000">esős és meleg</text>
<text x="359.7" y="519.8" text-anchor="middle" font-size="8.2" fill="#333">GFS Salgótarján (HU) 48N, 19.75E</text>
<text x="291.7" y="526.7" font-size="6.6" fill="#666">Init: Sat, 02Mar2024 12Z</text>
<use href="#sunr" x="372.6" y="523.8"/>
<text x="378.2" y="526.7" font-size="6.6" fill="#666">06:22</text>
<use href="#suns" x="402.7" y="523.8"/>
<text x="410" y="526.7" font-size="6.6" fill="#666">17:23</text>
<rect x="712" y="515.2" width="8.6" height="1.3" fill="#666"/>
<rect x="712" y="517.8" width="8.6" height="1.3" fill="#666"/>
<rect x="712" y="520.4" width="8.6" height="1.3" fill="#666"/>
<rect x="726.6" y="515.2" width="8.6" height="1.3" fill="#666"/>
<rect x="726.6" y="517.8" width="8.6" height="1.3" fill="#666"/>
<rect x="726.6" y="520.4" width="8.6" height="1.3" fill="#666"/>
<g stroke="#f2f2f2" stroke-width="0.75"><line x1="10.95" y1="555.6" x2="10.95" y2="727.9"/><line x1="14.14" y1="555.6" x2="14.14" y2="727.9"/><line x1="17.34" y1="555.6" x2="17.34" y2="727.9"/><line x1="20.53" y1="555.6" x2="20.53" y2="727.9"/><line x1="23.72" y1="555.6" x2="23.72" y2="727.9"/><line x1="26.91" y1="555.6" x2="26.91" y2="727.9"/><line x1="30.11" y1="555.6" x2="30.11" y2="727.9"/><line x1="33.3" y1="555.6" x2="33.3" y2="727.9"/><line x1="36.49" y1="555.6" x2="36.49" y2="727.9"/><line x1="39.68" y1="555.6" x2="39.68" y2="727.9"/><line x1="42.88" y1="555.6" x2="42.88" y2="727.9"/><line x1="46.07" y1="555.6" x2="46.07" y2="727.9"/><line x1="49.26" y1="555.6" x2="49.26" y2="727.9"/><line x1="52.45" y1="555.6" x2="52.45" y2="727.9"/><line x1="55.65" y1="555.6" x2="55.65" y2="727.9"/><line x1="58.84" y1="555.6" x2="58.84" y2="727.9"/><line x1="62.03" y1="555.6" x2="62.03" y2="727.9"/><line x1="65.22" y1="555.6" x2="65.22" y2="727.9"/><line x1="68.42" y1="555.6" x2="68.42" y2="727.9"/><line x1="71.61" y1="555.6" x2="71.61" y2="727.9"/><line x1="74.8" y1="555.6" x2="74.8" y2="727.9"/><line x1="78" y1="555.6" x2="78" y2="727.9"/><line x1="81.19" y1="555.6" x2="81.19" y2="727.9"/><line x1="84.38" y1="555.6" x2="84.38" y2="727.9"/><line x1="87.57" y1="555.6" x2="87.57" y2="727.9"/><line x1="90.76" y1="555.6" x2="90.76" y2="727.9"/><line x1="93.96" y1="555.6" x2="93.96" y2="727.9"/><line x1="97.15" y1="555.6" x2="97.15" y2="727.9"/><line x1="100.34" y1="555.6" x2="100.34" y2="727.9"/><line x1="103.53" y1="555.6" x2="103.53" y2="727.9"/><line x1="106.73" y1="555.6" x2="106.73" y2="727.9"/><line x1="109.92" y1="555.6" x2="109.92" y2="727.9"/><line x1="113.11" y1="555.6" x2="113.11" y2="727.9"/><line x1="116.3" y1="555.6" x2="116.3" y2="727.9"/><line x1="119.5" y1="555.6" x2="119.5" y2="727.9"/><line x1="122.69" y1="555.6" x2="122.69" y2="727.9"/><line x1="125.88" y1="555.6" x2="125.88" y2="727.9"/><line x1="129.07" y1="555.6" x2="129.07" y2="727.9"/><line x1="132.27" y1="555.6" x2="132.27" y2="727.9"/><line x1="135.46" y1="555.6" x2="135.46" y2="727.9"/><line x1="138.65" y1="555.6" x2="138.65" y2="727.9"/><line x1="141.84" y1="555.6" x2="141.84" y2="727.9"/><line x1="145.04" y1="555.6" x2="145.04" y2="727.9"/><line x1="148.23" y1="555.6" x2="148.23" y2="727.9"/><line x1="151.42" y1="555.6" x2="151.42" y2="727.9"/><line x1="154.62" y1="555.6" x2="154.62" y2="727.9"/><line x1="157.81" y1="555.6" x2="157.81" y2="727.9"/><line x1="161" y1="555.6" x2="161" y2="727.9"/><line x1="164.19" y1="555.6" x2="164.19" y2="727.9"/><line x1="167.38" y1="555.6" x2="167.38" y2="727.9"/><line x1="170.58" y1="555.6" x2="170.58" y2="727.9"/><line x1="173.77" y1="555.6" x2="173.77" y2="727.9"/><line x1="176.96" y1="555.6" x2="176.96" y2="727.9"/><line x1="180.15" y1="555.6" x2="180.15" y2="727.9"/><line x1="183.35" y1="555.6" x2="183.35" y2="727.9"/><line x1="186.54" y1="555.6" x2="186.54" y2="727.9"/><line x1="189.73" y1="555.6" x2="189.73" y2="727.9"/><line x1="192.93" y1="555.6" x2="192.93" y2="727.9"/><line x1="196.12" y1="555.6" x2="196.12" y2="727.9"/><line x1="199.31" y1="555.6" x2="199.31" y2="727.9"/><line x1="202.5" y1="555.6" x2="202.5" y2="727.9"/><line x1="205.69" y1="555.6" x2="205.69" y2="727.9"/><line x1="208.89" y1="555.6" x2="208.89" y2="727.9"/><line x1="212.08" y1="555.6" x2="212.08" y2="727.9"/><line x1="215.27" y1="555.6" x2="215.27" y2="727.9"/><line x1="218.46" y1="555.6" x2="218.46" y2="727.9"/><line x1="221.66" y1="555.6" x2="221.66" y2="727.9"/><line x1="224.85" y1="555.6" x2="224.85" y2="727.9"/><line x1="228.04" y1="555.6" x2="228.04" y2="727.9"/><line x1="231.23" y1="555.6" x2="231.23" y2="727.9"/><line x1="234.43" y1="555.6" x2="234.43" y2="727.9"/><line x1="237.62" y1="555.6" x2="237.62" y2="727.9"/><line x1="240.81" y1="555.6" x2="240.81" y2="727.9"/><line x1="244" y1="555.6" x2="244" y2="727.9"/><line x1="247.2" y1="555.6" x2="247.2" y2="727.9"/><line x1="250.39" y1="555.6" x2="250.39" y2="727.9"/><line x1="253.58" y1="555.6" x2="253.58" y2="727.9"/><line x1="256.77" y1="555.6" x2="256.77" y2="727.9"/><line x1="259.97" y1="555.6" x2="259.97" y2="727.9"/><line x1="263.16" y1="555.6" x2="263.16" y2="727.9"/><line x1="266.35" y1="555.6" x2="266.35" y2="727.9"/><line x1="269.55" y1="555.6" x2="269.55" y2="727.9"/><line x1="272.74" y1="555.6" x2="272.74" y2="727.9"/><line x1="275.93" y1="555.6" x2="275.93" y2="727.9"/><line x1="279.12" y1="555.6" x2="279.12" y2="727.9"/><line x1="282.31" y1="555.6" x2="282.31" y2="727.9"/><line x1="285.51" y1="555.6" x2="285.51" y2="727.9"/><line x1="288.7" y1="555.6" x2="288.7" y2="727.9"/><line x1="291.89" y1="555.6" x2="291.89" y2="727.9"/><line x1="295.09" y1="555.6" x2="295.09" y2="727.9"/><line x1="298.28" y1="555.6" x2="298.28" y2="727.9"/><line x1="301.47" y1="555.6" x2="301.47" y2="727.9"/><line x1="304.66" y1="555.6" x2="304.66" y2="727.9"/><line x1="307.86" y1="555.6" x2="307.86" y2="727.9"/><line x1="311.05" y1="555.6" x2="311.05" y2="727.9"/><line x1="314.24" y1="555.6" x2="314.24" y2="727.9"/><line x1="317.43" y1="555.6" x2="317.43" y2="727.9"/><line x1="320.62" y1="555.6" x2="320.62" y2="727.9"/><line x1="323.82" y1="555.6" x2="323.82" y2="727.9"/><line x1="327.01" y1="555.6" x2="327.01" y2="727.9"/><line x1="330.2" y1="555.6" x2="330.2" y2="727.9"/><line x1="333.39" y1="555.6" x2="333.39" y2="727.9"/><line x1="336.59" y1="555.6" x2="336.59" y2="727.9"/><line x1="339.78" y1="555.6" x2="339.78" y2="727.9"/><line x1="342.97" y1="555.6" x2="342.97" y2="727.9"/><line x1="346.16" y1="555.6" x2="346.16" y2="727.9"/><line x1="349.36" y1="555.6" x2="349.36" y2="727.9"/><line x1="352.55" y1="555.6" x2="352.55" y2="727.9"/><line x1="355.74" y1="555.6" x2="355.74" y2="727.9"/><line x1="358.94" y1="555.6" x2="358.94" y2="727.9"/><line x1="362.13" y1="555.6" x2="362.13" y2="727.9"/><line x1="365.32" y1="555.6" x2="365.32" y2="727.9"/><line x1="368.51" y1="555.6" x2="368.51" y2="727.9"/><line x1="371.7" y1="555.6" x2="371.7" y2="727.9"/><line x1="374.9" y1="555.6" x2="374.9" y2="727.9"/><line x1="378.09" y1="555.6" x2="378.09" y2="727.9"/><line x1="381.28" y1="555.6" x2="381.28" y2="727.9"/><line x1="384.47" y1="555.6" x2="384.47" y2="727.9"/><line x1="387.67" y1="555.6" x2="387.67" y2="727.9"/><line x1="390.86" y1="555.6" x2="390.86" y2="727.9"/><line x1="394.05" y1="555.6" x2="394.05" y2="727.9"/><line x1="397.25" y1="555.6" x2="397.25" y2="727.9"/><line x1="400.44" y1="555.6" x2="400.44" y2="727.9"/><line x1="403.63" y1="555.6" x2="403.63" y2="727.9"/><line x1="406.82" y1="555.6" x2="406.82" y2="727.9"/><line x1="410.01" y1="555.6" x2="410.01" y2="727.9"/><line x1="413.21" y1="555.6" x2="413.21" y2="727.9"/><line x1="416.4" y1="555.6" x2="416.4" y2="727.9"/><line x1="419.59" y1="555.6" x2="419.59" y2="727.9"/><line x1="422.78" y1="555.6" x2="422.78" y2="727.9"/><line x1="425.98" y1="555.6" x2="425.98" y2="727.9"/><line x1="429.17" y1="555.6" x2="429.17" y2="727.9"/><line x1="432.36" y1="555.6" x2="432.36" y2="727.9"/><line x1="435.55" y1="555.6" x2="435.55" y2="727.9"/><line x1="438.75" y1="555.6" x2="438.75" y2="727.9"/><line x1="441.94" y1="555.6" x2="441.94" y2="727.9"/><line x1="445.13" y1="555.6" x2="445.13" y2="727.9"/><line x1="448.33" y1="555.6" x2="448.33" y2="727.9"/><line x1="451.52" y1="555.6" x2="451.52" y2="727.9"/><line x1="454.71" y1="555.6" x2="454.71" y2="727.9"/><line x1="457.9" y1="555.6" x2="457.9" y2="727.9"/><line x1="461.1" y1="555.6" x2="461.1" y2="727.9"/><line x1="464.29" y1="555.6" x2="464.29" y2="727.9"/><line x1="467.48" y1="555.6" x2="467.48" y2="727.9"/><line x1="470.67" y1="555.6" x2="470.67" y2="727.9"/><line x1="473.87" y1="555.6" x2="473.87" y2="727.9"/><line x1="477.06" y1="555.6" x2="477.06" y2="727.9"/><line x1="480.25" y1="555.6" x2="480.25" y2="727.9"/><line x1="483.44" y1="555.6" x2="483.44" y2="727.9"/><line x1="486.63" y1="555.6" x2="486.63" y2="727.9"/><line x1="489.83" y1="555.6" x2="489.83" y2="727.9"/><line x1="493.02" y1="555.6" x2="493.02" y2="727.9"/><line x1="496.21" y1="555.6" x2="496.21" y2="727.9"/><line x1="499.41" y1="555.6" x2="499.41" y2="727.9"/><line x1="502.6" y1="555.6" x2="502.6" y2="727.9"/><line x1="505.79" y1="555.6" x2="505.79" y2="727.9"/><line x1="508.98" y1="555.6" x2="508.98" y2="727.9"/><line x1="512.17" y1="555.6" x2="512.17" y2="727.9"/><line x1="515.37" y1="555.6" x2="515.37" y2="727.9"/><line x1="518.56" y1="555.6" x2="518.56" y2="727.9"/><line x1="521.75" y1="555.6" x2="521.75" y2="727.9"/><line x1="524.94" y1="555.6" x2="524.94" y2="727.9"/><line x1="528.14" y1="555.6" x2="528.14" y2="727.9"/><line x1="531.33" y1="555.6" x2="531.33" y2="727.9"/><line x1="534.52" y1="555.6" x2="534.52" y2="727.9"/><line x1="537.71" y1="555.6" x2="537.71" y2="727.9"/><line x1="540.91" y1="555.6" x2="540.91" y2="727.9"/><line x1="544.1" y1="555.6" x2="544.1" y2="727.9"/><line x1="547.29" y1="555.6" x2="547.29" y2="727.9"/><line x1="550.48" y1="555.6" x2="550.48" y2="727.9"/><line x1="553.68" y1="555.6" x2="553.68" y2="727.9"/><line x1="556.87" y1="555.6" x2="556.87" y2="727.9"/><line x1="560.06" y1="555.6" x2="560.06" y2="727.9"/><line x1="563.25" y1="555.6" x2="563.25" y2="727.9"/><line x1="566.45" y1="555.6" x2="566.45" y2="727.9"/><line x1="569.64" y1="555.6" x2="569.64" y2="727.9"/><line x1="572.83" y1="555.6" x2="572.83" y2="727.9"/><line x1="576.02" y1="555.6" x2="576.02" y2="727.9"/><line x1="579.22" y1="555.6" x2="579.22" y2="727.9"/><line x1="582.41" y1="555.6" x2="582.41" y2="727.9"/><line x1="585.6" y1="555.6" x2="585.6" y2="727.9"/><line x1="588.79" y1="555.6" x2="588.79" y2="727.9"/><line x1="591.99" y1="555.6" x2="591.99" y2="727.9"/><line x1="595.18" y1="555.6" x2="595.18" y2="727.9"/><line x1="598.37" y1="555.6" x2="598.37" y2="727.9"/><line x1="601.56" y1="555.6" x2="601.56" y2="727.9"/><line x1="604.76" y1="555.6" x2="604.76" y2="727.9"/><line x1="607.95" y1="555.6" x2="607.95" y2="727.9"/><line x1="611.14" y1="555.6" x2="611.14" y2="727.9"/><line x1="614.33" y1="555.6" x2="614.33" y2="727.9"/><line x1="617.53" y1="555.6" x2="617.53" y2="727.9"/><line x1="620.72" y1="555.6" x2="620.72" y2="727.9"/><line x1="623.91" y1="555.6" x2="623.91" y2="727.9"/><line x1="627.1" y1="555.6" x2="627.1" y2="727.9"/><line x1="630.3" y1="555.6" x2="630.3" y2="727.9"/><line x1="633.49" y1="555.6" x2="633.49" y2="727.9"/><line x1="636.68" y1="555.6" x2="636.68" y2="727.9"/><line x1="639.87" y1="555.6" x2="639.87" y2="727.9"/><line x1="643.07" y1="555.6" x2="643.07" y2="727.9"/><line x1="646.26" y1="555.6" x2="646.26" y2="727.9"/><line x1="649.45" y1="555.6" x2="649.45" y2="727.9"/><line x1="652.64" y1="555.6" x2="652.64" y2="727.9"/><line x1="655.84" y1="555.6" x2="655.84" y2="727.9"/><line x1="659.03" y1="555.6" x2="659.03" y2="727.9"/><line x1="662.22" y1="555.6" x2="662.22" y2="727.9"/><line x1="665.41" y1="555.6" x2="665.41" y2="727.9"/><line x1="668.61" y1="555.6" x2="668.61" y2="727.9"/><line x1="671.8" y1="555.6" x2="671.8" y2="727.9"/><line x1="674.99" y1="555.6" x2="674.99" y2="727.9"/><line x1="678.18" y1="555.6" x2="678.18" y2="727.9"/><line x1="681.38" y1="555.6" x2="681.38" y2="727.9"/><line x1="684.57" y1="555.6" x2="684.57" y2="727.9"/><line x1="687.76" y1="555.6" x2="687.76" y2="727.9"/><line x1="690.95" y1="555.6" x2="690.95" y2="727.9"/><line x1="694.15" y1="555.6" x2="694.15" y2="727.9"/><line x1="697.34" y1="555.6" x2="697.34" y2="727.9"/><line x1="700.53" y1="555.6" x2="700.53" y2="727.9"/><line x1="703.72" y1="555.6" x2="703.72" y2="727.9"/></g>
<g stroke="#efefef" stroke-width="0.8"><line x1="9.2" y1="585.3" x2="706.4" y2="585.3"/><line x1="9.2" y1="614.3" x2="706.4" y2="614.3"/><line x1="9.2" y1="671.3" x2="706.4" y2="671.3"/><line x1="9.2" y1="700" x2="706.4" y2="700"/></g>
<g stroke="#eaeaea" stroke-width="0.8"><line x1="33.3" y1="555.6" x2="33.3" y2="727.9"/><line x1="84.38" y1="555.6" x2="84.38" y2="727.9"/><line x1="135.46" y1="555.6" x2="135.46" y2="727.9"/><line x1="186.54" y1="555.6" x2="186.54" y2="727.9"/><line x1="237.62" y1="555.6" x2="237.62" y2="727.9"/><line x1="288.7" y1="555.6" x2="288.7" y2="727.9"/><line x1="339.78" y1="555.6" x2="339.78" y2="727.9"/><line x1="390.86" y1="555.6" x2="390.86" y2="727.9"/><line x1="441.94" y1="555.6" x2="441.94" y2="727.9"/><line x1="493.02" y1="555.6" x2="493.02" y2="727.9"/><line x1="544.1" y1="555.6" x2="544.1" y2="727.9"/><line x1="595.18" y1="555.6" x2="595.18" y2="727.9"/><line x1="646.26" y1="555.6" x2="646.26" y2="727.9"/><line x1="697.34" y1="555.6" x2="697.34" y2="727.9"/></g>
<g stroke="#d3dcec" stroke-width="0.8"><line x1="33.3" y1="546.1" x2="33.3" y2="555.6"/><line x1="84.38" y1="546.1" x2="84.38" y2="555.6"/><line x1="135.46" y1="546.1" x2="135.46" y2="555.6"/><line x1="186.54" y1="546.1" x2="186.54" y2="555.6"/><line x1="237.62" y1="546.1" x2="237.62" y2="555.6"/><line x1="288.7" y1="546.1" x2="288.7" y2="555.6"/><line x1="339.78" y1="546.1" x2="339.78" y2="555.6"/><line x1="390.86" y1="546.1" x2="390.86" y2="555.6"/><line x1="441.94" y1="546.1" x2="441.94" y2="555.6"/><line x1="493.02" y1="546.1" x2="493.02" y2="555.6"/><line x1="544.1" y1="546.1" x2="544.1" y2="555.6"/><line x1="595.18" y1="546.1" x2="595.18" y2="555.6"/><line x1="646.26" y1="546.1" x2="646.26" y2="555.6"/><line x1="697.34" y1="546.1" x2="697.34" y2="555.6"/></g>
<line x1="9.2" y1="643" x2="706.4" y2="643" stroke="#cfcfcf" stroke-width="1"/>
<line x1="9.2" y1="555.6" x2="706.4" y2="555.6" stroke="#d3dcec" stroke-width="0.9"/>
<line x1="706.4" y1="555.6" x2="706.4" y2="727.9" stroke="#d8dde8" stroke-width="0.8"/>
<line x1="9.2" y1="555.6" x2="9.2" y2="743.1" stroke="#dcdcdc" stroke-width="0.8"/>
<text x="35.5" y="544.6" font-size="6.3" fill="#555"><tspan font-weight="bold" fill="#333">Sun</tspan> Mar 3</text>
<text x="86.58" y="544.6" font-size="6.3" fill="#555"><tspan font-weight="bold" fill="#333">Mon</tspan> Mar 4</text>
<text x="137.66" y="544.6" font-size="6.3" fill="#555"><tspan font-weight="bold" fill="#333">Tue</tspan> Mar 5</text>
<text x="188.74" y="544.6" font-size="6.3" fill="#555"><tspan font-weight="bold" fill="#333">Wed</tspan> Mar 6</text>
<text x="239.82" y="544.6" font-size="6.3" fill="#555"><tspan font-weight="bold" fill="#333">Thu</tspan> Mar 7</text>
<text x="290.9" y="544.6" font-size="6.3" fill="#555"><tspan font-weight="bold" fill="#333">Fri</tspan> Mar 8</text>
<text x="341.98" y="544.6" font-size="6.3" fill="#555"><tspan font-weight="bold" fill="#333">Sat</tspan> Mar 9</text>
<text x="393.06" y="544.6" font-size="6.3" fill="#555"><tspan font-weight="bold" fill="#333">Sun</tspan> Mar 10</text>
<text x="444.14" y="544.6" font-size="6.3" fill="#555"><tspan font-weight="bold" fill="#333">Mon</tspan> Mar 11</text>
<text x="495.22" y="544.6" font-size="6.3" fill="#555"><tspan font-weight="bold" fill="#333">Tue</tspan> Mar 12</text>
<text x="546.3" y="544.6" font-size="6.3" fill="#555"><tspan font-weight="bold" fill="#333">Wed</tspan> Mar 13</text>
<text x="597.38" y="544.6" font-size="6.3" fill="#555"><tspan font-weight="bold" fill="#333">Thu</tspan> Mar 14</text>
<text x="648.46" y="544.6" font-size="6.3" fill="#555"><tspan font-weight="bold" fill="#333">Fri</tspan> Mar 15</text>
<text x="699.54" y="544.6" font-size="6.3" fill="#555"><tspan font-weight="bold" fill="#333">Sat</tspan> Mar...</text>
<text x="8.2" y="557.7" text-anchor="end" font-size="5.9" fill="#666">15°</text>
<text x="8.2" y="587.4" text-anchor="end" font-size="5.9" fill="#666">10°</text>
<text x="8.2" y="616.4" text-anchor="end" font-size="5.9" fill="#666">5°</text>
<text x="8.2" y="645.1" text-anchor="end" font-size="5.9" fill="#666">0°</text>
<text x="8.2" y="673.4" text-anchor="end" font-size="5.9" fill="#666">-5°</text>
<text x="8.2" y="702.1" text-anchor="end" font-size="5.9" fill="#666">-10°</text>
<text x="8.2" y="730" text-anchor="end" font-size="5.9" fill="#666">-15°</text>
<text x="714.3" y="730.1" font-size="6.1" fill="#666">0</text>
<text x="714.3" y="695.64" font-size="6.1" fill="#666">1.2</text>
<text x="714.3" y="661.18" font-size="6.1" fill="#666">2.4</text>
<text x="714.3" y="626.72" font-size="6.1" fill="#666">3.6</text>
<text x="714.3" y="592.26" font-size="6.1" fill="#666">4.8</text>
<text x="714.3" y="557.8" font-size="6.1" fill="#666">6</text>
<text transform="translate(724.9,641.75) rotate(90)" text-anchor="middle" font-size="6.8" fill="#808080">Precipitation (mm)</text>
<g fill="#4682b4" shape-rendering="crispEdges"><rect x="29.04" y="726.8" width="6.48" height="1.1"/><rect x="163.13" y="722.8" width="6.48" height="5.1"/><rect x="169.51" y="717.9" width="6.48" height="10"/><rect x="175.9" y="726.8" width="6.48" height="1.1"/><rect x="226.98" y="698.2" width="6.48" height="29.7"/><rect x="252.52" y="727" width="6.48" height="0.9"/><rect x="258.9" y="725" width="6.48" height="2.9"/><rect x="309.98" y="727" width="6.48" height="0.9"/><rect x="316.37" y="726.5" width="6.48" height="1.4"/><rect x="431.3" y="723.3" width="6.48" height="4.6"/><rect x="437.68" y="614.1" width="6.48" height="113.8"/><rect x="444.07" y="653.1" width="6.48" height="74.8"/><rect x="450.45" y="679.9" width="6.48" height="48"/><rect x="456.84" y="726.8" width="6.48" height="1.1"/><rect x="463.22" y="717.7" width="6.48" height="10.2"/><rect x="469.61" y="721.2" width="6.48" height="6.7"/><rect x="475.99" y="717.9" width="6.48" height="10"/><rect x="482.38" y="701.4" width="6.48" height="26.5"/><rect x="488.76" y="714.1" width="6.48" height="13.8"/><rect x="495.15" y="724.8" width="6.48" height="3.1"/><rect x="546.23" y="727" width="6.48" height="0.9"/><rect x="552.61" y="725" width="6.48" height="2.9"/><rect x="559" y="716" width="6.48" height="11.9"/><rect x="565.38" y="713.9" width="6.48" height="14"/><rect x="571.77" y="693.8" width="6.48" height="34.1"/><rect x="578.15" y="703.3" width="6.48" height="24.6"/><rect x="584.54" y="703.3" width="6.48" height="24.6"/><rect x="590.92" y="692.8" width="6.48" height="35.1"/><rect x="597.31" y="687.1" width="6.48" height="40.8"/><rect x="603.69" y="703.3" width="6.48" height="24.6"/><rect x="610.08" y="692" width="6.48" height="35.9"/><rect x="616.46" y="716" width="6.48" height="11.9"/><rect x="622.85" y="713.9" width="6.48" height="14"/><rect x="629.23" y="703.3" width="6.48" height="24.6"/><rect x="635.62" y="721.3" width="6.48" height="6.6"/><rect x="648.39" y="726.7" width="6.48" height="1.2"/><rect x="667.54" y="726.7" width="6.48" height="1.2"/></g>
<path d="M12.4,603.9 C14.33,605.1 16.27,606.47 18.2,607.5 C20.37,608.65 22.53,610.5 24.7,610.5 C29.1,610.5 33.5,610.5 37.9,610.5 C40.1,610.5 42.3,614.55 44.5,615.4 C46.67,616.24 48.83,617.1 51,617.1 C53.2,617.1 55.4,614.48 57.6,613.3 C60.9,611.53 64.2,609.73 67.5,608.4 C70.23,607.3 72.97,605.6 75.7,605.6 C78.43,605.6 81.17,606.25 83.9,606.7 C87.2,607.25 90.5,608.02 93.8,608.9 C96.53,609.63 99.27,610.9 102,611.6 C104.73,612.3 107.47,613.3 110.2,613.3 C112.4,613.3 114.6,612.81 116.8,612.5 C120.07,612.04 123.33,610.8 126.6,610.8 C129.87,610.8 133.13,613.69 136.4,614.9 C139.7,616.12 143,618.2 146.3,618.2 C148.5,618.2 150.7,617.87 152.9,617.4 C155.1,616.93 157.3,611.2 159.5,611.2 C160.57,611.2 161.63,614.21 162.7,615.8 C164.1,617.88 165.5,622.3 166.9,622.3 C168.8,622.3 170.7,617.02 172.6,616.6 C174.8,616.12 177,615.8 179.2,615.8 C182.47,615.8 185.73,616.53 189,617.1 C193.4,617.87 197.8,618.48 202.2,620.7 C203.83,621.52 205.47,625.28 207.1,627.3 C208.77,629.36 210.43,632.33 212.1,633 C215.37,634.32 218.63,635.2 221.9,635.2 C224.63,635.2 227.37,630.2 230.1,630.2 C231.77,630.2 233.43,638.67 235.1,639.6 C236.73,640.51 238.37,641.2 240,641.2 C242.17,641.2 244.33,641.2 246.5,641.2 C248.13,641.2 249.77,637.59 251.4,635.5 C252.77,633.75 254.13,629.7 255.5,629.7 C257.43,629.7 259.37,631.75 261.3,633 C263.5,634.43 265.7,637.84 267.9,638 C270.67,638.2 273.43,638.09 276.2,638.3 C277.43,638.39 278.67,639.57 279.9,640.4 C281.13,641.23 282.37,642.23 283.6,643.5 C284.83,644.77 286.07,647.33 287.3,648.4 C288.93,649.82 290.57,651.5 292.2,651.5 C294.27,651.5 296.33,651.5 298.4,651.5 C300.43,651.5 302.47,650.67 304.5,649.7 C305.73,649.11 306.97,647.6 308.2,646 C309.03,644.92 309.87,642.87 310.7,641.6 C311.93,639.72 313.17,637.32 314.4,636.7 C316.87,635.46 319.33,634.82 321.8,634.6 C324.27,634.38 326.73,634.2 329.2,634.2 C331.67,634.2 334.13,634.91 336.6,635.5 C339.07,636.09 341.53,637.41 344,638.3 C346.03,639.03 348.07,639.64 350.1,640.4 C352.17,641.17 354.23,642.1 356.3,642.9 C358.2,643.63 360.1,644.41 362,645 C365.03,645.94 368.07,647.4 371.1,647.4 C373.43,647.4 375.77,646.78 378.1,646 C379.87,645.41 381.63,641.3 383.4,641.3 C385.73,641.3 388.07,641.71 390.4,642.2 C392.17,642.57 393.93,643.71 395.7,644.8 C398.63,646.62 401.57,650.79 404.5,652.7 C408,654.98 411.5,658 415,658 C417.33,658 419.67,654.97 422,652.7 C424.37,650.4 426.73,646.75 429.1,643 C430.83,640.26 432.57,636.73 434.3,633.4 C436.07,630.01 437.83,622.8 439.6,622.8 C442.53,622.8 445.47,623.3 448.4,623.7 C451.9,624.18 455.4,626 458.9,626 C460.93,626 462.97,624.5 465,624.5 C467.73,624.5 470.47,624.98 473.2,625.6 C475.93,626.22 478.67,629.71 481.4,631.5 C484.17,633.31 486.93,633.9 489.7,636.5 C491.07,637.79 492.43,640.96 493.8,643.5 C494.87,645.49 495.93,646.97 497,650 C497.83,652.37 498.67,658.77 499.5,661.2 C501.7,667.62 503.9,671.37 506.1,674.3 C508.3,677.23 510.5,679.95 512.7,680.9 C514.6,681.72 516.5,682.5 518.4,682.5 C520.87,682.5 523.33,678.32 525.8,676 C527.47,674.43 529.13,671 530.8,671 C532.43,671 534.07,676.4 535.7,679.2 C537.9,682.97 540.1,688.76 542.3,690.8 C544.47,692.81 546.63,694.9 548.8,694.9 C551,694.9 553.2,694.23 555.4,693.2 C557.03,692.43 558.67,687.9 560.3,684.2 C561.97,680.42 563.63,673.68 565.3,669.4 C567.5,663.75 569.7,657.41 571.9,654.6 C574.07,651.84 576.23,649.92 578.4,648.8 C580.6,647.66 582.8,646.9 585,646.4 C586.77,646 588.53,645.57 590.3,645.5 C597.83,645.21 605.37,645.1 612.9,645.1 C615.3,645.1 617.7,648 620.1,648 C621.8,648 623.5,640.38 625.2,639.4 C627.27,638.21 629.33,637.3 631.4,637.3 C633.43,637.3 635.47,640.11 637.5,642.5 C638.87,644.1 640.23,649.07 641.6,649.7 C644.37,650.98 647.13,651.01 649.9,651.7 C652.63,652.38 655.37,652.76 658.1,653.8 C660.13,654.57 662.17,657.9 664.2,657.9 C666.27,657.9 668.33,653.14 670.4,651.7 C674.5,648.85 678.6,645.5 682.7,645.5 C684.07,645.5 685.43,645.5 686.8,645.5 C688.2,645.5 689.6,655.28 691,655.8 C695.1,657.33 699.2,657.2 703.3,657.9" fill="none" stroke="#bf9090" stroke-width="0.9" stroke-dasharray="0.9 1.5" clip-path="url(#ab3)"/>
<path d="M12.4,603.9 C14.33,605.1 16.27,606.47 18.2,607.5 C20.37,608.65 22.53,610.5 24.7,610.5 C29.1,610.5 33.5,610.5 37.9,610.5 C40.1,610.5 42.3,614.55 44.5,615.4 C46.67,616.24 48.83,617.1 51,617.1 C53.2,617.1 55.4,614.48 57.6,613.3 C60.9,611.53 64.2,609.73 67.5,608.4 C70.23,607.3 72.97,605.6 75.7,605.6 C78.43,605.6 81.17,606.25 83.9,606.7 C87.2,607.25 90.5,608.02 93.8,608.9 C96.53,609.63 99.27,610.9 102,611.6 C104.73,612.3 107.47,613.3 110.2,613.3 C112.4,613.3 114.6,612.81 116.8,612.5 C120.07,612.04 123.33,610.8 126.6,610.8 C129.87,610.8 133.13,613.69 136.4,614.9 C139.7,616.12 143,618.2 146.3,618.2 C148.5,618.2 150.7,617.87 152.9,617.4 C155.1,616.93 157.3,611.2 159.5,611.2 C160.57,611.2 161.63,614.21 162.7,615.8 C164.1,617.88 165.5,622.3 166.9,622.3 C168.8,622.3 170.7,617.02 172.6,616.6 C174.8,616.12 177,615.8 179.2,615.8 C182.47,615.8 185.73,616.53 189,617.1 C193.4,617.87 197.8,618.48 202.2,620.7 C203.83,621.52 205.47,625.28 207.1,627.3 C208.77,629.36 210.43,632.33 212.1,633 C215.37,634.32 218.63,635.2 221.9,635.2 C224.63,635.2 227.37,630.2 230.1,630.2 C231.77,630.2 233.43,638.67 235.1,639.6 C236.73,640.51 238.37,641.2 240,641.2 C242.17,641.2 244.33,641.2 246.5,641.2 C248.13,641.2 249.77,637.59 251.4,635.5 C252.77,633.75 254.13,629.7 255.5,629.7 C257.43,629.7 259.37,631.75 261.3,633 C263.5,634.43 265.7,637.84 267.9,638 C270.67,638.2 273.43,638.09 276.2,638.3 C277.43,638.39 278.67,639.57 279.9,640.4 C281.13,641.23 282.37,642.23 283.6,643.5 C284.83,644.77 286.07,647.33 287.3,648.4 C288.93,649.82 290.57,651.5 292.2,651.5 C294.27,651.5 296.33,651.5 298.4,651.5 C300.43,651.5 302.47,650.67 304.5,649.7 C305.73,649.11 306.97,647.6 308.2,646 C309.03,644.92 309.87,642.87 310.7,641.6 C311.93,639.72 313.17,637.32 314.4,636.7 C316.87,635.46 319.33,634.82 321.8,634.6 C324.27,634.38 326.73,634.2 329.2,634.2 C331.67,634.2 334.13,634.91 336.6,635.5 C339.07,636.09 341.53,637.41 344,638.3 C346.03,639.03 348.07,639.64 350.1,640.4 C352.17,641.17 354.23,642.1 356.3,642.9 C358.2,643.63 360.1,644.41 362,645 C365.03,645.94 368.07,647.4 371.1,647.4 C373.43,647.4 375.77,646.78 378.1,646 C379.87,645.41 381.63,641.3 383.4,641.3 C385.73,641.3 388.07,641.71 390.4,642.2 C392.17,642.57 393.93,643.71 395.7,644.8 C398.63,646.62 401.57,650.79 404.5,652.7 C408,654.98 411.5,658 415,658 C417.33,658 419.67,654.97 422,652.7 C424.37,650.4 426.73,646.75 429.1,643 C430.83,640.26 432.57,636.73 434.3,633.4 C436.07,630.01 437.83,622.8 439.6,622.8 C442.53,622.8 445.47,623.3 448.4,623.7 C451.9,624.18 455.4,626 458.9,626 C460.93,626 462.97,624.5 465,624.5 C467.73,624.5 470.47,624.98 473.2,625.6 C475.93,626.22 478.67,629.71 481.4,631.5 C484.17,633.31 486.93,633.9 489.7,636.5 C491.07,637.79 492.43,640.96 493.8,643.5 C494.87,645.49 495.93,646.97 497,650 C497.83,652.37 498.67,658.77 499.5,661.2 C501.7,667.62 503.9,671.37 506.1,674.3 C508.3,677.23 510.5,679.95 512.7,680.9 C514.6,681.72 516.5,682.5 518.4,682.5 C520.87,682.5 523.33,678.32 525.8,676 C527.47,674.43 529.13,671 530.8,671 C532.43,671 534.07,676.4 535.7,679.2 C537.9,682.97 540.1,688.76 542.3,690.8 C544.47,692.81 546.63,694.9 548.8,694.9 C551,694.9 553.2,694.23 555.4,693.2 C557.03,692.43 558.67,687.9 560.3,684.2 C561.97,680.42 563.63,673.68 565.3,669.4 C567.5,663.75 569.7,657.41 571.9,654.6 C574.07,651.84 576.23,649.92 578.4,648.8 C580.6,647.66 582.8,646.9 585,646.4 C586.77,646 588.53,645.57 590.3,645.5 C597.83,645.21 605.37,645.1 612.9,645.1 C615.3,645.1 617.7,648 620.1,648 C621.8,648 623.5,640.38 625.2,639.4 C627.27,638.21 629.33,637.3 631.4,637.3 C633.43,637.3 635.47,640.11 637.5,642.5 C638.87,644.1 640.23,649.07 641.6,649.7 C644.37,650.98 647.13,651.01 649.9,651.7 C652.63,652.38 655.37,652.76 658.1,653.8 C660.13,654.57 662.17,657.9 664.2,657.9 C666.27,657.9 668.33,653.14 670.4,651.7 C674.5,648.85 678.6,645.5 682.7,645.5 C684.07,645.5 685.43,645.5 686.8,645.5 C688.2,645.5 689.6,655.28 691,655.8 C695.1,657.33 699.2,657.2 703.3,657.9" fill="none" stroke="#9dbfe0" stroke-width="0.9" stroke-dasharray="0.9 1.4" clip-path="url(#be3)"/>
<path d="M12.4,597.3 C14.33,598.07 16.27,598.74 18.2,599.6 C20.37,600.56 22.53,602.9 24.7,602.9 C26.9,602.9 29.1,602.9 31.3,602.9 C33.77,602.9 36.23,602.3 38.7,602.3 C39.8,602.3 40.9,605.37 42,606.7 C43.37,608.35 44.73,610.81 46.1,611.2 C48.03,611.75 49.97,612.1 51.9,612.1 C52.97,612.1 54.03,608.96 55.1,606.7 C56.5,603.74 57.9,598.26 59.3,594.4 C60.67,590.63 62.03,584.19 63.4,583.7 C65.87,582.81 68.33,582.4 70.8,582.4 C72.43,582.4 74.07,590.22 75.7,591.1 C77.9,592.28 80.1,592.57 82.3,593.1 C85.03,593.75 87.77,593.94 90.5,594.7 C92.7,595.31 94.9,596.3 97.1,597.7 C98.73,598.74 100.37,602.6 102,602.6 C103.1,602.6 104.2,600.22 105.3,597.7 C106.4,595.18 107.5,584.96 108.6,581.2 C110.23,575.62 111.87,570.05 113.5,568.9 C115.13,567.75 116.77,566.9 118.4,566.9 C119.77,566.9 121.13,567.19 122.5,567.8 C123.3,568.16 124.1,573.3 124.9,576.3 C126,580.42 127.1,587.47 128.2,589.5 C129.87,592.57 131.53,593.67 133.2,595.2 C135.37,597.18 137.53,598.6 139.7,600.1 C141.9,601.62 144.1,604.3 146.3,604.3 C148.77,604.3 151.23,603.91 153.7,602.9 C154.8,602.45 155.9,593.71 157,589.5 C158.37,584.27 159.73,577.17 161.1,574.7 C162.73,571.74 164.37,568.9 166,568.9 C167.67,568.9 169.33,569.54 171,570.5 C172.37,571.28 173.73,575.67 175.1,579.6 C176.2,582.76 177.3,588.93 178.4,592.7 C180.03,598.29 181.67,606.3 183.3,607.2 C185.2,608.25 187.1,608.9 189,608.9 C192.3,608.9 195.6,608.4 198.9,608.4 C201.1,608.4 203.3,610.5 205.5,610.5 C207.7,610.5 209.9,605.3 212.1,602.6 C214.27,599.94 216.43,595.69 218.6,594.4 C220.27,593.41 221.93,592.4 223.6,592.4 C225.23,592.4 226.87,595.48 228.5,597.7 C230.13,599.92 231.77,604.17 233.4,606.7 C234.5,608.41 235.6,610.83 236.7,611.2 C238.33,611.76 239.97,611.88 241.6,612.1 C243.8,612.4 246,612.34 248.2,612.8 C249.27,613.02 250.33,614.61 251.4,615.8 C252.77,617.32 254.13,621.5 255.5,621.5 C256.9,621.5 258.3,615.63 259.7,612.5 C261.33,608.85 262.97,603.45 264.6,601 C265.97,598.95 267.33,596.4 268.7,596.4 C270.33,596.4 271.97,596.93 273.6,597.7 C274.7,598.22 275.8,600.41 276.9,602.6 C278,604.79 279.1,609.22 280.2,612.5 C281.3,615.78 282.4,619.67 283.5,622.3 C284.6,624.93 285.7,628.42 286.8,628.9 C288.7,629.74 290.6,630.2 292.5,630.2 C295.27,630.2 298.03,628 300.8,627.3 C302.97,626.75 305.13,626.82 307.3,626 C308.97,625.37 310.63,618.88 312.3,615.8 C313.93,612.78 315.57,608.06 317.2,607.5 C318.57,607.03 319.93,606.7 321.3,606.7 C322.93,606.7 324.57,607.21 326.2,607.9 C328.13,608.72 330.07,617.1 332,619 C333.63,620.61 335.27,621.21 336.9,622.3 C338.57,623.41 340.23,624.37 341.9,625.6 C343.53,626.81 345.17,628.36 346.8,629.7 C348.17,630.82 349.53,633 350.9,633 C353.33,633 355.77,633 358.2,633 C359.3,633 360.4,625.13 361.5,620.7 C362.87,615.19 364.23,606.05 365.6,602.6 C367.23,598.48 368.87,594.1 370.5,594.1 C372.43,594.1 374.37,595.38 376.3,596.9 C377.67,597.98 379.03,601.43 380.4,604.3 C381.5,606.61 382.6,610.74 383.7,612.5 C385.63,615.59 387.57,616.94 389.5,619 C391.4,621.03 393.3,622.65 395.2,624.8 C397.13,626.99 399.07,631.25 401,632.2 C402.37,632.87 403.73,633.5 405.1,633.5 C406.73,633.5 408.37,633.35 410,633 C411.1,632.76 412.2,619.31 413.3,614.1 C414.67,607.62 416.03,600.94 417.4,597.7 C418.77,594.46 420.13,590.8 421.5,590.8 C423.13,590.8 424.77,590.91 426.4,591.1 C427.8,591.26 429.2,592.68 430.6,594.4 C431.67,595.71 432.73,600.2 433.8,602.6 C434.9,605.07 436,607.57 437.1,609.2 C438.77,611.67 440.43,613.92 442.1,614.9 C444.27,616.17 446.43,616.57 448.6,617.4 C450.8,618.24 453,619.13 455.2,619.9 C456.83,620.47 458.47,621.5 460.1,621.5 C461.77,621.5 463.43,619.4 465.1,619.4 C467.27,619.4 469.43,619.86 471.6,620.4 C473.8,620.95 476,623.12 478.2,624.8 C480.37,626.45 482.53,630.13 484.7,630.6 C487.47,631.21 490.23,631.01 493,631.6 C495.17,632.06 497.33,634.32 499.5,636.5 C500.87,637.88 502.23,640.89 503.6,642.3 C504.43,643.16 505.27,643.92 506.1,644.4 C507.73,645.33 509.37,646.4 511,646.4 C511.83,646.4 512.67,645.15 513.5,643.9 C514.33,642.65 515.17,638.96 516,636.5 C516.67,634.53 517.33,632.55 518,630.6 C519.23,626.99 520.47,621.03 521.7,619.9 C523.07,618.65 524.43,617.7 525.8,617.7 C527.17,617.7 528.53,619.02 529.9,620.7 C530.47,621.4 531.03,623.25 531.6,625 C532.4,627.47 533.2,632.54 534,634.9 C535.1,638.15 536.2,641.42 537.3,642.3 C538.4,643.18 539.5,643.43 540.6,643.9 C543.63,645.19 546.67,647.2 549.7,647.2 C552.17,647.2 554.63,644.7 557.1,644.7 C559.27,644.7 561.43,645.52 563.6,646.4 C565.27,647.08 566.93,650.5 568.6,650.5 C570.23,650.5 571.87,645.46 573.5,643.9 C574.6,642.85 575.7,641.53 576.8,641.4 C577.87,641.28 578.93,641.2 580,641.2 C581.37,641.2 582.73,642.48 584.1,643.1 C585.13,643.57 586.17,644.5 587.2,644.5 C591.47,644.5 595.73,644.5 600,644.5 C604.63,644.5 609.27,644.5 613.9,644.5 C615.27,644.5 616.63,638.83 618,637.3 C619.7,635.4 621.4,633.67 623.1,633.2 C625.17,632.63 627.23,632.2 629.3,632.2 C630.67,632.2 632.03,633.78 633.4,635.3 C634.43,636.45 635.47,639.35 636.5,641.4 C637.53,643.45 638.57,645.38 639.6,647.6 C640.63,649.82 641.67,652.68 642.7,654.8 C643.7,656.85 644.7,660.3 645.7,660.3 C646.73,660.3 647.77,653.83 648.8,651.7 C649.83,649.57 650.87,646.6 651.9,646.6 C654.3,646.6 656.7,648.43 659.1,649.2 C660.8,649.75 662.5,650.7 664.2,650.7 C665.6,650.7 667,647.18 668.4,643.5 C669,641.92 669.6,637.3 670.2,635.5 C671.3,632.2 672.4,629.6 673.5,628.4 C674.97,626.8 676.43,625.3 677.9,625.3 C679.7,625.3 681.5,625.59 683.3,626.2 C684.2,626.51 685.1,629.1 686,631.9 C686.57,633.66 687.13,638.44 687.7,640.8 C688.3,643.3 688.9,645.41 689.5,647 C690.17,648.77 690.83,650.96 691.5,651.3 C693.37,652.26 695.23,652.11 697.1,652.7 C699.17,653.35 701.23,654.5 703.3,655.4" fill="none" stroke="#ff3b3b" stroke-width="1.3" stroke-linejoin="round" clip-path="url(#ab3)"/>
<path d="M12.4,597.3 C14.33,598.07 16.27,598.74 18.2,599.6 C20.37,600.56 22.53,602.9 24.7,602.9 C26.9,602.9 29.1,602.9 31.3,602.9 C33.77,602.9 36.23,602.3 38.7,602.3 C39.8,602.3 40.9,605.37 42,606.7 C43.37,608.35 44.73,610.81 46.1,611.2 C48.03,611.75 49.97,612.1 51.9,612.1 C52.97,612.1 54.03,608.96 55.1,606.7 C56.5,603.74 57.9,598.26 59.3,594.4 C60.67,590.63 62.03,584.19 63.4,583.7 C65.87,582.81 68.33,582.4 70.8,582.4 C72.43,582.4 74.07,590.22 75.7,591.1 C77.9,592.28 80.1,592.57 82.3,593.1 C85.03,593.75 87.77,593.94 90.5,594.7 C92.7,595.31 94.9,596.3 97.1,597.7 C98.73,598.74 100.37,602.6 102,602.6 C103.1,602.6 104.2,600.22 105.3,597.7 C106.4,595.18 107.5,584.96 108.6,581.2 C110.23,575.62 111.87,570.05 113.5,568.9 C115.13,567.75 116.77,566.9 118.4,566.9 C119.77,566.9 121.13,567.19 122.5,567.8 C123.3,568.16 124.1,573.3 124.9,576.3 C126,580.42 127.1,587.47 128.2,589.5 C129.87,592.57 131.53,593.67 133.2,595.2 C135.37,597.18 137.53,598.6 139.7,600.1 C141.9,601.62 144.1,604.3 146.3,604.3 C148.77,604.3 151.23,603.91 153.7,602.9 C154.8,602.45 155.9,593.71 157,589.5 C158.37,584.27 159.73,577.17 161.1,574.7 C162.73,571.74 164.37,568.9 166,568.9 C167.67,568.9 169.33,569.54 171,570.5 C172.37,571.28 173.73,575.67 175.1,579.6 C176.2,582.76 177.3,588.93 178.4,592.7 C180.03,598.29 181.67,606.3 183.3,607.2 C185.2,608.25 187.1,608.9 189,608.9 C192.3,608.9 195.6,608.4 198.9,608.4 C201.1,608.4 203.3,610.5 205.5,610.5 C207.7,610.5 209.9,605.3 212.1,602.6 C214.27,599.94 216.43,595.69 218.6,594.4 C220.27,593.41 221.93,592.4 223.6,592.4 C225.23,592.4 226.87,595.48 228.5,597.7 C230.13,599.92 231.77,604.17 233.4,606.7 C234.5,608.41 235.6,610.83 236.7,611.2 C238.33,611.76 239.97,611.88 241.6,612.1 C243.8,612.4 246,612.34 248.2,612.8 C249.27,613.02 250.33,614.61 251.4,615.8 C252.77,617.32 254.13,621.5 255.5,621.5 C256.9,621.5 258.3,615.63 259.7,612.5 C261.33,608.85 262.97,603.45 264.6,601 C265.97,598.95 267.33,596.4 268.7,596.4 C270.33,596.4 271.97,596.93 273.6,597.7 C274.7,598.22 275.8,600.41 276.9,602.6 C278,604.79 279.1,609.22 280.2,612.5 C281.3,615.78 282.4,619.67 283.5,622.3 C284.6,624.93 285.7,628.42 286.8,628.9 C288.7,629.74 290.6,630.2 292.5,630.2 C295.27,630.2 298.03,628 300.8,627.3 C302.97,626.75 305.13,626.82 307.3,626 C308.97,625.37 310.63,618.88 312.3,615.8 C313.93,612.78 315.57,608.06 317.2,607.5 C318.57,607.03 319.93,606.7 321.3,606.7 C322.93,606.7 324.57,607.21 326.2,607.9 C328.13,608.72 330.07,617.1 332,619 C333.63,620.61 335.27,621.21 336.9,622.3 C338.57,623.41 340.23,624.37 341.9,625.6 C343.53,626.81 345.17,628.36 346.8,629.7 C348.17,630.82 349.53,633 350.9,633 C353.33,633 355.77,633 358.2,633 C359.3,633 360.4,625.13 361.5,620.7 C362.87,615.19 364.23,606.05 365.6,602.6 C367.23,598.48 368.87,594.1 370.5,594.1 C372.43,594.1 374.37,595.38 376.3,596.9 C377.67,597.98 379.03,601.43 380.4,604.3 C381.5,606.61 382.6,610.74 383.7,612.5 C385.63,615.59 387.57,616.94 389.5,619 C391.4,621.03 393.3,622.65 395.2,624.8 C397.13,626.99 399.07,631.25 401,632.2 C402.37,632.87 403.73,633.5 405.1,633.5 C406.73,633.5 408.37,633.35 410,633 C411.1,632.76 412.2,619.31 413.3,614.1 C414.67,607.62 416.03,600.94 417.4,597.7 C418.77,594.46 420.13,590.8 421.5,590.8 C423.13,590.8 424.77,590.91 426.4,591.1 C427.8,591.26 429.2,592.68 430.6,594.4 C431.67,595.71 432.73,600.2 433.8,602.6 C434.9,605.07 436,607.57 437.1,609.2 C438.77,611.67 440.43,613.92 442.1,614.9 C444.27,616.17 446.43,616.57 448.6,617.4 C450.8,618.24 453,619.13 455.2,619.9 C456.83,620.47 458.47,621.5 460.1,621.5 C461.77,621.5 463.43,619.4 465.1,619.4 C467.27,619.4 469.43,619.86 471.6,620.4 C473.8,620.95 476,623.12 478.2,624.8 C480.37,626.45 482.53,630.13 484.7,630.6 C487.47,631.21 490.23,631.01 493,631.6 C495.17,632.06 497.33,634.32 499.5,636.5 C500.87,637.88 502.23,640.89 503.6,642.3 C504.43,643.16 505.27,643.92 506.1,644.4 C507.73,645.33 509.37,646.4 511,646.4 C511.83,646.4 512.67,645.15 513.5,643.9 C514.33,642.65 515.17,638.96 516,636.5 C516.67,634.53 517.33,632.55 518,630.6 C519.23,626.99 520.47,621.03 521.7,619.9 C523.07,618.65 524.43,617.7 525.8,617.7 C527.17,617.7 528.53,619.02 529.9,620.7 C530.47,621.4 531.03,623.25 531.6,625 C532.4,627.47 533.2,632.54 534,634.9 C535.1,638.15 536.2,641.42 537.3,642.3 C538.4,643.18 539.5,643.43 540.6,643.9 C543.63,645.19 546.67,647.2 549.7,647.2 C552.17,647.2 554.63,644.7 557.1,644.7 C559.27,644.7 561.43,645.52 563.6,646.4 C565.27,647.08 566.93,650.5 568.6,650.5 C570.23,650.5 571.87,645.46 573.5,643.9 C574.6,642.85 575.7,641.53 576.8,641.4 C577.87,641.28 578.93,641.2 580,641.2 C581.37,641.2 582.73,642.48 584.1,643.1 C585.13,643.57 586.17,644.5 587.2,644.5 C591.47,644.5 595.73,644.5 600,644.5 C604.63,644.5 609.27,644.5 613.9,644.5 C615.27,644.5 616.63,638.83 618,637.3 C619.7,635.4 621.4,633.67 623.1,633.2 C625.17,632.63 627.23,632.2 629.3,632.2 C630.67,632.2 632.03,633.78 633.4,635.3 C634.43,636.45 635.47,639.35 636.5,641.4 C637.53,643.45 638.57,645.38 639.6,647.6 C640.63,649.82 641.67,652.68 642.7,654.8 C643.7,656.85 644.7,660.3 645.7,660.3 C646.73,660.3 647.77,653.83 648.8,651.7 C649.83,649.57 650.87,646.6 651.9,646.6 C654.3,646.6 656.7,648.43 659.1,649.2 C660.8,649.75 662.5,650.7 664.2,650.7 C665.6,650.7 667,647.18 668.4,643.5 C669,641.92 669.6,637.3 670.2,635.5 C671.3,632.2 672.4,629.6 673.5,628.4 C674.97,626.8 676.43,625.3 677.9,625.3 C679.7,625.3 681.5,625.59 683.3,626.2 C684.2,626.51 685.1,629.1 686,631.9 C686.57,633.66 687.13,638.44 687.7,640.8 C688.3,643.3 688.9,645.41 689.5,647 C690.17,648.77 690.83,650.96 691.5,651.3 C693.37,652.26 695.23,652.11 697.1,652.7 C699.17,653.35 701.23,654.5 703.3,655.4" fill="none" stroke="#3a9ad9" stroke-width="1.3" stroke-linejoin="round" clip-path="url(#be3)"/>
<g><use href="#cloud" x="23.9" y="592.7"/><use href="#cloud" x="36.7" y="591.5"/><use href="#sun" x="48.1" y="601.3"/><use href="#cloud" transform="translate(50.5,604.1) scale(0.72)"/><use href="#sun" x="60.6" y="573"/><use href="#cloud" transform="translate(63.7,575.7) scale(0.72)"/><use href="#cloud" x="75.7" y="581.2"/><use href="#cloud" x="88" y="584.1"/><use href="#sun" x="100.7" y="594.1"/><use href="#sun" x="113.8" y="559"/><use href="#moon" x="126.9" y="579.3"/><use href="#moon" x="141" y="589.8"/><use href="#cloud" x="138.9" y="592.7"/><use href="#cloud" x="152.1" y="592.7"/><use href="#cloud" x="165.2" y="557.8"/><use href="#cloud" x="177.9" y="587.4"/><use href="#cloud" x="190.7" y="598.6"/><use href="#cloud" x="203.5" y="599.7"/><use href="#cloud" x="216.2" y="584.9"/><use href="#cloud" x="228.5" y="591.5"/><circle cx="226.9" cy="596.1" r="0.7" fill="#777"/><circle cx="230.1" cy="596.1" r="0.7" fill="#777"/><use href="#cloud" x="240" y="602.1"/><use href="#cloud" x="254.4" y="610.8"/><use href="#cloud" x="267.1" y="586.6"/><use href="#moon" x="281.4" y="608.4"/><use href="#cloud" x="279.7" y="611.7"/><use href="#cloud" x="292.9" y="619"/><use href="#cloud" x="305.7" y="616.7"/><use href="#cloud" x="318.3" y="596"/><use href="#moon" x="332.3" y="608.4"/><use href="#cloud" x="330.7" y="611.7"/><use href="#moon" x="345.1" y="617.4"/><use href="#cloud" x="343.5" y="620.6"/><use href="#sun" x="356" y="624"/><use href="#cloud" x="369.7" y="584.1"/><use href="#cloud" x="382.4" y="603.5"/><use href="#moon" x="396.4" y="615.4"/><use href="#cloud" x="394.7" y="618.6"/><use href="#sun" x="407.5" y="624.8"/><use href="#sun" x="419.9" y="580.9"/><use href="#cloud" transform="translate(423,583.6) scale(0.72)"/><use href="#cloud" x="433.8" y="594.3"/><use href="#cloud" x="447" y="608"/><circle cx="445.4" cy="612.6" r="0.7" fill="#777"/><circle cx="448.6" cy="612.6" r="0.7" fill="#777"/><use href="#cloud" x="459" y="611.2"/><use href="#cloud" x="471.2" y="610.4"/><circle cx="471.2" cy="615.1" r="0.75" fill="#2f7fc0"/><use href="#cloud" x="484.7" y="620.6"/><circle cx="484.7" cy="625.3" r="0.75" fill="#2f7fc0"/><use href="#cloud" x="497.1" y="623.6"/><use href="#sun" x="509.7" y="637.2"/><use href="#sun" x="522.5" y="609.2"/><use href="#cloud" x="535.7" y="631.6"/><use href="#cloud" x="548.2" y="636.4"/><use href="#cloud" x="561.2" y="635.6"/><circle cx="559.6" cy="640.2" r="0.7" fill="#777"/><circle cx="562.8" cy="640.2" r="0.7" fill="#777"/><use href="#cloud" x="574" y="631.9"/><circle cx="572.4" cy="636.5" r="0.7" fill="#777"/><circle cx="575.6" cy="636.5" r="0.7" fill="#777"/><use href="#cloud" x="586.5" y="634.7"/><circle cx="584.9" cy="639.3" r="0.7" fill="#777"/><circle cx="588.1" cy="639.3" r="0.7" fill="#777"/><use href="#cloud" x="599.6" y="633.7"/><circle cx="598" cy="638.3" r="0.7" fill="#777"/><circle cx="601.2" cy="638.3" r="0.7" fill="#777"/><use href="#cloud" x="612.4" y="633.7"/><circle cx="610.8" cy="638.3" r="0.7" fill="#777"/><circle cx="614" cy="638.3" r="0.7" fill="#777"/><use href="#cloud" x="625.4" y="621.7"/><circle cx="625.4" cy="626.4" r="0.75" fill="#2f7fc0"/><use href="#cloud" x="637.9" y="636.5"/><use href="#cloud" x="650.9" y="636.5"/><use href="#cloud" x="663.3" y="640.1"/><use href="#cloud" x="676.5" y="615.9"/><use href="#moon" x="689.5" y="642.3"/><use href="#moon" x="702" y="644.4"/></g>
<g font-size="4.8" font-weight="bold" fill="#000" stroke="#fff" stroke-width="0.9" paint-order="stroke"><text x="32.24" y="723.6" text-anchor="middle">0.1</text><text x="172.71" y="714.7" text-anchor="middle">0.4</text><text x="179.09" y="723.6" text-anchor="middle">0.1</text><text x="230.17" y="695" text-anchor="middle">1.1</text><text x="262.1" y="721.8" text-anchor="middle">0.1</text><text x="319.56" y="723.3" text-anchor="middle">0.1</text><text x="434.49" y="720.1" text-anchor="middle">0.2</text><text x="440.88" y="610.9" text-anchor="middle">4.8</text><text x="447.26" y="649.9" text-anchor="middle">2.6</text><text x="453.65" y="676.7" text-anchor="middle">1.7</text><text x="460.03" y="723.6" text-anchor="middle">0.1</text><text x="466.42" y="714.5" text-anchor="middle">0.4</text><text x="479.19" y="714.7" text-anchor="middle">0.4</text><text x="485.57" y="698.2" text-anchor="middle">0.9</text><text x="491.96" y="710.9" text-anchor="middle">0.5</text><text x="498.34" y="721.6" text-anchor="middle">0.1</text><text x="555.81" y="721.8" text-anchor="middle">0.1</text><text x="568.58" y="710.7" text-anchor="middle">0.5</text><text x="574.96" y="690.6" text-anchor="middle">1.2</text><text x="581.35" y="700.1" text-anchor="middle">0.9</text><text x="600.5" y="683.9" text-anchor="middle">1.4</text><text x="606.89" y="700.1" text-anchor="middle">0.9</text><text x="613.27" y="688.8" text-anchor="middle">1.2</text><text x="626.04" y="710.7" text-anchor="middle">0.5</text><text x="632.43" y="700.1" text-anchor="middle">0.9</text><text x="638.81" y="718.1" text-anchor="middle">0.2</text><text x="651.58" y="723.5" text-anchor="middle">0.1</text><text x="670.74" y="723.5" text-anchor="middle">0.1</text></g>
<g stroke="#d0d0d0" stroke-width="0.8"><line x1="9.89" y1="727.9" x2="9.89" y2="743.1"/><line x1="16.27" y1="727.9" x2="16.27" y2="743.1"/><line x1="22.66" y1="727.9" x2="22.66" y2="743.1"/><line x1="29.04" y1="727.9" x2="29.04" y2="743.1"/><line x1="35.43" y1="727.9" x2="35.43" y2="743.1"/><line x1="41.81" y1="727.9" x2="41.81" y2="743.1"/><line x1="48.2" y1="727.9" x2="48.2" y2="743.1"/><line x1="54.58" y1="727.9" x2="54.58" y2="743.1"/><line x1="60.97" y1="727.9" x2="60.97" y2="743.1"/><line x1="67.35" y1="727.9" x2="67.35" y2="743.1"/><line x1="73.74" y1="727.9" x2="73.74" y2="743.1"/><line x1="80.12" y1="727.9" x2="80.12" y2="743.1"/><line x1="86.51" y1="727.9" x2="86.51" y2="743.1"/><line x1="92.89" y1="727.9" x2="92.89" y2="743.1"/><line x1="99.28" y1="727.9" x2="99.28" y2="743.1"/><line x1="105.66" y1="727.9" x2="105.66" y2="743.1"/><line x1="112.05" y1="727.9" x2="112.05" y2="743.1"/><line x1="118.43" y1="727.9" x2="118.43" y2="743.1"/><line x1="124.82" y1="727.9" x2="124.82" y2="743.1"/><line x1="131.2" y1="727.9" x2="131.2" y2="743.1"/><line x1="137.59" y1="727.9" x2="137.59" y2="743.1"/><line x1="143.97" y1="727.9" x2="143.97" y2="743.1"/><line x1="150.36" y1="727.9" x2="150.36" y2="743.1"/><line x1="156.74" y1="727.9" x2="156.74" y2="743.1"/><line x1="163.13" y1="727.9" x2="163.13" y2="743.1"/><line x1="169.51" y1="727.9" x2="169.51" y2="743.1"/><line x1="175.9" y1="727.9" x2="175.9" y2="743.1"/><line x1="182.28" y1="727.9" x2="182.28" y2="743.1"/><line x1="188.67" y1="727.9" x2="188.67" y2="743.1"/><line x1="195.05" y1="727.9" x2="195.05" y2="743.1"/><line x1="201.44" y1="727.9" x2="201.44" y2="743.1"/><line x1="207.82" y1="727.9" x2="207.82" y2="743.1"/><line x1="214.21" y1="727.9" x2="214.21" y2="743.1"/><line x1="220.59" y1="727.9" x2="220.59" y2="743.1"/><line x1="226.98" y1="727.9" x2="226.98" y2="743.1"/><line x1="233.36" y1="727.9" x2="233.36" y2="743.1"/><line x1="239.75" y1="727.9" x2="239.75" y2="743.1"/><line x1="246.13" y1="727.9" x2="246.13" y2="743.1"/><line x1="252.52" y1="727.9" x2="252.52" y2="743.1"/><line x1="258.9" y1="727.9" x2="258.9" y2="743.1"/><line x1="265.29" y1="727.9" x2="265.29" y2="743.1"/><line x1="271.67" y1="727.9" x2="271.67" y2="743.1"/><line x1="278.06" y1="727.9" x2="278.06" y2="743.1"/><line x1="284.44" y1="727.9" x2="284.44" y2="743.1"/><line x1="290.83" y1="727.9" x2="290.83" y2="743.1"/><line x1="297.21" y1="727.9" x2="297.21" y2="743.1"/><line x1="303.6" y1="727.9" x2="303.6" y2="743.1"/><line x1="309.98" y1="727.9" x2="309.98" y2="743.1"/><line x1="316.37" y1="727.9" x2="316.37" y2="743.1"/><line x1="322.75" y1="727.9" x2="322.75" y2="743.1"/><line x1="329.14" y1="727.9" x2="329.14" y2="743.1"/><line x1="335.52" y1="727.9" x2="335.52" y2="743.1"/><line x1="341.91" y1="727.9" x2="341.91" y2="743.1"/><line x1="348.29" y1="727.9" x2="348.29" y2="743.1"/><line x1="354.68" y1="727.9" x2="354.68" y2="743.1"/><line x1="361.06" y1="727.9" x2="361.06" y2="743.1"/><line x1="367.45" y1="727.9" x2="367.45" y2="743.1"/><line x1="373.83" y1="727.9" x2="373.83" y2="743.1"/><line x1="380.22" y1="727.9" x2="380.22" y2="743.1"/><line x1="386.6" y1="727.9" x2="386.6" y2="743.1"/><line x1="392.99" y1="727.9" x2="392.99" y2="743.1"/><line x1="399.37" y1="727.9" x2="399.37" y2="743.1"/><line x1="405.76" y1="727.9" x2="405.76" y2="743.1"/><line x1="412.14" y1="727.9" x2="412.14" y2="743.1"/><line x1="418.53" y1="727.9" x2="418.53" y2="743.1"/><line x1="424.91" y1="727.9" x2="424.91" y2="743.1"/><line x1="431.3" y1="727.9" x2="431.3" y2="743.1"/><line x1="437.68" y1="727.9" x2="437.68" y2="743.1"/><line x1="444.07" y1="727.9" x2="444.07" y2="743.1"/><line x1="450.45" y1="727.9" x2="450.45" y2="743.1"/><line x1="456.84" y1="727.9" x2="456.84" y2="743.1"/><line x1="463.22" y1="727.9" x2="463.22" y2="743.1"/><line x1="469.61" y1="727.9" x2="469.61" y2="743.1"/><line x1="475.99" y1="727.9" x2="475.99" y2="743.1"/><line x1="482.38" y1="727.9" x2="482.38" y2="743.1"/><line x1="488.76" y1="727.9" x2="488.76" y2="743.1"/><line x1="495.15" y1="727.9" x2="495.15" y2="743.1"/><line x1="501.53" y1="727.9" x2="501.53" y2="743.1"/><line x1="507.92" y1="727.9" x2="507.92" y2="743.1"/><line x1="514.3" y1="727.9" x2="514.3" y2="743.1"/><line x1="520.69" y1="727.9" x2="520.69" y2="743.1"/><line x1="527.07" y1="727.9" x2="527.07" y2="743.1"/><line x1="533.46" y1="727.9" x2="533.46" y2="743.1"/><line x1="539.84" y1="727.9" x2="539.84" y2="743.1"/><line x1="546.23" y1="727.9" x2="546.23" y2="743.1"/><line x1="552.61" y1="727.9" x2="552.61" y2="743.1"/><line x1="559" y1="727.9" x2="559" y2="743.1"/><line x1="565.38" y1="727.9" x2="565.38" y2="743.1"/><line x1="571.77" y1="727.9" x2="571.77" y2="743.1"/><line x1="578.15" y1="727.9" x2="578.15" y2="743.1"/><line x1="584.54" y1="727.9" x2="584.54" y2="743.1"/><line x1="590.92" y1="727.9" x2="590.92" y2="743.1"/><line x1="597.31" y1="727.9" x2="597.31" y2="743.1"/><line x1="603.69" y1="727.9" x2="603.69" y2="743.1"/><line x1="610.08" y1="727.9" x2="610.08" y2="743.1"/><line x1="616.46" y1="727.9" x2="616.46" y2="743.1"/><line x1="622.85" y1="727.9" x2="622.85" y2="743.1"/><line x1="629.23" y1="727.9" x2="629.23" y2="743.1"/><line x1="635.62" y1="727.9" x2="635.62" y2="743.1"/><line x1="642" y1="727.9" x2="642" y2="743.1"/><line x1="648.39" y1="727.9" x2="648.39" y2="743.1"/><line x1="654.77" y1="727.9" x2="654.77" y2="743.1"/><line x1="661.16" y1="727.9" x2="661.16" y2="743.1"/><line x1="667.54" y1="727.9" x2="667.54" y2="743.1"/><line x1="673.93" y1="727.9" x2="673.93" y2="743.1"/><line x1="680.31" y1="727.9" x2="680.31" y2="743.1"/><line x1="686.7" y1="727.9" x2="686.7" y2="743.1"/><line x1="693.08" y1="727.9" x2="693.08" y2="743.1"/><line x1="699.47" y1="727.9" x2="699.47" y2="743.1"/><line x1="705.85" y1="727.9" x2="705.85" y2="743.1"/></g>
<line x1="9.2" y1="727.9" x2="706.4" y2="727.9" stroke="#d0d0d0" stroke-width="0.9"/>
<line x1="9.2" y1="743.1" x2="706.4" y2="743.1" stroke="#c5d3ea" stroke-width="1" stroke-dasharray="1 1"/>
<g stroke="#111" stroke-width="1" fill="none"><line x1="21.4" y1="736.3" x2="14.26" y2="735.14"/><path d="M11.6,734.7 L14.79,733.8 L14.34,736.57Z" stroke="none" fill="#111"/><line x1="21.4" y1="736.3" x2="21.44" y2="738.54" stroke-width="0.75"/><line x1="41.2" y1="737" x2="33.86" y2="734.55"/><path d="M31.3,733.7 L34.59,733.32 L33.7,735.98Z" stroke="none" fill="#111"/><line x1="41.2" y1="737" x2="40.88" y2="739.21" stroke-width="0.75"/><line x1="59.2" y1="738" x2="53.39" y2="734.95"/><path d="M51,733.7 L54.31,733.85 L53.01,736.33Z" stroke="none" fill="#111"/><line x1="59.2" y1="738" x2="58.53" y2="740.13" stroke-width="0.75"/><line x1="79" y1="738.6" x2="73.03" y2="735.07"/><path d="M70.7,733.7 L74,734.02 L72.57,736.43Z" stroke="none" fill="#111"/><line x1="79" y1="738.6" x2="78.23" y2="740.7" stroke-width="0.75"/><line x1="98.7" y1="738.6" x2="92.17" y2="735"/><path d="M89.8,733.7 L93.1,733.92 L91.75,736.37Z" stroke="none" fill="#111"/><line x1="98.7" y1="738.6" x2="97.99" y2="740.72" stroke-width="0.75"/><line x1="116.1" y1="739.3" x2="111.31" y2="734"/><path d="M109.5,732 L112.55,733.29 L110.47,735.16Z" stroke="none" fill="#111"/><line x1="116.1" y1="739.3" x2="114.74" y2="741.07" stroke-width="0.75"/><line x1="135.8" y1="738.6" x2="130.42" y2="734.37"/><path d="M128.3,732.7 L131.52,733.45 L129.79,735.66Z" stroke="none" fill="#111"/><line x1="135.8" y1="738.6" x2="134.75" y2="740.58" stroke-width="0.75"/><line x1="146.4" y1="735.3" x2="154.21" y2="736.04"/><path d="M156.9,736.3 L153.78,737.41 L154.05,734.62Z" stroke="none" fill="#111"/><line x1="146.4" y1="735.3" x2="146.21" y2="733.07" stroke-width="0.75"/><line x1="165.4" y1="734.7" x2="173.2" y2="735.15"/><path d="M175.9,735.3 L172.83,736.53 L172.98,733.73Z" stroke="none" fill="#111"/><line x1="165.4" y1="734.7" x2="165.13" y2="732.48" stroke-width="0.75"/><line x1="193" y1="731.4" x2="189.06" y2="736.47"/><path d="M187.4,738.6 L188.14,735.37 L190.35,737.09Z" stroke="none" fill="#111"/><line x1="193" y1="731.4" x2="194.98" y2="732.43" stroke-width="0.75"/><line x1="210.5" y1="730.4" x2="208.14" y2="736.77"/><path d="M207.2,739.3 L206.93,736 L209.56,736.97Z" stroke="none" fill="#111"/><line x1="210.5" y1="730.4" x2="212.7" y2="730.79" stroke-width="0.75"/><line x1="231.8" y1="732" x2="226.59" y2="736.78"/><path d="M224.6,738.6 L225.87,735.54 L227.76,737.6Z" stroke="none" fill="#111"/><line x1="231.8" y1="732" x2="233.58" y2="733.35" stroke-width="0.75"/><line x1="251.5" y1="732.5" x2="245.53" y2="736.58"/><path d="M243.3,738.1 L244.99,735.25 L246.57,737.56Z" stroke="none" fill="#111"/><line x1="251.5" y1="732.5" x2="253.07" y2="734.09" stroke-width="0.75"/><line x1="272.9" y1="732.5" x2="264.78" y2="736.83"/><path d="M262.4,738.1 L264.39,735.45 L265.71,737.92Z" stroke="none" fill="#111"/><line x1="272.9" y1="732.5" x2="274.29" y2="734.25" stroke-width="0.75"/><line x1="291" y1="733.8" x2="282.73" y2="735.77"/><path d="M280.1,736.4 L282.69,734.34 L283.34,737.07Z" stroke="none" fill="#111"/><line x1="291" y1="733.8" x2="291.9" y2="735.85" stroke-width="0.75"/><line x1="310" y1="734.1" x2="301.84" y2="735.84"/><path d="M299.2,736.4 L301.84,734.41 L302.43,737.14Z" stroke="none" fill="#111"/><line x1="310" y1="734.1" x2="310.85" y2="736.17" stroke-width="0.75"/><line x1="321.5" y1="732.2" x2="325.58" y2="738.17"/><path d="M327.1,740.4 L324.25,738.71 L326.56,737.13Z" stroke="none" fill="#111"/><line x1="321.5" y1="732.2" x2="323.09" y2="730.63" stroke-width="0.75"/><line x1="348.5" y1="734.8" x2="340.69" y2="735.54"/><path d="M338,735.8 L340.85,734.12 L341.12,736.91Z" stroke="none" fill="#111"/><line x1="348.5" y1="734.8" x2="349.11" y2="736.95" stroke-width="0.75"/><line x1="367.5" y1="737.1" x2="359.97" y2="734.64"/><path d="M357.4,733.8 L360.69,733.4 L359.82,736.06Z" stroke="none" fill="#111"/><line x1="367.5" y1="737.1" x2="367.2" y2="739.32" stroke-width="0.75"/><line x1="378" y1="731.5" x2="382.91" y2="737.6"/><path d="M384.6,739.7 L381.63,738.24 L383.81,736.49Z" stroke="none" fill="#111"/><line x1="378" y1="731.5" x2="379.46" y2="729.81" stroke-width="0.75"/><line x1="405.3" y1="733.8" x2="398.06" y2="736.24"/><path d="M395.5,737.1 L397.9,734.82 L398.79,737.47Z" stroke="none" fill="#111"/><line x1="405.3" y1="733.8" x2="406.38" y2="735.76" stroke-width="0.75"/><line x1="424.1" y1="737.1" x2="417.44" y2="734.71"/><path d="M414.9,733.8 L418.2,733.5 L417.25,736.13Z" stroke="none" fill="#111"/><line x1="424.1" y1="737.1" x2="423.73" y2="739.31" stroke-width="0.75"/><line x1="443.8" y1="737.4" x2="436.53" y2="734.73"/><path d="M434,733.8 L437.3,733.52 L436.33,736.15Z" stroke="none" fill="#111"/><line x1="443.8" y1="737.4" x2="443.42" y2="739.6" stroke-width="0.75"/><line x1="463.5" y1="733.1" x2="455.44" y2="736.94"/><path d="M453,738.1 L455.11,735.55 L456.31,738.07Z" stroke="none" fill="#111"/><line x1="463.5" y1="733.1" x2="464.81" y2="734.91" stroke-width="0.75"/><line x1="481.9" y1="733.4" x2="474.95" y2="736.66"/><path d="M472.5,737.8 L474.62,735.26 L475.81,737.8Z" stroke="none" fill="#111"/><line x1="481.9" y1="733.4" x2="483.19" y2="735.22" stroke-width="0.75"/><line x1="499.7" y1="732.1" x2="494.51" y2="737.29"/><path d="M492.6,739.2 L493.73,736.09 L495.71,738.07Z" stroke="none" fill="#111"/><line x1="499.7" y1="732.1" x2="501.54" y2="733.37" stroke-width="0.75"/><line x1="519.3" y1="732.8" x2="513.83" y2="737.04"/><path d="M511.7,738.7 L513.21,735.75 L514.93,737.97Z" stroke="none" fill="#111"/><line x1="519.3" y1="732.8" x2="520.97" y2="734.29" stroke-width="0.75"/><line x1="538.9" y1="733.4" x2="532.78" y2="737.26"/><path d="M530.5,738.7 L532.29,735.92 L533.78,738.28Z" stroke="none" fill="#111"/><line x1="538.9" y1="733.4" x2="540.41" y2="735.05" stroke-width="0.75"/><line x1="557.6" y1="732.8" x2="551.77" y2="737.1"/><path d="M549.6,738.7 L551.18,735.79 L552.85,738.05Z" stroke="none" fill="#111"/><line x1="557.6" y1="732.8" x2="559.23" y2="734.33" stroke-width="0.75"/><line x1="577.2" y1="733.4" x2="571.1" y2="736.56"/><path d="M568.7,737.8 L570.72,735.18 L572.01,737.66Z" stroke="none" fill="#111"/><line x1="577.2" y1="733.4" x2="578.57" y2="735.17" stroke-width="0.75"/><line x1="596.4" y1="733.5" x2="589.58" y2="737.13"/><path d="M587.2,738.4 L589.19,735.75 L590.51,738.23Z" stroke="none" fill="#111"/><line x1="596.4" y1="733.5" x2="597.79" y2="735.25" stroke-width="0.75"/><line x1="614.5" y1="739" x2="609.55" y2="733.76"/><path d="M607.7,731.8 L610.78,733.02 L608.74,734.94Z" stroke="none" fill="#111"/><line x1="614.5" y1="739" x2="613.18" y2="740.8" stroke-width="0.75"/><line x1="625.6" y1="734.9" x2="633.25" y2="736.46"/><path d="M635.9,737 L632.68,737.77 L633.24,735.03Z" stroke="none" fill="#111"/><line x1="625.6" y1="734.9" x2="625.65" y2="732.66" stroke-width="0.75"/><line x1="654.4" y1="733.9" x2="647.22" y2="736.64"/><path d="M644.7,737.6 L647,735.22 L648,737.84Z" stroke="none" fill="#111"/><line x1="654.4" y1="733.9" x2="655.56" y2="735.81" stroke-width="0.75"/><line x1="673.5" y1="732.9" x2="666.46" y2="737.52"/><path d="M664.2,739 L665.94,736.18 L667.48,738.53Z" stroke="none" fill="#111"/><line x1="673.5" y1="732.9" x2="675.04" y2="734.52" stroke-width="0.75"/><line x1="693" y1="734.9" x2="685.37" y2="736.01"/><path d="M682.7,736.4 L685.47,734.58 L685.87,737.35Z" stroke="none" fill="#111"/><line x1="693" y1="734.9" x2="693.71" y2="737.02" stroke-width="0.75"/><line x1="711.5" y1="732.3" x2="705.03" y2="737.34"/><path d="M702.9,739 L704.41,736.05 L706.13,738.26Z" stroke="none" fill="#111"/><line x1="711.5" y1="732.3" x2="713.17" y2="733.79" stroke-width="0.75"/></g>
<g font-size="6.1" fill="#666" text-anchor="middle" letter-spacing="0.4"><text x="21.13" y="752.5">18</text><text x="33.9" y="752.5">00</text><text x="46.67" y="752.5">06</text><text x="59.44" y="752.5">12</text><text x="72.21" y="752.5">18</text><text x="84.98" y="752.5">00</text><text x="97.75" y="752.5">06</text><text x="110.52" y="752.5">12</text><text x="123.29" y="752.5">18</text><text x="136.06" y="752.5">00</text><text x="148.83" y="752.5">06</text><text x="161.6" y="752.5">12</text><text x="174.37" y="752.5">18</text><text x="187.14" y="752.5">00</text><text x="199.91" y="752.5">06</text><text x="212.68" y="752.5">12</text><text x="225.45" y="752.5">18</text><text x="238.22" y="752.5">00</text><text x="250.99" y="752.5">06</text><text x="263.76" y="752.5">12</text><text x="276.53" y="752.5">18</text><text x="289.3" y="752.5">00</text><text x="302.07" y="752.5">06</text><text x="314.84" y="752.5">12</text><text x="327.61" y="752.5">18</text><text x="340.38" y="752.5">00</text><text x="353.15" y="752.5">06</text><text x="365.92" y="752.5">12</text><text x="378.69" y="752.5">18</text><text x="391.46" y="752.5">00</text><text x="404.23" y="752.5">06</text><text x="417" y="752.5">12</text><text x="429.77" y="752.5">18</text><text x="442.54" y="752.5">00</text><text x="455.31" y="752.5">06</text><text x="468.08" y="752.5">12</text><text x="480.85" y="752.5">18</text><text x="493.62" y="752.5">00</text><text x="506.39" y="752.5">06</text><text x="519.16" y="752.5">12</text><text x="531.93" y="752.5">18</text><text x="544.7" y="752.5">00</text><text x="557.47" y="752.5">06</text><text x="570.24" y="752.5">12</text><text x="583.01" y="752.5">18</text><text x="595.78" y="752.5">00</text><text x="608.55" y="752.5">06</text><text x="621.32" y="752.5">12</text><text x="634.09" y="752.5">18</text><text x="646.86" y="752.5">00</text><text x="659.63" y="752.5">06</text><text x="672.4" y="752.5">12</text><text x="685.17" y="752.5">18</text><text x="697.94" y="752.5">00</text></g>
<text x="329.4" y="763.5" font-size="6.55" fill="#666">Local time (UTC+1)</text>
<text x="705.7" y="761.6" text-anchor="end" font-size="5.2" fill="#999">wetterzentrale.de</text>
<text x="159" y="673.8" font-family="'Liberation Serif', serif" font-size="32.3" fill="#000">havas és hideg</text>
</svg></body></html>
